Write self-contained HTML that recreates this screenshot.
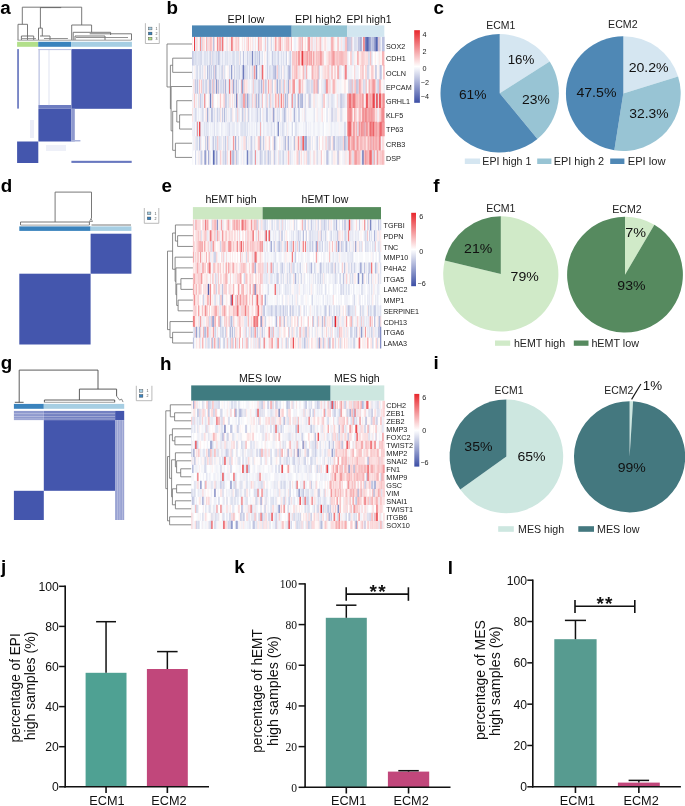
<!DOCTYPE html>
<html><head><meta charset="utf-8"><style>
html,body{margin:0;padding:0;background:#fff;}
body{width:685px;height:806px;overflow:hidden;}
svg{display:block;will-change:transform;}
</style></head><body>
<svg width="685" height="806" viewBox="0 0 685 806" shape-rendering="auto">
<rect x="0" y="0" width="685" height="806" fill="#fff"/>
<text x="0.30" y="13.50" font-size="18.8" text-anchor="start" font-weight="bold" fill="#000" font-family='"Liberation Sans", sans-serif' >a</text>
<text x="166.60" y="13.70" font-size="18.8" text-anchor="start" font-weight="bold" fill="#000" font-family='"Liberation Sans", sans-serif' >b</text>
<text x="433.60" y="13.70" font-size="18.8" text-anchor="start" font-weight="bold" fill="#000" font-family='"Liberation Sans", sans-serif' >c</text>
<text x="0.80" y="191.90" font-size="18.8" text-anchor="start" font-weight="bold" fill="#000" font-family='"Liberation Sans", sans-serif' >d</text>
<text x="161.50" y="192.00" font-size="18.8" text-anchor="start" font-weight="bold" fill="#000" font-family='"Liberation Sans", sans-serif' >e</text>
<text x="433.30" y="191.60" font-size="18.8" text-anchor="start" font-weight="bold" fill="#000" font-family='"Liberation Sans", sans-serif' >f</text>
<text x="0.80" y="368.60" font-size="18.8" text-anchor="start" font-weight="bold" fill="#000" font-family='"Liberation Sans", sans-serif' >g</text>
<text x="160.00" y="369.70" font-size="18.8" text-anchor="start" font-weight="bold" fill="#000" font-family='"Liberation Sans", sans-serif' >h</text>
<text x="433.60" y="369.40" font-size="18.8" text-anchor="start" font-weight="bold" fill="#000" font-family='"Liberation Sans", sans-serif' >i</text>
<text x="0.90" y="572.60" font-size="18.8" text-anchor="start" font-weight="bold" fill="#000" font-family='"Liberation Sans", sans-serif' >j</text>
<text x="234.20" y="572.60" font-size="18.8" text-anchor="start" font-weight="bold" fill="#000" font-family='"Liberation Sans", sans-serif' >k</text>
<text x="447.80" y="573.70" font-size="18.8" text-anchor="start" font-weight="bold" fill="#000" font-family='"Liberation Sans", sans-serif' >l</text>
<path d="M499.70,93.30 L499.70,34.10 A59.2,59.2 0 0 1 549.68,61.58 Z" stroke="none" fill="#d5e6f1" stroke-width="1" />
<path d="M499.70,93.30 L549.68,61.58 A59.2,59.2 0 0 1 537.44,138.91 Z" stroke="none" fill="#98c4d4" stroke-width="1" />
<path d="M499.70,93.30 L537.44,138.91 A59.2,59.2 0 1 1 499.70,34.10 Z" stroke="none" fill="#4f88b5" stroke-width="1" />
<path d="M623.30,93.60 L623.30,36.20 A57.4,57.4 0 0 1 678.10,76.53 Z" stroke="none" fill="#d5e6f1" stroke-width="1" />
<path d="M623.30,93.60 L678.10,76.53 A57.4,57.4 0 0 1 614.32,150.29 Z" stroke="none" fill="#98c4d4" stroke-width="1" />
<path d="M623.30,93.60 L614.32,150.29 A57.4,57.4 0 0 1 623.30,36.20 Z" stroke="none" fill="#4f88b5" stroke-width="1" />
<text x="500.70" y="28.50" font-size="10.2" text-anchor="middle" fill="#222" font-family='"Liberation Sans", sans-serif' textLength="29.0" lengthAdjust="spacingAndGlyphs">ECM1</text>
<text x="622.85" y="28.30" font-size="10.2" text-anchor="middle" fill="#222" font-family='"Liberation Sans", sans-serif' textLength="29.5" lengthAdjust="spacingAndGlyphs">ECM2</text>
<text x="521.00" y="63.60" font-size="13.2" text-anchor="middle" fill="#111" font-family='"Liberation Sans", sans-serif' textLength="26.7" lengthAdjust="spacingAndGlyphs">16%</text>
<text x="535.85" y="103.60" font-size="13.2" text-anchor="middle" fill="#111" font-family='"Liberation Sans", sans-serif' textLength="27.8" lengthAdjust="spacingAndGlyphs">23%</text>
<text x="472.75" y="98.70" font-size="13.2" text-anchor="middle" fill="#111" font-family='"Liberation Sans", sans-serif' textLength="27.6" lengthAdjust="spacingAndGlyphs">61%</text>
<text x="648.65" y="71.90" font-size="13.2" text-anchor="middle" fill="#111" font-family='"Liberation Sans", sans-serif' textLength="40.0" lengthAdjust="spacingAndGlyphs">20.2%</text>
<text x="648.95" y="117.50" font-size="13.2" text-anchor="middle" fill="#111" font-family='"Liberation Sans", sans-serif' textLength="39.4" lengthAdjust="spacingAndGlyphs">32.3%</text>
<text x="596.45" y="96.60" font-size="13.2" text-anchor="middle" fill="#111" font-family='"Liberation Sans", sans-serif' textLength="40.0" lengthAdjust="spacingAndGlyphs">47.5%</text>
<rect x="464.80" y="158.50" width="15.30" height="5.50" fill="#d5e6f1" />
<text x="482.30" y="165.10" font-size="10.2" fill="#222" font-family='"Liberation Sans", sans-serif' textLength="49.1" lengthAdjust="spacingAndGlyphs">EPI high 1</text>
<rect x="537.20" y="158.50" width="14.20" height="5.50" fill="#98c4d4" />
<text x="553.70" y="165.10" font-size="10.2" fill="#222" font-family='"Liberation Sans", sans-serif' textLength="50.4" lengthAdjust="spacingAndGlyphs">EPI high 2</text>
<rect x="610.20" y="158.50" width="14.20" height="5.50" fill="#4f88b5" />
<text x="627.70" y="165.10" font-size="10.2" fill="#222" font-family='"Liberation Sans", sans-serif' textLength="37.9" lengthAdjust="spacingAndGlyphs">EPI low</text>
<path d="M500.80,273.90 L500.80,216.30 A57.6,57.6 0 1 1 444.79,260.45 Z" stroke="none" fill="#d0eac8" stroke-width="1" />
<path d="M500.80,273.90 L444.79,260.45 A57.6,57.6 0 0 1 500.80,216.30 Z" stroke="none" fill="#568a5f" stroke-width="1" />
<path d="M625.00,274.70 L625.00,216.80 A57.9,57.9 0 0 1 654.39,224.81 Z" stroke="none" fill="#d0eac8" stroke-width="1" />
<path d="M625.00,274.70 L654.39,224.81 A57.9,57.9 0 1 1 625.00,216.80 Z" stroke="none" fill="#568a5f" stroke-width="1" />
<text x="500.85" y="211.70" font-size="10.2" text-anchor="middle" fill="#222" font-family='"Liberation Sans", sans-serif' textLength="29.3" lengthAdjust="spacingAndGlyphs">ECM1</text>
<text x="626.95" y="213.00" font-size="10.2" text-anchor="middle" fill="#222" font-family='"Liberation Sans", sans-serif' textLength="29.5" lengthAdjust="spacingAndGlyphs">ECM2</text>
<text x="478.15" y="252.90" font-size="13.2" text-anchor="middle" fill="#111" font-family='"Liberation Sans", sans-serif' textLength="28.2" lengthAdjust="spacingAndGlyphs">21%</text>
<text x="524.65" y="280.80" font-size="13.2" text-anchor="middle" fill="#111" font-family='"Liberation Sans", sans-serif' textLength="28.2" lengthAdjust="spacingAndGlyphs">79%</text>
<text x="635.55" y="236.90" font-size="13.2" text-anchor="middle" fill="#111" font-family='"Liberation Sans", sans-serif' textLength="20.8" lengthAdjust="spacingAndGlyphs">7%</text>
<text x="631.45" y="289.90" font-size="13.2" text-anchor="middle" fill="#111" font-family='"Liberation Sans", sans-serif' textLength="28.2" lengthAdjust="spacingAndGlyphs">93%</text>
<rect x="495.00" y="340.50" width="15.20" height="5.30" fill="#d0eac8" />
<text x="513.90" y="346.70" font-size="10.2" fill="#222" font-family='"Liberation Sans", sans-serif' textLength="51.3" lengthAdjust="spacingAndGlyphs">hEMT high</text>
<rect x="573.80" y="340.50" width="14.70" height="5.30" fill="#568a5f" />
<text x="591.40" y="346.70" font-size="10.2" fill="#222" font-family='"Liberation Sans", sans-serif' textLength="47.6" lengthAdjust="spacingAndGlyphs">hEMT low</text>
<path d="M506.40,456.40 L506.40,399.60 A56.8,56.8 0 1 1 460.27,489.55 Z" stroke="none" fill="#cde7e0" stroke-width="1" />
<path d="M506.40,456.40 L460.27,489.55 A56.8,56.8 0 0 1 506.40,399.60 Z" stroke="none" fill="#44787f" stroke-width="1" />
<path d="M629.60,456.80 L629.60,401.20 A55.6,55.6 0 0 1 633.09,401.31 Z" stroke="none" fill="#cde7e0" stroke-width="1" />
<path d="M629.60,456.80 L633.09,401.31 A55.6,55.6 0 1 1 629.60,401.20 Z" stroke="none" fill="#44787f" stroke-width="1" />
<text x="509.05" y="394.00" font-size="10.2" text-anchor="middle" fill="#222" font-family='"Liberation Sans", sans-serif' textLength="28.9" lengthAdjust="spacingAndGlyphs">ECM1</text>
<text x="618.75" y="394.20" font-size="10.2" text-anchor="middle" fill="#222" font-family='"Liberation Sans", sans-serif' textLength="29.1" lengthAdjust="spacingAndGlyphs">ECM2</text>
<text x="478.45" y="451.30" font-size="13.2" text-anchor="middle" fill="#111" font-family='"Liberation Sans", sans-serif' textLength="28.2" lengthAdjust="spacingAndGlyphs">35%</text>
<text x="531.55" y="461.40" font-size="13.2" text-anchor="middle" fill="#111" font-family='"Liberation Sans", sans-serif' textLength="28.2" lengthAdjust="spacingAndGlyphs">65%</text>
<text x="631.70" y="472.00" font-size="13.2" text-anchor="middle" fill="#111" font-family='"Liberation Sans", sans-serif' textLength="28.1" lengthAdjust="spacingAndGlyphs">99%</text>
<text x="652.40" y="389.50" font-size="13.2" text-anchor="middle" fill="#111" font-family='"Liberation Sans", sans-serif' textLength="19.3" lengthAdjust="spacingAndGlyphs">1%</text>
<line x1="631.60" y1="399.40" x2="640.90" y2="384.00" stroke="#111" stroke-width="1.1" />
<rect x="498.20" y="526.20" width="15.60" height="5.60" fill="#cde7e0" />
<text x="518.00" y="533.00" font-size="10.2" fill="#222" font-family='"Liberation Sans", sans-serif' textLength="46.2" lengthAdjust="spacingAndGlyphs">MES high</text>
<rect x="578.30" y="526.20" width="15.70" height="5.60" fill="#44787f" />
<text x="597.00" y="533.00" font-size="10.2" fill="#222" font-family='"Liberation Sans", sans-serif' textLength="42.4" lengthAdjust="spacingAndGlyphs">MES low</text>
<rect x="85.60" y="672.80" width="40.90" height="114.00" fill="#4fa193" />
<line x1="106.05" y1="672.80" x2="106.05" y2="621.70" stroke="#111" stroke-width="1.5" />
<line x1="96.10" y1="621.70" x2="116.00" y2="621.70" stroke="#111" stroke-width="1.5" />
<line x1="106.05" y1="786.80" x2="106.05" y2="793.00" stroke="#111" stroke-width="1.6" />
<rect x="146.90" y="669.00" width="40.90" height="117.80" fill="#c1477b" />
<line x1="167.35" y1="669.00" x2="167.35" y2="651.60" stroke="#111" stroke-width="1.5" />
<line x1="157.10" y1="651.60" x2="177.60" y2="651.60" stroke="#111" stroke-width="1.5" />
<line x1="167.35" y1="786.80" x2="167.35" y2="793.00" stroke="#111" stroke-width="1.6" />
<line x1="65.20" y1="585.55" x2="65.20" y2="787.55" stroke="#111" stroke-width="1.6" />
<line x1="64.40" y1="786.80" x2="209.00" y2="786.80" stroke="#111" stroke-width="1.6" />
<line x1="59.10" y1="786.80" x2="65.20" y2="786.80" stroke="#111" stroke-width="1.5" />
<text x="58.80" y="791.20" font-size="12.2" text-anchor="end" font-weight="normal" fill="#111" font-family='"Liberation Sans", sans-serif' >0</text>
<line x1="59.10" y1="746.70" x2="65.20" y2="746.70" stroke="#111" stroke-width="1.5" />
<text x="58.80" y="751.10" font-size="12.2" text-anchor="end" font-weight="normal" fill="#111" font-family='"Liberation Sans", sans-serif' >20</text>
<line x1="59.10" y1="706.60" x2="65.20" y2="706.60" stroke="#111" stroke-width="1.5" />
<text x="58.80" y="711.00" font-size="12.2" text-anchor="end" font-weight="normal" fill="#111" font-family='"Liberation Sans", sans-serif' >40</text>
<line x1="59.10" y1="666.50" x2="65.20" y2="666.50" stroke="#111" stroke-width="1.5" />
<text x="58.80" y="670.90" font-size="12.2" text-anchor="end" font-weight="normal" fill="#111" font-family='"Liberation Sans", sans-serif' >60</text>
<line x1="59.10" y1="626.40" x2="65.20" y2="626.40" stroke="#111" stroke-width="1.5" />
<text x="58.80" y="630.80" font-size="12.2" text-anchor="end" font-weight="normal" fill="#111" font-family='"Liberation Sans", sans-serif' >80</text>
<line x1="59.10" y1="586.30" x2="65.20" y2="586.30" stroke="#111" stroke-width="1.5" />
<text x="58.80" y="590.70" font-size="12.2" text-anchor="end" font-weight="normal" fill="#111" font-family='"Liberation Sans", sans-serif' >100</text>
<rect x="325.80" y="617.80" width="41.00" height="169.50" fill="#579b90" />
<line x1="346.30" y1="617.80" x2="346.30" y2="605.20" stroke="#111" stroke-width="1.5" />
<line x1="336.15" y1="605.20" x2="356.45" y2="605.20" stroke="#111" stroke-width="1.5" />
<line x1="346.30" y1="787.30" x2="346.30" y2="793.50" stroke="#111" stroke-width="1.6" />
<rect x="387.90" y="771.60" width="41.30" height="15.70" fill="#c1477b" />
<line x1="408.55" y1="771.60" x2="408.55" y2="770.70" stroke="#111" stroke-width="1.5" />
<line x1="398.30" y1="770.70" x2="418.80" y2="770.70" stroke="#111" stroke-width="1.5" />
<line x1="408.55" y1="787.30" x2="408.55" y2="793.50" stroke="#111" stroke-width="1.6" />
<line x1="305.10" y1="583.15" x2="305.10" y2="788.05" stroke="#111" stroke-width="1.6" />
<line x1="304.30" y1="787.30" x2="450.50" y2="787.30" stroke="#111" stroke-width="1.6" />
<line x1="298.60" y1="787.30" x2="305.10" y2="787.30" stroke="#111" stroke-width="1.5" />
<text transform="translate(297.00,791.80) scale(0.87,1)" font-size="13.3" text-anchor="end" fill="#111" font-family='"Liberation Serif", serif'>0</text>
<line x1="298.60" y1="746.62" x2="305.10" y2="746.62" stroke="#111" stroke-width="1.5" />
<text transform="translate(297.00,751.12) scale(0.87,1)" font-size="13.3" text-anchor="end" fill="#111" font-family='"Liberation Serif", serif'>20</text>
<line x1="298.60" y1="705.94" x2="305.10" y2="705.94" stroke="#111" stroke-width="1.5" />
<text transform="translate(297.00,710.44) scale(0.87,1)" font-size="13.3" text-anchor="end" fill="#111" font-family='"Liberation Serif", serif'>40</text>
<line x1="298.60" y1="665.26" x2="305.10" y2="665.26" stroke="#111" stroke-width="1.5" />
<text transform="translate(297.00,669.76) scale(0.87,1)" font-size="13.3" text-anchor="end" fill="#111" font-family='"Liberation Serif", serif'>60</text>
<line x1="298.60" y1="624.58" x2="305.10" y2="624.58" stroke="#111" stroke-width="1.5" />
<text transform="translate(297.00,629.08) scale(0.87,1)" font-size="13.3" text-anchor="end" fill="#111" font-family='"Liberation Serif", serif'>80</text>
<line x1="298.60" y1="583.90" x2="305.10" y2="583.90" stroke="#111" stroke-width="1.5" />
<text transform="translate(297.00,588.40) scale(0.87,1)" font-size="13.3" text-anchor="end" fill="#111" font-family='"Liberation Serif", serif'>100</text>
<rect x="554.30" y="639.20" width="42.30" height="147.60" fill="#579b90" />
<line x1="575.45" y1="639.20" x2="575.45" y2="620.40" stroke="#111" stroke-width="1.5" />
<line x1="564.90" y1="620.40" x2="586.00" y2="620.40" stroke="#111" stroke-width="1.5" />
<line x1="575.45" y1="786.80" x2="575.45" y2="793.00" stroke="#111" stroke-width="1.6" />
<rect x="617.90" y="782.60" width="41.90" height="4.20" fill="#c1477b" />
<line x1="638.85" y1="782.60" x2="638.85" y2="780.40" stroke="#111" stroke-width="1.5" />
<line x1="628.60" y1="780.40" x2="649.10" y2="780.40" stroke="#111" stroke-width="1.5" />
<line x1="638.85" y1="786.80" x2="638.85" y2="793.00" stroke="#111" stroke-width="1.6" />
<line x1="532.80" y1="579.45" x2="532.80" y2="787.55" stroke="#111" stroke-width="1.6" />
<line x1="532.00" y1="786.80" x2="680.90" y2="786.80" stroke="#111" stroke-width="1.6" />
<line x1="527.30" y1="786.80" x2="532.80" y2="786.80" stroke="#111" stroke-width="1.5" />
<text x="527.00" y="791.20" font-size="12.2" text-anchor="end" font-weight="normal" fill="#111" font-family='"Liberation Sans", sans-serif' >0</text>
<line x1="527.30" y1="745.48" x2="532.80" y2="745.48" stroke="#111" stroke-width="1.5" />
<text x="527.00" y="749.88" font-size="12.2" text-anchor="end" font-weight="normal" fill="#111" font-family='"Liberation Sans", sans-serif' >20</text>
<line x1="527.30" y1="704.16" x2="532.80" y2="704.16" stroke="#111" stroke-width="1.5" />
<text x="527.00" y="708.56" font-size="12.2" text-anchor="end" font-weight="normal" fill="#111" font-family='"Liberation Sans", sans-serif' >40</text>
<line x1="527.30" y1="662.84" x2="532.80" y2="662.84" stroke="#111" stroke-width="1.5" />
<text x="527.00" y="667.24" font-size="12.2" text-anchor="end" font-weight="normal" fill="#111" font-family='"Liberation Sans", sans-serif' >60</text>
<line x1="527.30" y1="621.52" x2="532.80" y2="621.52" stroke="#111" stroke-width="1.5" />
<text x="527.00" y="625.92" font-size="12.2" text-anchor="end" font-weight="normal" fill="#111" font-family='"Liberation Sans", sans-serif' >80</text>
<line x1="527.30" y1="580.20" x2="532.80" y2="580.20" stroke="#111" stroke-width="1.5" />
<text x="527.00" y="584.60" font-size="12.2" text-anchor="end" font-weight="normal" fill="#111" font-family='"Liberation Sans", sans-serif' >100</text>
<text x="106.90" y="804.80" font-size="12.6" text-anchor="middle" fill="#111" font-family='"Liberation Sans", sans-serif' textLength="35.3" lengthAdjust="spacingAndGlyphs">ECM1</text>
<text x="168.90" y="804.80" font-size="12.6" text-anchor="middle" fill="#111" font-family='"Liberation Sans", sans-serif' textLength="35.3" lengthAdjust="spacingAndGlyphs">ECM2</text>
<text x="348.60" y="804.80" font-size="12.6" text-anchor="middle" fill="#111" font-family='"Liberation Sans", sans-serif' textLength="35.3" lengthAdjust="spacingAndGlyphs">ECM1</text>
<text x="411.10" y="804.80" font-size="12.6" text-anchor="middle" fill="#111" font-family='"Liberation Sans", sans-serif' textLength="35.3" lengthAdjust="spacingAndGlyphs">ECM2</text>
<text x="577.50" y="804.80" font-size="12.6" text-anchor="middle" fill="#111" font-family='"Liberation Sans", sans-serif' textLength="35.3" lengthAdjust="spacingAndGlyphs">ECM1</text>
<text x="641.10" y="804.80" font-size="12.6" text-anchor="middle" fill="#111" font-family='"Liberation Sans", sans-serif' textLength="35.3" lengthAdjust="spacingAndGlyphs">ECM2</text>
<line x1="346.20" y1="594.10" x2="408.40" y2="594.10" stroke="#111" stroke-width="1.6" />
<line x1="346.20" y1="587.30" x2="346.20" y2="600.80" stroke="#111" stroke-width="1.6" />
<line x1="408.40" y1="587.30" x2="408.40" y2="600.80" stroke="#111" stroke-width="1.6" />
<text x="369.60" y="597.90" font-size="19" text-anchor="start" font-weight="bold" fill="#111" font-family='"Liberation Sans", sans-serif' letter-spacing="1.3">**</text>
<line x1="575.00" y1="606.20" x2="634.80" y2="606.20" stroke="#111" stroke-width="1.6" />
<line x1="575.00" y1="599.90" x2="575.00" y2="613.00" stroke="#111" stroke-width="1.6" />
<line x1="634.80" y1="599.90" x2="634.80" y2="613.00" stroke="#111" stroke-width="1.6" />
<text x="596.40" y="610.40" font-size="19" text-anchor="start" font-weight="bold" fill="#111" font-family='"Liberation Sans", sans-serif' letter-spacing="1.3">**</text>
<text transform="translate(19.80,687.90) rotate(-90)" font-size="13.8" text-anchor="middle" fill="#111" font-family='"Liberation Sans", sans-serif' textLength="109.2" lengthAdjust="spacingAndGlyphs">percentage of EPI</text>
<text transform="translate(34.80,685.90) rotate(-90)" font-size="13.8" text-anchor="middle" fill="#111" font-family='"Liberation Sans", sans-serif' textLength="108.6" lengthAdjust="spacingAndGlyphs">high samples (%)</text>
<text transform="translate(261.90,691.00) rotate(-90)" font-size="13.8" text-anchor="middle" fill="#111" font-family='"Liberation Sans", sans-serif' textLength="123.5" lengthAdjust="spacingAndGlyphs">percentage of hEMT</text>
<text transform="translate(277.80,691.00) rotate(-90)" font-size="13.8" text-anchor="middle" fill="#111" font-family='"Liberation Sans", sans-serif' textLength="110.0" lengthAdjust="spacingAndGlyphs">high samples (%)</text>
<text transform="translate(485.00,680.10) rotate(-90)" font-size="13.8" text-anchor="middle" fill="#111" font-family='"Liberation Sans", sans-serif' textLength="120.0" lengthAdjust="spacingAndGlyphs">percentage of MES</text>
<text transform="translate(500.00,681.10) rotate(-90)" font-size="13.8" text-anchor="middle" fill="#111" font-family='"Liberation Sans", sans-serif' textLength="109.8" lengthAdjust="spacingAndGlyphs">high samples (%)</text>
<defs><filter id="hblur" filterUnits="userSpaceOnUse" x="0" y="0" width="685" height="806"><feGaussianBlur stdDeviation="0.32 0.2"/></filter></defs>
<g filter="url(#hblur)">
<path stroke="#fdeded" stroke-width="14.48" d="M192.0 44.0h1.3M233.9 44.0h1.3M269.8 44.0h1.3M280.7 44.0h1.3M284.7 44.0h1.3M297.7 44.0h1.3M316.5 44.0h1.3M323.5 44.0h1.3M325.5 44.0h1.3M334.4 44.0h1.3M210.9 58.2h1.3M238.9 58.2h1.3M263.8 58.2h1.3M296.7 58.2h1.3M325.5 58.2h1.3M356.3 58.2h1.3M360.3 58.2h1.3M367.3 58.2h1.3M369.3 58.2h1.3M374.3 58.2h2.3M379.3 58.2h1.3M381.3 58.2h1.3M194.0 72.3h1.3M222.9 72.3h1.3M250.8 72.3h1.3M259.8 72.3h1.3M282.7 72.3h1.3M292.7 72.3h1.3M315.5 72.3h1.3M319.5 72.3h1.3M333.4 72.3h1.3M336.4 72.3h1.3M351.3 72.3h1.3M358.3 72.3h1.3M366.3 72.3h1.3M369.3 72.3h1.3M373.3 72.3h1.3M382.3 72.3h1.3M223.9 86.5h1.3M244.8 86.5h1.3M246.8 86.5h1.3M263.8 86.5h1.3M268.8 86.5h1.3M273.8 86.5h1.3M302.6 86.5h2.3M309.6 86.5h1.3M318.5 86.5h1.3M320.5 86.5h1.3M343.3 86.5h1.3M345.3 86.5h1.3M347.3 86.5h1.3M353.3 86.5h1.3M375.3 86.5h1.3M193.0 100.7h1.3M208.0 100.7h1.3M216.9 100.7h1.3M252.8 100.7h1.3M270.8 100.7h1.3M312.6 100.7h1.3M339.4 100.7h1.3M343.3 100.7h1.3M381.3 100.7h1.3M208.9 114.9h1.3M231.9 114.9h1.3M246.8 114.9h1.3M261.8 114.9h1.3M271.8 114.9h1.3M289.7 114.9h2.3M301.6 114.9h1.3M334.4 114.9h1.3M342.3 114.9h1.3M378.3 114.9h1.3M286.7 129.1h1.3M328.4 129.1h1.3M355.3 129.1h1.3M194.0 143.2h1.3M206.0 143.2h1.3M208.0 143.2h1.3M240.9 143.2h1.3M254.8 143.2h1.3M265.8 143.2h1.3M271.8 143.2h2.3M278.7 143.2h1.3M285.7 143.2h1.3M306.6 143.2h1.3M321.5 143.2h1.3M369.3 143.2h1.3M383.3 143.2h1.3M199.0 157.4h1.3M265.8 157.4h1.3M272.8 157.4h1.3M293.7 157.4h1.3M295.7 157.4h1.3M314.5 157.4h1.3M332.4 157.4h2.3M340.4 157.4h1.3M343.3 157.4h1.3M346.3 157.4h1.3M360.3 157.4h1.3M366.3 157.4h1.3M368.3 157.4h1.3"/>
<path stroke="#ffffff" stroke-width="14.48" d="M193.0 44.0h1.3M214.9 44.0h1.3M239.9 44.0h2.3M248.8 44.0h1.3M250.8 44.0h1.3M255.8 44.0h1.3M261.8 44.0h1.3M265.8 44.0h1.3M271.8 44.0h1.3M289.7 44.0h1.3M291.7 44.0h2.3M305.6 44.0h1.3M318.5 44.0h1.3M328.4 44.0h1.3M340.4 44.0h1.3M240.9 58.2h2.3M262.8 58.2h1.3M286.7 58.2h1.3M311.6 58.2h1.3M314.5 58.2h1.3M348.3 58.2h2.3M353.3 58.2h1.3M358.3 58.2h1.3M365.3 58.2h1.3M372.3 58.2h2.3M376.3 58.2h1.3M193.0 72.3h1.3M198.0 72.3h1.3M206.0 72.3h1.3M211.9 72.3h1.3M225.9 72.3h1.3M247.8 72.3h1.3M257.8 72.3h1.3M263.8 72.3h1.3M301.6 72.3h1.3M309.6 72.3h1.3M320.5 72.3h1.3M342.3 72.3h1.3M353.3 72.3h1.3M359.3 72.3h1.3M364.3 72.3h1.3M381.3 72.3h1.3M198.0 86.5h1.3M200.0 86.5h1.3M229.9 86.5h1.3M249.8 86.5h1.3M266.8 86.5h1.3M272.8 86.5h1.3M304.6 86.5h1.3M319.5 86.5h1.3M342.3 86.5h1.3M346.3 86.5h1.3M362.3 86.5h1.3M207.0 100.7h1.3M213.9 100.7h3.3M220.9 100.7h1.3M262.8 100.7h1.3M273.8 100.7h1.3M295.7 100.7h1.3M324.5 100.7h1.3M334.4 100.7h1.3M341.3 100.7h1.3M199.0 114.9h1.3M233.9 114.9h1.3M249.8 114.9h1.3M260.8 114.9h1.3M280.7 114.9h1.3M291.7 114.9h1.3M299.6 114.9h1.3M312.6 114.9h1.3M314.5 114.9h1.3M320.5 114.9h1.3M322.5 114.9h1.3M324.5 114.9h2.3M327.4 114.9h1.3M336.4 114.9h1.3M346.3 114.9h1.3M208.9 129.1h1.3M219.9 129.1h1.3M238.9 129.1h1.3M254.8 129.1h1.3M261.8 129.1h1.3M274.8 129.1h1.3M289.7 129.1h1.3M292.7 129.1h2.3M301.6 129.1h1.3M306.6 129.1h1.3M311.6 129.1h1.3M321.5 129.1h1.3M323.5 129.1h2.3M332.4 129.1h1.3M351.3 129.1h1.3M198.0 143.2h1.3M202.0 143.2h1.3M213.9 143.2h1.3M238.9 143.2h1.3M270.8 143.2h1.3M277.7 143.2h1.3M312.6 143.2h1.3M319.5 143.2h2.3M326.4 143.2h1.3M345.3 143.2h1.3M193.0 157.4h2.3M210.9 157.4h1.3M228.9 157.4h1.3M238.9 157.4h1.3M252.8 157.4h1.3M286.7 157.4h1.3M299.6 157.4h1.3M301.6 157.4h1.3M304.6 157.4h1.3M321.5 157.4h1.3M330.4 157.4h1.3M341.3 157.4h1.3M350.3 157.4h1.3"/>
<path stroke="#e93e45" stroke-width="14.48" d="M194.0 44.0h1.3M379.3 129.1h1.3"/>
<path stroke="#e7e9f4" stroke-width="14.48" d="M195.0 44.0h1.3M199.0 44.0h1.3M207.0 44.0h1.3M220.9 44.0h1.3M226.9 44.0h1.3M272.8 44.0h1.3M300.6 44.0h1.3M309.6 44.0h1.3M339.4 44.0h1.3M348.3 44.0h1.3M355.3 44.0h1.3M359.3 44.0h1.3M381.3 44.0h1.3M197.0 58.2h1.3M206.0 58.2h1.3M213.9 58.2h2.3M216.9 58.2h1.3M225.9 58.2h1.3M228.9 58.2h2.3M244.8 58.2h1.3M272.8 58.2h1.3M276.7 58.2h1.3M351.3 58.2h1.3M192.0 72.3h1.3M205.0 72.3h1.3M252.8 72.3h1.3M256.8 72.3h1.3M270.8 72.3h2.3M275.7 72.3h1.3M297.7 72.3h1.3M321.5 72.3h1.3M343.3 72.3h1.3M347.3 72.3h1.3M368.3 72.3h1.3M194.0 86.5h1.3M196.0 86.5h1.3M221.9 86.5h1.3M230.9 86.5h1.3M233.9 86.5h2.3M251.8 86.5h1.3M255.8 86.5h1.3M261.8 86.5h1.3M275.7 86.5h1.3M312.6 86.5h1.3M321.5 86.5h1.3M330.4 86.5h1.3M339.4 86.5h1.3M378.3 86.5h1.3M383.3 86.5h1.3M205.0 100.7h1.3M208.9 100.7h1.3M212.9 100.7h1.3M238.9 100.7h1.3M253.8 100.7h1.3M264.8 100.7h1.3M272.8 100.7h1.3M285.7 100.7h1.3M292.7 100.7h1.3M302.6 100.7h1.3M314.5 100.7h1.3M330.4 100.7h1.3M332.4 100.7h2.3M337.4 100.7h2.3M194.0 114.9h1.3M196.0 114.9h1.3M198.0 114.9h1.3M201.0 114.9h1.3M203.0 114.9h1.3M205.0 114.9h1.3M234.9 114.9h1.3M237.9 114.9h2.3M250.8 114.9h2.3M254.8 114.9h2.3M262.8 114.9h1.3M268.8 114.9h2.3M282.7 114.9h1.3M285.7 114.9h1.3M287.7 114.9h1.3M294.7 114.9h2.3M339.4 114.9h1.3M341.3 114.9h1.3M194.0 129.1h1.3M207.0 129.1h2.3M215.9 129.1h2.3M220.9 129.1h1.3M226.9 129.1h2.3M231.9 129.1h3.3M235.9 129.1h2.3M239.9 129.1h1.3M242.8 129.1h1.3M248.8 129.1h1.3M262.8 129.1h1.3M266.8 129.1h2.3M279.7 129.1h1.3M283.7 129.1h1.3M285.7 129.1h1.3M322.5 129.1h1.3M335.4 129.1h1.3M339.4 129.1h1.3M343.3 129.1h1.3M345.3 129.1h1.3M195.0 143.2h1.3M217.9 143.2h1.3M219.9 143.2h2.3M247.8 143.2h1.3M251.8 143.2h1.3M260.8 143.2h1.3M275.7 143.2h1.3M283.7 143.2h1.3M289.7 143.2h2.3M311.6 143.2h1.3M314.5 143.2h1.3M324.5 143.2h1.3M355.3 143.2h1.3M371.3 143.2h1.3M198.0 157.4h1.3M209.9 157.4h1.3M221.9 157.4h1.3M223.9 157.4h1.3M225.9 157.4h1.3M230.9 157.4h1.3M233.9 157.4h1.3M237.9 157.4h1.3M242.8 157.4h1.3M248.8 157.4h1.3M268.8 157.4h1.3M274.8 157.4h1.3M285.7 157.4h1.3M306.6 157.4h1.3M312.6 157.4h1.3M317.5 157.4h1.3M323.5 157.4h1.3M328.4 157.4h1.3M336.4 157.4h1.3M344.3 157.4h1.3"/>
<path stroke="#fbdadc" stroke-width="14.48" d="M196.0 44.0h1.3M208.0 44.0h2.3M213.9 44.0h1.3M217.9 44.0h1.3M222.9 44.0h1.3M234.9 44.0h1.3M243.8 44.0h1.3M245.8 44.0h1.3M281.7 44.0h1.3M313.5 44.0h1.3M324.5 44.0h1.3M341.3 44.0h1.3M361.3 44.0h1.3M294.7 58.2h1.3M299.6 58.2h2.3M307.6 58.2h1.3M330.4 58.2h1.3M213.9 72.3h1.3M262.8 72.3h1.3M298.6 72.3h1.3M306.6 72.3h1.3M193.0 86.5h1.3M269.8 86.5h2.3M274.8 86.5h1.3M280.7 86.5h1.3M288.7 86.5h1.3M314.5 86.5h1.3M329.4 86.5h1.3M360.3 86.5h1.3M222.9 100.7h1.3M231.9 100.7h1.3M322.5 100.7h1.3M336.4 100.7h1.3M361.3 100.7h1.3M364.3 100.7h1.3M368.3 100.7h1.3M321.5 114.9h1.3M356.3 114.9h1.3M367.3 114.9h1.3M243.8 143.2h1.3M318.5 143.2h1.3M322.5 143.2h1.3M363.3 143.2h1.3M226.9 157.4h1.3M297.7 157.4h1.3M300.6 157.4h1.3M305.6 157.4h1.3M309.6 157.4h1.3M313.5 157.4h1.3"/>
<path stroke="#fce4e4" stroke-width="14.48" d="M197.0 44.0h1.3M203.0 44.0h2.3M225.9 44.0h1.3M228.9 44.0h1.3M236.9 44.0h1.3M241.8 44.0h1.3M246.8 44.0h1.3M249.8 44.0h1.3M251.8 44.0h1.3M254.8 44.0h1.3M283.7 44.0h1.3M288.7 44.0h1.3M304.6 44.0h1.3M310.6 44.0h1.3M317.5 44.0h1.3M333.4 44.0h1.3M318.5 58.2h1.3M326.4 58.2h2.3M354.3 58.2h1.3M359.3 58.2h1.3M363.3 58.2h1.3M378.3 58.2h1.3M204.0 72.3h1.3M254.8 72.3h1.3M299.6 72.3h1.3M313.5 72.3h1.3M322.5 72.3h2.3M325.5 72.3h2.3M330.4 72.3h1.3M338.4 72.3h1.3M378.3 72.3h1.3M208.0 86.5h1.3M216.9 86.5h1.3M245.8 86.5h1.3M327.4 86.5h1.3M344.3 86.5h1.3M369.3 86.5h1.3M380.3 86.5h1.3M196.0 100.7h1.3M199.0 100.7h1.3M228.9 100.7h2.3M245.8 100.7h1.3M287.7 100.7h1.3M296.7 100.7h1.3M307.6 100.7h1.3M313.5 100.7h1.3M316.5 100.7h1.3M328.4 100.7h1.3M192.0 114.9h1.3M206.0 114.9h1.3M219.9 114.9h1.3M243.8 114.9h1.3M303.6 114.9h1.3M316.5 114.9h1.3M337.4 114.9h1.3M352.3 114.9h1.3M200.0 143.2h1.3M208.9 143.2h1.3M242.8 143.2h1.3M244.8 143.2h1.3M264.8 143.2h1.3M294.7 143.2h2.3M298.6 143.2h1.3M331.4 143.2h2.3M342.3 143.2h1.3M234.9 157.4h1.3M277.7 157.4h1.3M288.7 157.4h1.3M303.6 157.4h1.3M334.4 157.4h1.3M345.3 157.4h1.3"/>
<path stroke="#fef6f6" stroke-width="14.48" d="M198.0 44.0h1.3M211.9 44.0h1.3M215.9 44.0h1.3M224.9 44.0h1.3M227.9 44.0h1.3M232.9 44.0h1.3M273.8 44.0h1.3M276.7 44.0h1.3M296.7 44.0h1.3M302.6 44.0h2.3M322.5 44.0h1.3M326.4 44.0h1.3M338.4 44.0h1.3M344.3 44.0h1.3M357.3 44.0h1.3M264.8 58.2h1.3M287.7 58.2h1.3M323.5 58.2h1.3M380.3 58.2h1.3M203.0 72.3h1.3M226.9 72.3h2.3M232.9 72.3h1.3M281.7 72.3h1.3M300.6 72.3h1.3M332.4 72.3h1.3M341.3 72.3h1.3M361.3 72.3h1.3M370.3 72.3h1.3M374.3 72.3h1.3M376.3 72.3h2.3M204.0 86.5h1.3M207.0 86.5h1.3M218.9 86.5h1.3M225.9 86.5h1.3M236.9 86.5h1.3M284.7 86.5h1.3M294.7 86.5h1.3M334.4 86.5h1.3M338.4 86.5h1.3M341.3 86.5h1.3M381.3 86.5h2.3M206.0 100.7h1.3M218.9 100.7h1.3M221.9 100.7h1.3M232.9 100.7h1.3M234.9 100.7h1.3M256.8 100.7h1.3M259.8 100.7h1.3M276.7 100.7h1.3M279.7 100.7h1.3M281.7 100.7h1.3M283.7 100.7h1.3M288.7 100.7h1.3M298.6 100.7h1.3M303.6 100.7h1.3M305.6 100.7h1.3M319.5 100.7h1.3M204.0 114.9h1.3M214.9 114.9h1.3M220.9 114.9h1.3M222.9 114.9h1.3M226.9 114.9h1.3M232.9 114.9h1.3M240.9 114.9h1.3M274.8 114.9h1.3M279.7 114.9h1.3M286.7 114.9h1.3M288.7 114.9h1.3M315.5 114.9h1.3M328.4 114.9h1.3M330.4 114.9h1.3M332.4 114.9h1.3M338.4 114.9h1.3M344.3 114.9h1.3M353.3 114.9h1.3M357.3 114.9h1.3M361.3 114.9h1.3M375.3 114.9h1.3M338.4 129.1h1.3M374.3 129.1h1.3M203.0 143.2h1.3M221.9 143.2h1.3M233.9 143.2h1.3M235.9 143.2h2.3M248.8 143.2h1.3M256.8 143.2h1.3M261.8 143.2h1.3M266.8 143.2h2.3M279.7 143.2h1.3M281.7 143.2h1.3M292.7 143.2h1.3M310.6 143.2h1.3M313.5 143.2h1.3M330.4 143.2h1.3M347.3 143.2h1.3M358.3 143.2h1.3M366.3 143.2h1.3M381.3 143.2h1.3M197.0 157.4h1.3M203.0 157.4h1.3M206.0 157.4h1.3M208.9 157.4h1.3M220.9 157.4h1.3M241.8 157.4h1.3M257.8 157.4h1.3M270.8 157.4h1.3M315.5 157.4h1.3M318.5 157.4h1.3M322.5 157.4h1.3M324.5 157.4h1.3M335.4 157.4h1.3M378.3 157.4h1.3"/>
<path stroke="#f29194" stroke-width="14.48" d="M200.0 44.0h1.3M216.9 44.0h1.3M257.8 44.0h1.3M308.6 44.0h1.3M342.3 58.2h1.3M317.5 72.3h1.3M337.4 72.3h1.3M316.5 86.5h1.3M368.3 86.5h1.3M348.3 114.9h2.3M354.3 114.9h1.3M364.3 114.9h1.3M370.3 114.9h1.3M378.3 129.1h1.3M352.3 143.2h1.3"/>
<path stroke="#d6daec" stroke-width="14.48" d="M201.0 44.0h1.3M270.8 44.0h1.3M343.3 44.0h1.3M356.3 44.0h1.3M364.3 44.0h1.3M193.0 58.2h1.3M195.0 58.2h1.3M200.0 58.2h2.3M208.9 58.2h1.3M211.9 58.2h1.3M215.9 58.2h1.3M221.9 58.2h1.3M232.9 58.2h1.3M239.9 58.2h1.3M280.7 58.2h1.3M282.7 58.2h1.3M197.0 72.3h1.3M200.0 72.3h1.3M215.9 72.3h1.3M220.9 72.3h1.3M228.9 72.3h1.3M243.8 72.3h2.3M248.8 72.3h1.3M251.8 72.3h1.3M268.8 72.3h1.3M277.7 72.3h1.3M280.7 72.3h1.3M318.5 72.3h1.3M339.4 72.3h1.3M379.3 72.3h1.3M205.0 86.5h1.3M219.9 86.5h2.3M237.9 86.5h1.3M242.8 86.5h1.3M265.8 86.5h1.3M285.7 86.5h1.3M307.6 86.5h2.3M310.6 86.5h2.3M352.3 86.5h1.3M198.0 100.7h1.3M241.8 100.7h1.3M248.8 100.7h1.3M258.8 100.7h1.3M265.8 100.7h1.3M278.7 100.7h1.3M290.7 100.7h1.3M293.7 100.7h1.3M304.6 100.7h1.3M321.5 100.7h1.3M327.4 100.7h1.3M331.4 100.7h1.3M344.3 100.7h1.3M377.3 100.7h1.3M195.0 114.9h1.3M202.0 114.9h1.3M218.9 114.9h1.3M225.9 114.9h1.3M230.9 114.9h1.3M244.8 114.9h1.3M273.8 114.9h1.3M276.7 114.9h1.3M297.7 114.9h1.3M335.4 114.9h1.3M340.4 114.9h1.3M200.0 129.1h1.3M213.9 129.1h1.3M228.9 129.1h1.3M244.8 129.1h1.3M281.7 129.1h1.3M291.7 129.1h1.3M330.4 129.1h1.3M197.0 143.2h1.3M274.8 143.2h1.3M308.6 143.2h1.3M335.4 143.2h1.3M195.0 157.4h1.3M216.9 157.4h1.3M222.9 157.4h1.3M249.8 157.4h1.3M260.8 157.4h1.3M263.8 157.4h2.3M269.8 157.4h1.3M316.5 157.4h1.3"/>
<path stroke="#fad1d3" stroke-width="14.48" d="M202.0 44.0h1.3M235.9 44.0h1.3M258.8 44.0h3.3M275.7 44.0h1.3M277.7 44.0h1.3M286.7 44.0h1.3M320.5 44.0h1.3M316.5 58.2h1.3M335.4 58.2h1.3M337.4 58.2h1.3M364.3 58.2h1.3M366.3 58.2h1.3M383.3 58.2h1.3M276.7 72.3h1.3M291.7 72.3h1.3M296.7 72.3h1.3M303.6 72.3h1.3M324.5 72.3h1.3M372.3 72.3h1.3M213.9 86.5h1.3M231.9 86.5h1.3M243.8 86.5h1.3M289.7 86.5h1.3M291.7 86.5h1.3M328.4 86.5h1.3M335.4 86.5h1.3M361.3 86.5h1.3M223.9 100.7h1.3M251.8 100.7h1.3M254.8 100.7h1.3M266.8 100.7h1.3M269.8 100.7h1.3M275.7 100.7h1.3M351.3 100.7h1.3M355.3 100.7h1.3M365.3 100.7h1.3M378.3 100.7h1.3M236.9 114.9h1.3M355.3 114.9h1.3M358.3 114.9h1.3M360.3 114.9h1.3M374.3 114.9h1.3M368.3 129.1h1.3M226.9 143.2h1.3M299.6 143.2h1.3M325.5 143.2h1.3M365.3 143.2h1.3M374.3 143.2h1.3M382.3 143.2h1.3M296.7 157.4h1.3M338.4 157.4h1.3M348.3 157.4h1.3M383.3 157.4h1.3"/>
<path stroke="#f7f8fb" stroke-width="14.48" d="M205.0 44.0h1.3M223.9 44.0h1.3M229.9 44.0h1.3M238.9 44.0h1.3M242.8 44.0h1.3M244.8 44.0h1.3M253.8 44.0h1.3M262.8 44.0h1.3M268.8 44.0h1.3M282.7 44.0h1.3M295.7 44.0h1.3M306.6 44.0h1.3M335.4 44.0h2.3M353.3 44.0h1.3M380.3 44.0h1.3M208.0 58.2h1.3M234.9 58.2h1.3M243.8 58.2h1.3M245.8 58.2h1.3M259.8 58.2h1.3M265.8 58.2h1.3M269.8 58.2h2.3M284.7 58.2h1.3M324.5 58.2h1.3M355.3 58.2h1.3M377.3 58.2h1.3M208.0 72.3h1.3M224.9 72.3h1.3M229.9 72.3h1.3M234.9 72.3h1.3M239.9 72.3h1.3M285.7 72.3h1.3M307.6 72.3h2.3M310.6 72.3h1.3M335.4 72.3h1.3M349.3 72.3h1.3M352.3 72.3h1.3M363.3 72.3h1.3M192.0 86.5h1.3M238.9 86.5h1.3M277.7 86.5h1.3M286.7 86.5h1.3M297.7 86.5h1.3M300.6 86.5h1.3M331.4 86.5h1.3M336.4 86.5h1.3M340.4 86.5h1.3M366.3 86.5h2.3M197.0 100.7h1.3M203.0 100.7h1.3M210.9 100.7h1.3M217.9 100.7h1.3M226.9 100.7h1.3M230.9 100.7h1.3M263.8 100.7h1.3M267.8 100.7h1.3M289.7 100.7h1.3M306.6 100.7h1.3M311.6 100.7h1.3M317.5 100.7h2.3M325.5 100.7h1.3M335.4 100.7h1.3M363.3 100.7h1.3M197.0 114.9h1.3M209.9 114.9h1.3M212.9 114.9h1.3M224.9 114.9h1.3M228.9 114.9h1.3M239.9 114.9h1.3M245.8 114.9h1.3M267.8 114.9h1.3M296.7 114.9h1.3M300.6 114.9h1.3M302.6 114.9h1.3M306.6 114.9h6.3M318.5 114.9h1.3M323.5 114.9h1.3M343.3 114.9h1.3M345.3 114.9h1.3M195.0 129.1h1.3M210.9 129.1h1.3M214.9 129.1h1.3M218.9 129.1h1.3M222.9 129.1h2.3M234.9 129.1h1.3M247.8 129.1h1.3M249.8 129.1h1.3M252.8 129.1h1.3M257.8 129.1h1.3M264.8 129.1h1.3M272.8 129.1h1.3M275.7 129.1h1.3M278.7 129.1h1.3M284.7 129.1h1.3M288.7 129.1h1.3M298.6 129.1h3.3M303.6 129.1h1.3M308.6 129.1h1.3M310.6 129.1h1.3M314.5 129.1h3.3M319.5 129.1h2.3M325.5 129.1h3.3M329.4 129.1h1.3M336.4 129.1h1.3M340.4 129.1h1.3M342.3 129.1h1.3M346.3 129.1h1.3M192.0 143.2h1.3M204.0 143.2h1.3M209.9 143.2h2.3M225.9 143.2h1.3M230.9 143.2h2.3M239.9 143.2h1.3M246.8 143.2h1.3M252.8 143.2h1.3M255.8 143.2h1.3M276.7 143.2h1.3M291.7 143.2h1.3M296.7 143.2h1.3M315.5 143.2h1.3M317.5 143.2h1.3M323.5 143.2h1.3M338.4 143.2h1.3M340.4 143.2h1.3M192.0 157.4h1.3M196.0 157.4h1.3M202.0 157.4h1.3M207.0 157.4h1.3M211.9 157.4h1.3M214.9 157.4h1.3M217.9 157.4h1.3M227.9 157.4h1.3M239.9 157.4h1.3M244.8 157.4h1.3M262.8 157.4h1.3M271.8 157.4h1.3M276.7 157.4h1.3M280.7 157.4h1.3M292.7 157.4h1.3M294.7 157.4h1.3M310.6 157.4h2.3M325.5 157.4h1.3M329.4 157.4h1.3M339.4 157.4h1.3"/>
<path stroke="#f7b6b8" stroke-width="14.48" d="M206.0 44.0h1.3M319.5 44.0h1.3M337.4 44.0h1.3M295.7 58.2h1.3M304.6 58.2h1.3M315.5 58.2h1.3M317.5 58.2h1.3M336.4 58.2h1.3M295.7 72.3h1.3M302.6 72.3h1.3M328.4 72.3h1.3M331.4 72.3h1.3M362.3 72.3h1.3M383.3 72.3h1.3M262.8 86.5h1.3M355.3 86.5h1.3M358.3 86.5h1.3M371.3 86.5h1.3M274.8 100.7h1.3M282.7 100.7h1.3M374.3 100.7h1.3M351.3 114.9h1.3M359.3 129.1h2.3M362.3 129.1h1.3M367.3 129.1h1.3M377.3 129.1h1.3M301.6 143.2h1.3M361.3 143.2h1.3M367.3 143.2h1.3M353.3 157.4h1.3M371.3 157.4h1.3M377.3 157.4h1.3"/>
<path stroke="#f8bfc1" stroke-width="14.48" d="M209.9 44.0h1.3M247.8 44.0h1.3M287.7 44.0h1.3M290.7 44.0h1.3M299.6 44.0h1.3M330.4 44.0h1.3M332.4 44.0h1.3M303.6 58.2h1.3M305.6 58.2h1.3M309.6 58.2h1.3M313.5 58.2h1.3M321.5 58.2h1.3M338.4 58.2h2.3M341.3 58.2h1.3M344.3 58.2h1.3M346.3 58.2h1.3M350.3 58.2h1.3M362.3 58.2h1.3M344.3 72.3h1.3M371.3 72.3h1.3M211.9 86.5h1.3M315.5 86.5h1.3M332.4 86.5h1.3M349.3 86.5h1.3M354.3 86.5h1.3M261.8 100.7h1.3M323.5 100.7h1.3M358.3 100.7h1.3M371.3 100.7h1.3M352.3 129.1h1.3M354.3 129.1h1.3M371.3 129.1h1.3M382.3 129.1h1.3M258.8 143.2h1.3M328.4 143.2h1.3M350.3 143.2h1.3M354.3 143.2h1.3M359.3 143.2h1.3M362.3 143.2h1.3M287.7 157.4h1.3M320.5 157.4h1.3M351.3 157.4h1.3M363.3 157.4h2.3M374.3 157.4h1.3M380.3 157.4h1.3"/>
<path stroke="#f9c8ca" stroke-width="14.48" d="M210.9 44.0h1.3M237.9 44.0h1.3M264.8 44.0h1.3M278.7 44.0h1.3M285.7 44.0h1.3M298.6 44.0h1.3M311.6 44.0h1.3M315.5 44.0h1.3M346.3 44.0h1.3M291.7 58.2h3.3M322.5 58.2h1.3M328.4 58.2h2.3M334.4 58.2h1.3M343.3 58.2h1.3M345.3 58.2h1.3M361.3 58.2h1.3M293.7 72.3h2.3M312.6 72.3h1.3M314.5 72.3h1.3M316.5 72.3h1.3M327.4 72.3h1.3M334.4 72.3h1.3M354.3 72.3h1.3M360.3 72.3h1.3M365.3 72.3h1.3M199.0 86.5h1.3M201.0 86.5h1.3M252.8 86.5h1.3M283.7 86.5h1.3M301.6 86.5h1.3M370.3 86.5h1.3M194.0 100.7h1.3M211.9 100.7h1.3M219.9 100.7h1.3M236.9 100.7h1.3M357.3 100.7h1.3M376.3 114.9h1.3M379.3 114.9h2.3M216.9 143.2h1.3M257.8 143.2h1.3M268.8 143.2h1.3M343.3 143.2h1.3M349.3 143.2h1.3M377.3 143.2h1.3M219.9 157.4h1.3M357.3 157.4h1.3M359.3 157.4h1.3M379.3 157.4h1.3M381.3 157.4h1.3"/>
<path stroke="#bec4e1" stroke-width="14.48" d="M212.9 44.0h1.3M217.9 58.2h1.3M242.8 58.2h1.3M289.7 58.2h1.3M208.9 72.3h1.3M266.8 72.3h1.3M197.0 86.5h1.3M208.9 86.5h1.3M217.9 86.5h1.3M258.8 86.5h1.3M317.5 86.5h1.3M244.8 100.7h1.3M286.7 100.7h1.3M300.6 100.7h1.3M210.9 114.9h1.3M241.8 114.9h1.3M265.8 114.9h1.3M331.4 114.9h1.3M364.3 129.1h1.3M212.9 143.2h1.3M293.7 143.2h1.3M337.4 143.2h1.3M346.3 143.2h1.3M201.0 157.4h1.3M231.9 157.4h1.3M235.9 157.4h1.3M267.8 157.4h1.3M337.4 157.4h1.3"/>
<path stroke="#f6acaf" stroke-width="14.48" d="M218.9 44.0h1.3M274.8 44.0h1.3M301.6 44.0h1.3M345.3 44.0h1.3M351.3 44.0h1.3M378.3 44.0h1.3M340.4 58.2h1.3M370.3 58.2h1.3M305.6 72.3h1.3M311.6 72.3h1.3M267.8 86.5h1.3M299.6 86.5h1.3M313.5 86.5h1.3M325.5 86.5h1.3M351.3 86.5h1.3M365.3 86.5h1.3M374.3 86.5h1.3M277.7 100.7h1.3M356.3 100.7h1.3M359.3 100.7h1.3M359.3 114.9h1.3M372.3 114.9h1.3M360.3 143.2h1.3M364.3 143.2h1.3M376.3 143.2h1.3M378.3 143.2h1.3M356.3 157.4h1.3M358.3 157.4h1.3M382.3 157.4h1.3"/>
<path stroke="#f5a3a6" stroke-width="14.48" d="M219.9 44.0h1.3M279.7 44.0h1.3M331.4 44.0h1.3M302.6 58.2h1.3M308.6 58.2h1.3M312.6 58.2h1.3M331.4 58.2h1.3M240.9 86.5h1.3M333.4 86.5h1.3M242.8 100.7h2.3M348.3 100.7h1.3M360.3 100.7h1.3M367.3 100.7h1.3M370.3 100.7h1.3M363.3 114.9h1.3M365.3 129.1h1.3M376.3 129.1h1.3M351.3 143.2h1.3M356.3 143.2h1.3M368.3 143.2h1.3M372.3 143.2h2.3M354.3 157.4h1.3"/>
<path stroke="#ef767a" stroke-width="14.48" d="M221.9 44.0h1.3M350.3 114.9h1.3M362.3 114.9h1.3M365.3 114.9h1.3M197.0 129.1h1.3M350.3 129.1h1.3M358.3 129.1h1.3M361.3 129.1h1.3M369.3 129.1h1.3M381.3 129.1h1.3M229.9 157.4h1.3M254.8 157.4h1.3"/>
<path stroke="#f07f83" stroke-width="14.48" d="M230.9 44.0h1.3M326.4 86.5h1.3M350.3 100.7h1.3M352.3 100.7h1.3M354.3 100.7h1.3M362.3 100.7h1.3M347.3 129.1h1.3M366.3 129.1h1.3M383.3 129.1h1.3M349.3 157.4h1.3M365.3 157.4h1.3M376.3 157.4h1.3"/>
<path stroke="#f49a9d" stroke-width="14.48" d="M231.9 44.0h1.3M307.6 44.0h1.3M297.7 58.2h2.3M306.6 58.2h1.3M310.6 58.2h1.3M319.5 58.2h2.3M332.4 58.2h2.3M357.3 58.2h1.3M382.3 58.2h1.3M253.8 72.3h1.3M292.7 86.5h2.3M298.6 86.5h1.3M359.3 86.5h1.3M372.3 86.5h1.3M379.3 86.5h1.3M204.0 100.7h1.3M291.7 100.7h1.3M369.3 100.7h1.3M380.3 100.7h1.3M369.3 114.9h1.3M373.3 114.9h1.3M383.3 114.9h1.3M259.8 129.1h1.3M356.3 129.1h1.3M232.9 143.2h1.3M297.7 143.2h1.3M375.3 143.2h1.3M367.3 157.4h1.3M373.3 157.4h1.3"/>
<path stroke="#eff0f8" stroke-width="14.48" d="M252.8 44.0h1.3M256.8 44.0h1.3M263.8 44.0h1.3M267.8 44.0h1.3M293.7 44.0h2.3M312.6 44.0h1.3M314.5 44.0h1.3M321.5 44.0h1.3M327.4 44.0h1.3M329.4 44.0h1.3M342.3 44.0h1.3M352.3 44.0h1.3M362.3 44.0h1.3M202.0 58.2h2.3M219.9 58.2h2.3M222.9 58.2h2.3M227.9 58.2h1.3M230.9 58.2h1.3M247.8 58.2h1.3M250.8 58.2h1.3M252.8 58.2h1.3M257.8 58.2h1.3M260.8 58.2h1.3M267.8 58.2h2.3M275.7 58.2h1.3M278.7 58.2h2.3M281.7 58.2h1.3M283.7 58.2h1.3M290.7 58.2h1.3M347.3 58.2h1.3M195.0 72.3h1.3M201.0 72.3h1.3M216.9 72.3h2.3M219.9 72.3h1.3M231.9 72.3h1.3M240.9 72.3h1.3M249.8 72.3h1.3M264.8 72.3h2.3M267.8 72.3h1.3M279.7 72.3h1.3M284.7 72.3h1.3M290.7 72.3h1.3M329.4 72.3h1.3M340.4 72.3h1.3M346.3 72.3h1.3M348.3 72.3h1.3M350.3 72.3h1.3M355.3 72.3h3.3M214.9 86.5h1.3M226.9 86.5h1.3M239.9 86.5h1.3M247.8 86.5h2.3M250.8 86.5h1.3M256.8 86.5h1.3M259.8 86.5h1.3M281.7 86.5h1.3M290.7 86.5h1.3M295.7 86.5h2.3M322.5 86.5h1.3M337.4 86.5h1.3M192.0 100.7h1.3M195.0 100.7h1.3M201.0 100.7h1.3M237.9 100.7h1.3M249.8 100.7h1.3M310.6 100.7h1.3M315.5 100.7h1.3M320.5 100.7h1.3M326.4 100.7h1.3M329.4 100.7h1.3M345.3 100.7h2.3M193.0 114.9h1.3M200.0 114.9h1.3M215.9 114.9h1.3M217.9 114.9h1.3M227.9 114.9h1.3M248.8 114.9h1.3M252.8 114.9h2.3M257.8 114.9h2.3M263.8 114.9h2.3M270.8 114.9h1.3M275.7 114.9h1.3M277.7 114.9h1.3M305.6 114.9h1.3M317.5 114.9h1.3M319.5 114.9h1.3M329.4 114.9h1.3M377.3 114.9h1.3M192.0 129.1h2.3M198.0 129.1h1.3M201.0 129.1h3.3M205.0 129.1h1.3M209.9 129.1h1.3M211.9 129.1h2.3M217.9 129.1h1.3M221.9 129.1h1.3M224.9 129.1h2.3M229.9 129.1h2.3M237.9 129.1h1.3M245.8 129.1h1.3M250.8 129.1h2.3M253.8 129.1h1.3M256.8 129.1h1.3M258.8 129.1h1.3M260.8 129.1h1.3M263.8 129.1h1.3M265.8 129.1h1.3M268.8 129.1h2.3M271.8 129.1h1.3M280.7 129.1h1.3M287.7 129.1h1.3M290.7 129.1h1.3M296.7 129.1h2.3M302.6 129.1h1.3M304.6 129.1h1.3M307.6 129.1h1.3M309.6 129.1h1.3M312.6 129.1h2.3M317.5 129.1h2.3M331.4 129.1h1.3M333.4 129.1h2.3M337.4 129.1h1.3M341.3 129.1h1.3M193.0 143.2h1.3M201.0 143.2h1.3M223.9 143.2h1.3M228.9 143.2h2.3M241.8 143.2h1.3M263.8 143.2h1.3M269.8 143.2h1.3M280.7 143.2h1.3M286.7 143.2h1.3M288.7 143.2h1.3M334.4 143.2h1.3M380.3 143.2h1.3M218.9 157.4h1.3M240.9 157.4h1.3M243.8 157.4h1.3M245.8 157.4h1.3M255.8 157.4h2.3M258.8 157.4h1.3M275.7 157.4h1.3M283.7 157.4h2.3M290.7 157.4h1.3M291.7 157.4h1.3M302.6 157.4h1.3M319.5 157.4h1.3M342.3 157.4h1.3M347.3 157.4h1.3M375.3 157.4h1.3"/>
<path stroke="#ced3e8" stroke-width="14.48" d="M266.8 44.0h1.3M354.3 44.0h1.3M209.9 58.2h1.3M218.9 58.2h1.3M246.8 58.2h1.3M256.8 58.2h1.3M266.8 58.2h1.3M277.7 58.2h1.3M285.7 58.2h1.3M368.3 58.2h1.3M221.9 72.3h1.3M233.9 72.3h1.3M238.9 72.3h1.3M241.8 72.3h1.3M203.0 86.5h1.3M206.0 86.5h1.3M257.8 86.5h1.3M271.8 86.5h1.3M279.7 86.5h1.3M282.7 86.5h1.3M306.6 86.5h1.3M348.3 86.5h1.3M357.3 86.5h1.3M225.9 100.7h1.3M240.9 100.7h1.3M247.8 100.7h1.3M268.8 100.7h1.3M294.7 100.7h1.3M309.6 100.7h1.3M216.9 114.9h1.3M247.8 114.9h1.3M256.8 114.9h1.3M259.8 114.9h1.3M284.7 114.9h1.3M298.6 114.9h1.3M344.3 129.1h1.3M205.0 143.2h1.3M214.9 143.2h1.3M237.9 143.2h1.3M245.8 143.2h1.3M303.6 143.2h1.3M327.4 143.2h1.3M341.3 143.2h1.3M282.7 157.4h1.3M298.6 157.4h1.3M327.4 157.4h1.3M372.3 157.4h1.3"/>
<path stroke="#a6aed6" stroke-width="14.48" d="M347.3 44.0h1.3M358.3 44.0h1.3M368.3 44.0h1.3M382.3 44.0h1.3M276.7 86.5h1.3M287.7 86.5h1.3M297.7 100.7h1.3M301.6 100.7h1.3M207.0 114.9h1.3M234.9 143.2h1.3M273.8 143.2h1.3M333.4 143.2h1.3M208.0 157.4h1.3M213.9 157.4h1.3"/>
<path stroke="#b6bddd" stroke-width="14.48" d="M349.3 44.0h1.3M371.3 44.0h1.3M373.3 44.0h1.3M383.3 44.0h1.3M258.8 58.2h1.3M207.0 72.3h1.3M214.9 72.3h1.3M375.3 72.3h1.3M209.9 86.5h1.3M235.9 86.5h1.3M356.3 86.5h1.3M377.3 86.5h1.3M255.8 100.7h1.3M299.6 100.7h1.3M223.9 114.9h1.3M283.7 114.9h1.3M199.0 143.2h1.3M259.8 143.2h1.3M284.7 143.2h1.3M204.0 157.4h1.3M232.9 157.4h1.3"/>
<path stroke="#c6cbe5" stroke-width="14.48" d="M350.3 44.0h1.3M370.3 44.0h1.3M377.3 44.0h1.3M379.3 44.0h1.3M192.0 58.2h1.3M254.8 58.2h1.3M271.8 58.2h1.3M210.9 72.3h1.3M212.9 72.3h1.3M272.8 72.3h2.3M287.7 72.3h1.3M289.7 72.3h1.3M367.3 72.3h1.3M195.0 86.5h1.3M212.9 86.5h1.3M222.9 86.5h1.3M264.8 86.5h1.3M278.7 86.5h1.3M324.5 86.5h1.3M350.3 86.5h1.3M363.3 86.5h1.3M200.0 100.7h1.3M224.9 100.7h1.3M308.6 100.7h1.3M342.3 100.7h1.3M211.9 114.9h1.3M221.9 114.9h1.3M266.8 114.9h1.3M224.9 143.2h1.3M250.8 143.2h1.3M262.8 143.2h1.3M300.6 143.2h1.3M316.5 143.2h1.3M329.4 143.2h1.3M339.4 143.2h1.3M224.9 157.4h1.3M250.8 157.4h1.3M259.8 157.4h1.3M273.8 157.4h1.3M307.6 157.4h1.3"/>
<path stroke="#8d98ca" stroke-width="14.48" d="M360.3 44.0h1.3M215.9 86.5h1.3"/>
<path stroke="#ed6368" stroke-width="14.48" d="M363.3 44.0h1.3M345.3 72.3h1.3M228.9 86.5h1.3M353.3 100.7h1.3M372.3 100.7h1.3M372.3 129.1h2.3M348.3 143.2h1.3"/>
<path stroke="#5464b0" stroke-width="14.48" d="M365.3 44.0h1.3M375.3 44.0h1.3"/>
<path stroke="#4c5dac" stroke-width="14.48" d="M366.3 44.0h1.3"/>
<path stroke="#3c4ea5" stroke-width="14.48" d="M367.3 44.0h1.3M376.3 44.0h1.3"/>
<path stroke="#7d89c3" stroke-width="14.48" d="M369.3 44.0h1.3M374.3 44.0h1.3M251.8 58.2h1.3M235.9 100.7h1.3"/>
<path stroke="#aeb5da" stroke-width="14.48" d="M372.3 44.0h1.3M274.8 72.3h1.3M288.7 72.3h1.3M380.3 72.3h1.3M224.9 86.5h1.3M260.8 86.5h1.3M257.8 100.7h1.3M284.7 100.7h1.3M340.4 100.7h1.3M293.7 114.9h1.3M207.0 143.2h1.3M287.7 143.2h1.3M215.9 157.4h1.3M326.4 157.4h1.3"/>
<path stroke="#dee2f0" stroke-width="14.48" d="M194.0 58.2h1.3M196.0 58.2h1.3M198.0 58.2h2.3M204.0 58.2h2.3M207.0 58.2h1.3M212.9 58.2h1.3M224.9 58.2h1.3M226.9 58.2h1.3M231.9 58.2h1.3M233.9 58.2h1.3M235.9 58.2h3.3M248.8 58.2h2.3M253.8 58.2h1.3M255.8 58.2h1.3M261.8 58.2h1.3M273.8 58.2h2.3M288.7 58.2h1.3M352.3 58.2h1.3M371.3 58.2h1.3M196.0 72.3h1.3M199.0 72.3h1.3M202.0 72.3h1.3M209.9 72.3h1.3M218.9 72.3h1.3M223.9 72.3h1.3M235.9 72.3h3.3M245.8 72.3h2.3M258.8 72.3h1.3M260.8 72.3h1.3M269.8 72.3h1.3M278.7 72.3h1.3M283.7 72.3h1.3M286.7 72.3h1.3M304.6 72.3h1.3M202.0 86.5h1.3M210.9 86.5h1.3M227.9 86.5h1.3M253.8 86.5h2.3M305.6 86.5h1.3M323.5 86.5h1.3M364.3 86.5h1.3M376.3 86.5h1.3M202.0 100.7h1.3M227.9 100.7h1.3M233.9 100.7h1.3M239.9 100.7h1.3M250.8 100.7h1.3M260.8 100.7h1.3M271.8 100.7h1.3M375.3 100.7h1.3M208.0 114.9h1.3M213.9 114.9h1.3M229.9 114.9h1.3M235.9 114.9h1.3M242.8 114.9h1.3M278.7 114.9h1.3M281.7 114.9h1.3M292.7 114.9h1.3M304.6 114.9h1.3M313.5 114.9h1.3M326.4 114.9h1.3M333.4 114.9h1.3M196.0 129.1h1.3M204.0 129.1h1.3M206.0 129.1h1.3M240.9 129.1h2.3M243.8 129.1h1.3M246.8 129.1h1.3M255.8 129.1h1.3M270.8 129.1h1.3M273.8 129.1h1.3M276.7 129.1h1.3M282.7 129.1h1.3M294.7 129.1h2.3M305.6 129.1h1.3M357.3 129.1h1.3M196.0 143.2h1.3M211.9 143.2h1.3M215.9 143.2h1.3M218.9 143.2h1.3M222.9 143.2h1.3M227.9 143.2h1.3M249.8 143.2h1.3M253.8 143.2h1.3M282.7 143.2h1.3M307.6 143.2h1.3M309.6 143.2h1.3M336.4 143.2h1.3M200.0 157.4h1.3M236.9 157.4h1.3M247.8 157.4h1.3M251.8 157.4h1.3M253.8 157.4h1.3M261.8 157.4h1.3M266.8 157.4h1.3M278.7 157.4h2.3M281.7 157.4h1.3M289.7 157.4h1.3M308.6 157.4h1.3M331.4 157.4h1.3M352.3 157.4h1.3M361.3 157.4h1.3"/>
<path stroke="#e72c33" stroke-width="14.48" d="M301.6 58.2h1.3"/>
<path stroke="#959fce" stroke-width="14.48" d="M230.9 72.3h1.3M241.8 86.5h1.3M304.6 143.2h1.3M344.3 143.2h1.3M205.0 157.4h1.3"/>
<path stroke="#6d7abc" stroke-width="14.48" d="M242.8 72.3h1.3"/>
<path stroke="#8590c7" stroke-width="14.48" d="M255.8 72.3h1.3M277.7 129.1h1.3"/>
<path stroke="#ee6c71" stroke-width="14.48" d="M261.8 72.3h1.3M383.3 100.7h1.3M382.3 114.9h1.3M379.3 143.2h1.3"/>
<path stroke="#9ea6d2" stroke-width="14.48" d="M232.9 86.5h1.3M246.8 100.7h1.3M272.8 114.9h1.3M305.6 143.2h1.3"/>
<path stroke="#f1888c" stroke-width="14.48" d="M373.3 86.5h1.3M280.7 100.7h1.3M347.3 100.7h1.3M382.3 100.7h1.3M347.3 114.9h1.3M366.3 114.9h1.3M368.3 114.9h1.3M371.3 114.9h1.3M381.3 114.9h1.3M353.3 129.1h1.3M363.3 129.1h1.3M375.3 129.1h1.3M353.3 143.2h1.3M357.3 143.2h1.3M370.3 143.2h1.3M355.3 157.4h1.3"/>
<path stroke="#7582bf" stroke-width="14.48" d="M209.9 100.7h1.3M246.8 157.4h1.3"/>
<path stroke="#eb5156" stroke-width="14.48" d="M349.3 100.7h1.3M370.3 129.1h1.3M302.6 143.2h1.3M370.3 157.4h1.3"/>
<path stroke="#e6232a" stroke-width="14.48" d="M366.3 100.7h1.3M373.3 100.7h1.3M376.3 100.7h1.3M379.3 100.7h1.3"/>
<path stroke="#ea484e" stroke-width="14.48" d="M199.0 129.1h1.3M349.3 129.1h1.3"/>
<path stroke="#ec5a5f" stroke-width="14.48" d="M348.3 129.1h1.3M380.3 129.1h1.3M369.3 157.4h1.3"/>
<path stroke="#5c6cb4" stroke-width="14.48" d="M212.9 157.4h1.3M362.3 157.4h1.3"/>
</g>
<rect x="192.00" y="25.40" width="99.70" height="11.50" fill="#4b86b4" />
<rect x="291.70" y="25.40" width="55.60" height="11.50" fill="#93c4d4" />
<rect x="347.30" y="25.40" width="37.00" height="11.50" fill="#d2e6f0" />
<text x="245.90" y="22.60" font-size="10.4" text-anchor="middle" fill="#111" font-family='"Liberation Sans", sans-serif' textLength="36.6" lengthAdjust="spacingAndGlyphs">EPI low</text>
<text x="318.30" y="22.60" font-size="10.4" text-anchor="middle" fill="#111" font-family='"Liberation Sans", sans-serif' textLength="46.6" lengthAdjust="spacingAndGlyphs">EPI high2</text>
<text x="369.00" y="22.60" font-size="10.4" text-anchor="middle" fill="#111" font-family='"Liberation Sans", sans-serif' textLength="44.8" lengthAdjust="spacingAndGlyphs">EPI high1</text>
<text transform="translate(386.00,48.76) scale(0.94,1)" font-size="7.7" fill="#222" font-family='"Liberation Sans", sans-serif'>SOX2</text>
<text transform="translate(386.00,61.44) scale(0.94,1)" font-size="7.7" fill="#222" font-family='"Liberation Sans", sans-serif'>CDH1</text>
<text transform="translate(386.00,75.62) scale(0.94,1)" font-size="7.7" fill="#222" font-family='"Liberation Sans", sans-serif'>OCLN</text>
<text transform="translate(386.00,89.79) scale(0.94,1)" font-size="7.7" fill="#222" font-family='"Liberation Sans", sans-serif'>EPCAM</text>
<text transform="translate(386.00,103.97) scale(0.94,1)" font-size="7.7" fill="#222" font-family='"Liberation Sans", sans-serif'>GRHL1</text>
<text transform="translate(386.00,118.15) scale(0.94,1)" font-size="7.7" fill="#222" font-family='"Liberation Sans", sans-serif'>KLF5</text>
<text transform="translate(386.00,132.33) scale(0.94,1)" font-size="7.7" fill="#222" font-family='"Liberation Sans", sans-serif'>TP63</text>
<text transform="translate(386.00,146.51) scale(0.94,1)" font-size="7.7" fill="#222" font-family='"Liberation Sans", sans-serif'>CRB3</text>
<text transform="translate(386.00,160.68) scale(0.94,1)" font-size="7.7" fill="#222" font-family='"Liberation Sans", sans-serif'>DSP</text>
<defs><linearGradient id="ck30" x1="0" y1="0" x2="0" y2="1"><stop offset="0" stop-color="#e8262c"/><stop offset="0.5" stop-color="#ffffff"/><stop offset="1" stop-color="#3c4ea5"/></linearGradient></defs>
<rect x="414.20" y="30.20" width="5.70" height="72.60" fill="url(#ck30)" />
<text x="422.50" y="37.10" font-size="7.2" text-anchor="start" font-weight="normal" fill="#222" font-family='"Liberation Sans", sans-serif' >4</text>
<text x="422.50" y="53.90" font-size="7.2" text-anchor="start" font-weight="normal" fill="#222" font-family='"Liberation Sans", sans-serif' >2</text>
<text x="422.50" y="71.00" font-size="7.2" text-anchor="start" font-weight="normal" fill="#222" font-family='"Liberation Sans", sans-serif' >0</text>
<text x="420.80" y="85.00" font-size="7.2" text-anchor="start" font-weight="normal" fill="#222" font-family='"Liberation Sans", sans-serif' >−2</text>
<text x="420.80" y="99.30" font-size="7.2" text-anchor="start" font-weight="normal" fill="#222" font-family='"Liberation Sans", sans-serif' >−4</text>
<path d="M192.00,58.17H172.70V72.34H192.00M192.00,114.88H179.60V129.06H192.00M192.00,100.70H176.80V121.97H179.60M192.00,143.23H175.40V157.41H192.00M176.80,111.33H172.70V150.32H175.40M192.00,86.52H171.10V130.83H172.70M172.70,65.26H170.40V108.67H171.10M192.00,43.99H167.00V86.97H170.40" stroke="#6e6e6e" fill="none" stroke-width="0.8" fill="none"/>
<g filter="url(#hblur)">
<path stroke="#f9c8ca" stroke-width="11.03" d="M192.9 225.0h1.3M211.8 225.0h1.3M232.7 225.0h1.3M245.7 225.0h1.3M254.6 225.0h1.3M192.9 235.7h1.3M213.8 235.7h1.3M228.7 235.7h1.3M238.7 235.7h1.3M192.9 246.4h1.3M207.8 246.4h1.3M238.7 246.4h2.3M247.7 246.4h1.3M252.6 246.4h2.3M328.8 246.4h1.3M375.0 246.4h1.3M194.9 257.2h1.3M196.9 257.2h2.3M247.7 257.2h1.3M206.8 267.9h2.3M212.8 267.9h1.3M222.8 267.9h1.3M240.7 267.9h1.3M248.7 267.9h1.3M197.9 278.6h1.3M211.8 278.6h1.3M251.6 278.6h1.3M260.6 278.6h1.3M217.8 289.4h1.3M238.7 289.4h1.3M240.7 289.4h1.3M255.6 289.4h2.3M219.8 300.1h1.3M229.7 300.1h1.3M240.7 300.1h1.3M243.7 300.1h1.3M248.7 300.1h1.3M194.9 310.8h1.3M205.8 310.8h2.3M213.8 310.8h1.3M224.8 310.8h1.3M228.7 310.8h1.3M233.7 310.8h2.3M255.6 310.8h1.3M258.6 310.8h1.3M210.8 321.6h1.3M223.8 321.6h1.3M252.6 321.6h1.3M257.6 321.6h1.3M259.6 321.6h1.3M278.7 321.6h1.3M296.7 321.6h1.3M300.7 321.6h1.3M349.9 321.6h1.3M360.9 321.6h1.3M372.0 321.6h1.3M194.9 332.3h1.3M225.8 332.3h1.3M287.7 332.3h1.3M325.8 332.3h1.3M218.8 343.0h1.3M245.7 343.0h1.3M259.6 343.0h1.3M270.6 343.0h1.3M327.8 343.0h1.3M331.8 343.0h1.3M343.9 343.0h1.3M376.0 343.0h1.3"/>
<path stroke="#eff0f8" stroke-width="11.03" d="M193.9 225.0h1.3M265.6 225.0h1.3M268.6 225.0h1.3M270.6 225.0h1.3M275.6 225.0h1.3M286.7 225.0h1.3M288.7 225.0h1.3M296.7 225.0h1.3M311.8 225.0h1.3M316.8 225.0h1.3M329.8 225.0h1.3M352.9 225.0h1.3M371.0 225.0h4.3M207.8 235.7h1.3M219.8 235.7h1.3M245.7 235.7h1.3M258.6 235.7h1.3M267.6 235.7h1.3M275.6 235.7h1.3M288.7 235.7h1.3M296.7 235.7h1.3M310.8 235.7h1.3M315.8 235.7h1.3M318.8 235.7h1.3M325.8 235.7h1.3M333.8 235.7h1.3M335.8 235.7h1.3M350.9 235.7h1.3M352.9 235.7h1.3M355.9 235.7h2.3M373.0 235.7h1.3M208.8 246.4h1.3M245.7 246.4h1.3M262.6 246.4h1.3M268.6 246.4h2.3M299.7 246.4h2.3M305.7 246.4h1.3M307.8 246.4h1.3M317.8 246.4h1.3M323.8 246.4h1.3M325.8 246.4h1.3M329.8 246.4h1.3M333.8 246.4h1.3M346.9 246.4h1.3M350.9 246.4h2.3M355.9 246.4h1.3M359.9 246.4h1.3M373.0 246.4h1.3M377.0 246.4h1.3M209.8 257.2h2.3M221.8 257.2h1.3M223.8 257.2h1.3M240.7 257.2h1.3M266.6 257.2h2.3M270.6 257.2h1.3M272.6 257.2h2.3M275.6 257.2h1.3M278.7 257.2h3.3M283.7 257.2h1.3M285.7 257.2h1.3M292.7 257.2h1.3M297.7 257.2h1.3M300.7 257.2h2.3M304.7 257.2h1.3M306.7 257.2h3.3M312.8 257.2h1.3M320.8 257.2h1.3M322.8 257.2h2.3M329.8 257.2h1.3M331.8 257.2h1.3M334.8 257.2h2.3M340.9 257.2h5.3M348.9 257.2h1.3M372.0 257.2h2.3M376.0 257.2h1.3M200.9 267.9h1.3M211.8 267.9h1.3M238.7 267.9h1.3M267.6 267.9h1.3M274.6 267.9h2.3M282.7 267.9h1.3M289.7 267.9h1.3M297.7 267.9h2.3M301.7 267.9h1.3M307.8 267.9h1.3M318.8 267.9h1.3M323.8 267.9h1.3M326.8 267.9h1.3M332.8 267.9h1.3M336.9 267.9h1.3M340.9 267.9h1.3M351.9 267.9h2.3M354.9 267.9h2.3M357.9 267.9h1.3M374.0 267.9h1.3M235.7 278.6h1.3M262.6 278.6h1.3M264.6 278.6h1.3M267.6 278.6h1.3M279.7 278.6h1.3M284.7 278.6h1.3M290.7 278.6h1.3M306.7 278.6h1.3M310.8 278.6h1.3M325.8 278.6h1.3M328.8 278.6h2.3M331.8 278.6h3.3M336.9 278.6h1.3M344.9 278.6h1.3M346.9 278.6h1.3M352.9 278.6h1.3M373.0 278.6h1.3M377.0 278.6h1.3M219.8 289.4h1.3M227.8 289.4h1.3M245.7 289.4h1.3M262.6 289.4h1.3M272.6 289.4h1.3M279.7 289.4h2.3M282.7 289.4h1.3M293.7 289.4h3.3M297.7 289.4h1.3M303.7 289.4h2.3M306.7 289.4h1.3M311.8 289.4h2.3M321.8 289.4h1.3M325.8 289.4h1.3M327.8 289.4h1.3M334.8 289.4h1.3M337.9 289.4h1.3M341.9 289.4h1.3M344.9 289.4h1.3M350.9 289.4h1.3M358.9 289.4h1.3M363.9 289.4h1.3M367.0 289.4h2.3M374.0 289.4h1.3M208.8 300.1h1.3M216.8 300.1h1.3M252.6 300.1h1.3M254.6 300.1h1.3M265.6 300.1h1.3M278.7 300.1h1.3M284.7 300.1h3.3M288.7 300.1h2.3M293.7 300.1h2.3M300.7 300.1h3.3M310.8 300.1h1.3M315.8 300.1h1.3M317.8 300.1h1.3M324.8 300.1h1.3M328.8 300.1h2.3M331.8 300.1h1.3M337.9 300.1h1.3M340.9 300.1h1.3M343.9 300.1h4.3M351.9 300.1h2.3M359.9 300.1h1.3M361.9 300.1h1.3M363.9 300.1h2.3M368.0 300.1h1.3M218.8 310.8h1.3M239.7 310.8h1.3M265.6 310.8h1.3M269.6 310.8h1.3M281.7 310.8h1.3M283.7 310.8h1.3M288.7 310.8h1.3M293.7 310.8h2.3M302.7 310.8h1.3M308.8 310.8h1.3M311.8 310.8h1.3M317.8 310.8h1.3M320.8 310.8h1.3M329.8 310.8h1.3M337.9 310.8h1.3M341.9 310.8h1.3M379.0 310.8h1.3M200.9 321.6h1.3M202.9 321.6h2.3M221.8 321.6h1.3M248.7 321.6h1.3M265.6 321.6h1.3M271.6 321.6h1.3M273.6 321.6h1.3M302.7 321.6h1.3M306.7 321.6h1.3M318.8 321.6h1.3M325.8 321.6h1.3M338.9 321.6h1.3M340.9 321.6h1.3M354.9 321.6h2.3M358.9 321.6h1.3M367.0 321.6h1.3M197.9 332.3h1.3M205.8 332.3h1.3M228.7 332.3h1.3M242.7 332.3h2.3M251.6 332.3h1.3M273.6 332.3h3.3M280.7 332.3h1.3M301.7 332.3h1.3M333.8 332.3h1.3M335.8 332.3h1.3M347.9 332.3h1.3M359.9 332.3h1.3M362.9 332.3h1.3M368.0 332.3h1.3M374.0 332.3h1.3M376.0 332.3h2.3M215.8 343.0h1.3M225.8 343.0h1.3M242.7 343.0h2.3M249.7 343.0h1.3M260.6 343.0h1.3M265.6 343.0h1.3M278.7 343.0h1.3M284.7 343.0h1.3M308.8 343.0h1.3M315.8 343.0h1.3M321.8 343.0h1.3M338.9 343.0h1.3M363.9 343.0h1.3M373.0 343.0h1.3"/>
<path stroke="#f8bfc1" stroke-width="11.03" d="M194.9 225.0h2.3M213.8 225.0h1.3M251.6 225.0h1.3M257.6 225.0h1.3M197.9 235.7h1.3M204.8 235.7h1.3M225.8 235.7h1.3M251.6 235.7h1.3M367.0 235.7h1.3M197.9 246.4h1.3M221.8 246.4h2.3M230.7 246.4h1.3M232.7 246.4h1.3M246.7 246.4h1.3M249.7 246.4h1.3M251.6 246.4h1.3M256.6 246.4h1.3M260.6 246.4h1.3M296.7 246.4h1.3M208.8 257.2h1.3M239.7 257.2h1.3M259.6 257.2h1.3M328.8 257.2h1.3M213.8 267.9h1.3M217.8 267.9h1.3M219.8 267.9h1.3M242.7 267.9h2.3M251.6 267.9h1.3M259.6 267.9h1.3M266.6 267.9h1.3M192.9 278.6h1.3M217.8 278.6h1.3M224.8 278.6h1.3M229.7 278.6h1.3M240.7 278.6h1.3M245.7 278.6h1.3M259.6 278.6h1.3M198.9 289.4h1.3M213.8 289.4h1.3M241.7 289.4h1.3M207.8 300.1h1.3M234.7 300.1h1.3M257.6 300.1h1.3M260.6 300.1h1.3M208.8 310.8h1.3M221.8 310.8h1.3M232.7 310.8h1.3M245.7 310.8h1.3M217.8 321.6h1.3M225.8 321.6h1.3M228.7 321.6h1.3M238.7 321.6h1.3M247.7 321.6h1.3M250.7 321.6h1.3M261.6 321.6h1.3M307.8 321.6h1.3M311.8 321.6h1.3M207.8 332.3h1.3M210.8 343.0h1.3M226.8 343.0h1.3M231.7 343.0h1.3M241.7 343.0h1.3M332.8 343.0h1.3M357.9 343.0h1.3"/>
<path stroke="#fbdadc" stroke-width="11.03" d="M196.9 225.0h3.3M201.9 225.0h1.3M215.8 225.0h1.3M228.7 225.0h1.3M234.7 225.0h1.3M247.7 225.0h1.3M368.0 225.0h1.3M195.9 235.7h2.3M217.8 235.7h2.3M233.7 235.7h2.3M244.7 235.7h1.3M249.7 235.7h2.3M259.6 235.7h1.3M263.6 235.7h1.3M341.9 235.7h1.3M193.9 246.4h1.3M195.9 246.4h1.3M204.8 246.4h1.3M220.8 246.4h1.3M254.6 246.4h2.3M258.6 246.4h1.3M207.8 257.2h1.3M220.8 257.2h1.3M241.7 257.2h1.3M246.7 257.2h1.3M252.6 257.2h1.3M194.9 267.9h2.3M197.9 267.9h2.3M214.8 267.9h1.3M233.7 267.9h1.3M235.7 267.9h1.3M239.7 267.9h1.3M245.7 267.9h1.3M253.6 267.9h1.3M255.6 267.9h1.3M271.6 267.9h1.3M290.7 267.9h1.3M305.7 267.9h1.3M195.9 278.6h2.3M205.8 278.6h1.3M215.8 278.6h1.3M220.8 278.6h1.3M222.8 278.6h2.3M238.7 278.6h1.3M292.7 278.6h1.3M194.9 289.4h1.3M202.9 289.4h1.3M204.8 289.4h1.3M212.8 289.4h1.3M214.8 289.4h1.3M228.7 289.4h2.3M248.7 289.4h1.3M192.9 300.1h1.3M196.9 300.1h1.3M232.7 300.1h1.3M238.7 300.1h1.3M241.7 300.1h1.3M244.7 300.1h1.3M255.6 300.1h1.3M259.6 300.1h1.3M332.8 300.1h1.3M192.9 310.8h1.3M195.9 310.8h1.3M212.8 310.8h1.3M217.8 310.8h1.3M225.8 310.8h1.3M235.7 310.8h1.3M251.6 310.8h1.3M254.6 310.8h1.3M354.9 310.8h1.3M197.9 321.6h1.3M205.8 321.6h1.3M224.8 321.6h1.3M227.8 321.6h1.3M237.7 321.6h1.3M262.6 321.6h1.3M276.6 321.6h1.3M335.8 321.6h2.3M362.9 321.6h1.3M380.0 321.6h1.3M216.8 332.3h1.3M235.7 332.3h1.3M238.7 332.3h1.3M244.7 332.3h1.3M248.7 332.3h1.3M253.6 332.3h1.3M278.7 332.3h1.3M283.7 332.3h1.3M298.7 332.3h1.3M302.7 332.3h1.3M307.8 332.3h1.3M329.8 332.3h1.3M331.8 332.3h1.3M214.8 343.0h1.3M254.6 343.0h1.3M257.6 343.0h1.3M269.6 343.0h1.3M281.7 343.0h1.3M286.7 343.0h1.3M294.7 343.0h1.3M299.7 343.0h1.3M310.8 343.0h1.3M319.8 343.0h1.3M323.8 343.0h1.3"/>
<path stroke="#fce4e4" stroke-width="11.03" d="M199.9 225.0h1.3M218.8 225.0h1.3M222.8 225.0h1.3M225.8 225.0h1.3M229.7 225.0h1.3M248.7 225.0h1.3M260.6 225.0h2.3M278.7 225.0h1.3M194.9 235.7h1.3M198.9 235.7h1.3M202.9 235.7h1.3M211.8 235.7h2.3M227.8 235.7h1.3M229.7 235.7h2.3M241.7 235.7h1.3M248.7 235.7h1.3M317.8 235.7h1.3M319.8 235.7h1.3M337.9 235.7h2.3M206.8 246.4h1.3M213.8 246.4h2.3M225.8 246.4h1.3M231.7 246.4h1.3M233.7 246.4h2.3M248.7 246.4h1.3M265.6 246.4h1.3M361.9 246.4h1.3M380.0 246.4h1.3M195.9 257.2h1.3M201.9 257.2h1.3M229.7 257.2h1.3M231.7 257.2h1.3M236.7 257.2h1.3M256.6 257.2h1.3M261.6 257.2h1.3M192.9 267.9h1.3M199.9 267.9h1.3M203.9 267.9h1.3M218.8 267.9h1.3M224.8 267.9h1.3M236.7 267.9h1.3M250.7 267.9h1.3M260.6 267.9h1.3M333.8 267.9h1.3M194.9 278.6h1.3M201.9 278.6h1.3M206.8 278.6h1.3M232.7 278.6h1.3M234.7 278.6h1.3M248.7 278.6h1.3M250.7 278.6h1.3M254.6 278.6h1.3M348.9 278.6h1.3M375.0 278.6h1.3M193.9 289.4h1.3M200.9 289.4h1.3M203.9 289.4h1.3M205.8 289.4h2.3M208.8 289.4h1.3M222.8 289.4h1.3M195.9 300.1h1.3M201.9 300.1h1.3M225.8 300.1h1.3M258.6 300.1h1.3M198.9 310.8h1.3M203.9 310.8h1.3M210.8 310.8h2.3M216.8 310.8h1.3M229.7 310.8h3.3M238.7 310.8h1.3M243.7 310.8h1.3M246.7 310.8h1.3M252.6 310.8h1.3M261.6 310.8h1.3M299.7 310.8h1.3M342.9 310.8h1.3M344.9 310.8h1.3M367.0 310.8h1.3M206.8 321.6h1.3M233.7 321.6h1.3M236.7 321.6h1.3M241.7 321.6h1.3M246.7 321.6h1.3M268.6 321.6h1.3M282.7 321.6h1.3M290.7 321.6h1.3M293.7 321.6h2.3M326.8 321.6h1.3M328.8 321.6h1.3M348.9 321.6h1.3M234.7 332.3h1.3M267.6 332.3h1.3M290.7 332.3h1.3M292.7 332.3h2.3M303.7 332.3h1.3M306.7 332.3h1.3M339.9 332.3h1.3M346.9 332.3h1.3M373.0 332.3h1.3M195.9 343.0h1.3M202.9 343.0h1.3M205.8 343.0h1.3M235.7 343.0h1.3M244.7 343.0h1.3M252.6 343.0h1.3M256.6 343.0h1.3M289.7 343.0h1.3M298.7 343.0h1.3M305.7 343.0h1.3M307.8 343.0h1.3M311.8 343.0h1.3M320.8 343.0h1.3M324.8 343.0h1.3M340.9 343.0h1.3M345.9 343.0h1.3M368.0 343.0h1.3M370.0 343.0h2.3"/>
<path stroke="#ffffff" stroke-width="11.03" d="M200.9 225.0h1.3M209.8 225.0h1.3M239.7 225.0h1.3M249.7 225.0h1.3M258.6 225.0h1.3M267.6 225.0h1.3M272.6 225.0h1.3M285.7 225.0h1.3M291.7 225.0h1.3M294.7 225.0h1.3M297.7 225.0h2.3M300.7 225.0h1.3M305.7 225.0h1.3M318.8 225.0h1.3M326.8 225.0h1.3M331.8 225.0h1.3M339.9 225.0h2.3M357.9 225.0h1.3M359.9 225.0h1.3M362.9 225.0h1.3M365.9 225.0h1.3M220.8 235.7h1.3M240.7 235.7h1.3M243.7 235.7h1.3M253.6 235.7h1.3M271.6 235.7h1.3M282.7 235.7h1.3M287.7 235.7h1.3M289.7 235.7h1.3M301.7 235.7h1.3M303.7 235.7h1.3M306.7 235.7h1.3M327.8 235.7h1.3M331.8 235.7h1.3M358.9 235.7h1.3M361.9 235.7h1.3M370.0 235.7h1.3M372.0 235.7h1.3M375.0 235.7h1.3M215.8 246.4h1.3M267.6 246.4h1.3M322.8 246.4h1.3M343.9 246.4h1.3M362.9 246.4h2.3M371.0 246.4h1.3M204.8 257.2h1.3M206.8 257.2h1.3M219.8 257.2h1.3M230.7 257.2h1.3M232.7 257.2h1.3M235.7 257.2h1.3M237.7 257.2h2.3M262.6 257.2h1.3M276.6 257.2h1.3M281.7 257.2h1.3M290.7 257.2h1.3M296.7 257.2h1.3M303.7 257.2h1.3M309.8 257.2h3.3M313.8 257.2h2.3M318.8 257.2h2.3M321.8 257.2h1.3M325.8 257.2h1.3M353.9 257.2h1.3M357.9 257.2h1.3M362.9 257.2h2.3M369.0 257.2h1.3M374.0 257.2h1.3M377.0 257.2h1.3M205.8 267.9h1.3M210.8 267.9h1.3M256.6 267.9h1.3M278.7 267.9h1.3M287.7 267.9h1.3M304.7 267.9h1.3M312.8 267.9h1.3M339.9 267.9h1.3M342.9 267.9h1.3M372.0 267.9h1.3M208.8 278.6h1.3M230.7 278.6h1.3M241.7 278.6h2.3M253.6 278.6h1.3M272.6 278.6h1.3M305.7 278.6h1.3M307.8 278.6h1.3M313.8 278.6h1.3M315.8 278.6h1.3M326.8 278.6h1.3M337.9 278.6h1.3M340.9 278.6h1.3M355.9 278.6h1.3M364.9 278.6h1.3M369.0 278.6h1.3M201.9 289.4h1.3M210.8 289.4h2.3M226.8 289.4h1.3M234.7 289.4h2.3M257.6 289.4h1.3M260.6 289.4h1.3M263.6 289.4h1.3M273.6 289.4h1.3M281.7 289.4h1.3M301.7 289.4h1.3M307.8 289.4h1.3M313.8 289.4h1.3M322.8 289.4h2.3M326.8 289.4h1.3M329.8 289.4h3.3M336.9 289.4h1.3M338.9 289.4h1.3M346.9 289.4h1.3M349.9 289.4h1.3M351.9 289.4h1.3M354.9 289.4h1.3M359.9 289.4h1.3M365.9 289.4h1.3M370.0 289.4h1.3M380.0 289.4h1.3M198.9 300.1h1.3M200.9 300.1h1.3M210.8 300.1h1.3M217.8 300.1h1.3M227.8 300.1h1.3M262.6 300.1h2.3M272.6 300.1h1.3M279.7 300.1h2.3M283.7 300.1h1.3M290.7 300.1h1.3M298.7 300.1h1.3M303.7 300.1h1.3M308.8 300.1h2.3M312.8 300.1h1.3M320.8 300.1h1.3M323.8 300.1h1.3M333.8 300.1h2.3M336.9 300.1h1.3M341.9 300.1h2.3M349.9 300.1h2.3M354.9 300.1h1.3M356.9 300.1h1.3M360.9 300.1h1.3M362.9 300.1h1.3M365.9 300.1h1.3M370.0 300.1h1.3M374.0 300.1h1.3M379.0 300.1h1.3M196.9 310.8h1.3M209.8 310.8h1.3M226.8 310.8h1.3M253.6 310.8h1.3M259.6 310.8h1.3M287.7 310.8h1.3M296.7 310.8h1.3M301.7 310.8h1.3M304.7 310.8h1.3M306.7 310.8h1.3M314.8 310.8h1.3M326.8 310.8h1.3M331.8 310.8h1.3M334.8 310.8h1.3M343.9 310.8h1.3M356.9 310.8h2.3M376.0 310.8h1.3M194.9 321.6h1.3M215.8 321.6h1.3M258.6 321.6h1.3M266.6 321.6h1.3M269.6 321.6h1.3M272.6 321.6h1.3M274.6 321.6h1.3M292.7 321.6h1.3M298.7 321.6h1.3M304.7 321.6h2.3M308.8 321.6h1.3M310.8 321.6h1.3M332.8 321.6h1.3M346.9 321.6h2.3M373.0 321.6h1.3M218.8 332.3h1.3M223.8 332.3h1.3M227.8 332.3h1.3M232.7 332.3h1.3M240.7 332.3h1.3M246.7 332.3h1.3M281.7 332.3h1.3M285.7 332.3h2.3M294.7 332.3h1.3M309.8 332.3h1.3M312.8 332.3h1.3M332.8 332.3h1.3M348.9 332.3h1.3M352.9 332.3h1.3M193.9 343.0h1.3M200.9 343.0h1.3M203.9 343.0h1.3M220.8 343.0h2.3M228.7 343.0h1.3M240.7 343.0h1.3M248.7 343.0h1.3M261.6 343.0h1.3M267.6 343.0h1.3M279.7 343.0h1.3M288.7 343.0h1.3M309.8 343.0h1.3M330.8 343.0h1.3M342.9 343.0h1.3M360.9 343.0h1.3M369.0 343.0h1.3M374.0 343.0h1.3"/>
<path stroke="#fad1d3" stroke-width="11.03" d="M202.9 225.0h1.3M205.8 225.0h1.3M207.8 225.0h1.3M212.8 225.0h1.3M226.8 225.0h1.3M231.7 225.0h1.3M237.7 225.0h1.3M240.7 225.0h1.3M243.7 225.0h1.3M246.7 225.0h1.3M281.7 225.0h1.3M355.9 225.0h1.3M199.9 235.7h1.3M203.9 235.7h1.3M205.8 235.7h1.3M214.8 235.7h1.3M222.8 235.7h1.3M224.8 235.7h1.3M231.7 235.7h1.3M236.7 235.7h1.3M246.7 235.7h2.3M196.9 246.4h1.3M209.8 246.4h1.3M211.8 246.4h1.3M224.8 246.4h1.3M244.7 246.4h1.3M250.7 246.4h1.3M257.6 246.4h1.3M215.8 257.2h1.3M222.8 257.2h1.3M225.8 257.2h1.3M251.6 257.2h1.3M204.8 267.9h1.3M216.8 267.9h1.3M228.7 267.9h2.3M231.7 267.9h1.3M241.7 267.9h1.3M244.7 267.9h1.3M257.6 267.9h2.3M261.6 267.9h1.3M262.6 267.9h1.3M341.9 267.9h1.3M198.9 278.6h2.3M209.8 278.6h1.3M212.8 278.6h1.3M219.8 278.6h1.3M226.8 278.6h1.3M236.7 278.6h2.3M244.7 278.6h1.3M246.7 278.6h1.3M249.7 278.6h1.3M255.6 278.6h1.3M257.6 278.6h1.3M261.6 278.6h1.3M345.9 278.6h1.3M197.9 289.4h1.3M199.9 289.4h1.3M218.8 289.4h1.3M223.8 289.4h3.3M246.7 289.4h1.3M258.6 289.4h2.3M197.9 300.1h1.3M220.8 300.1h1.3M237.7 300.1h1.3M246.7 300.1h1.3M193.9 310.8h1.3M222.8 310.8h1.3M240.7 310.8h3.3M256.6 310.8h1.3M260.6 310.8h1.3M207.8 321.6h1.3M213.8 321.6h1.3M232.7 321.6h1.3M239.7 321.6h1.3M317.8 321.6h1.3M356.9 321.6h1.3M369.0 321.6h1.3M199.9 332.3h1.3M259.6 332.3h1.3M270.6 332.3h1.3M340.9 332.3h1.3M358.9 332.3h1.3M198.9 343.0h1.3M230.7 343.0h1.3M268.6 343.0h1.3M290.7 343.0h1.3M317.8 343.0h1.3M337.9 343.0h1.3"/>
<path stroke="#f7f8fb" stroke-width="11.03" d="M203.9 225.0h1.3M219.8 225.0h1.3M223.8 225.0h1.3M230.7 225.0h1.3M252.6 225.0h1.3M279.7 225.0h1.3M283.7 225.0h1.3M287.7 225.0h1.3M290.7 225.0h1.3M309.8 225.0h1.3M313.8 225.0h1.3M334.8 225.0h1.3M336.9 225.0h1.3M353.9 225.0h1.3M356.9 225.0h1.3M360.9 225.0h1.3M376.0 225.0h2.3M379.0 225.0h1.3M237.7 235.7h1.3M239.7 235.7h1.3M266.6 235.7h1.3M270.6 235.7h1.3M276.6 235.7h2.3M286.7 235.7h1.3M291.7 235.7h1.3M293.7 235.7h2.3M300.7 235.7h1.3M321.8 235.7h1.3M323.8 235.7h1.3M328.8 235.7h1.3M340.9 235.7h1.3M342.9 235.7h1.3M346.9 235.7h1.3M348.9 235.7h1.3M353.9 235.7h1.3M362.9 235.7h1.3M226.8 246.4h1.3M264.6 246.4h1.3M271.6 246.4h2.3M275.6 246.4h1.3M282.7 246.4h1.3M287.7 246.4h1.3M291.7 246.4h1.3M297.7 246.4h1.3M310.8 246.4h1.3M313.8 246.4h1.3M320.8 246.4h1.3M347.9 246.4h1.3M369.0 246.4h1.3M376.0 246.4h1.3M193.9 257.2h1.3M200.9 257.2h1.3M217.8 257.2h2.3M224.8 257.2h1.3M226.8 257.2h2.3M242.7 257.2h2.3M248.7 257.2h2.3M263.6 257.2h1.3M265.6 257.2h1.3M268.6 257.2h2.3M271.6 257.2h1.3M277.7 257.2h1.3M282.7 257.2h1.3M288.7 257.2h2.3M293.7 257.2h1.3M295.7 257.2h1.3M298.7 257.2h2.3M302.7 257.2h1.3M305.7 257.2h1.3M316.8 257.2h2.3M324.8 257.2h1.3M326.8 257.2h2.3M330.8 257.2h1.3M333.8 257.2h1.3M337.9 257.2h1.3M339.9 257.2h1.3M345.9 257.2h1.3M352.9 257.2h1.3M354.9 257.2h3.3M358.9 257.2h4.3M364.9 257.2h4.3M370.0 257.2h1.3M375.0 257.2h1.3M378.0 257.2h1.3M380.0 257.2h1.3M223.8 267.9h1.3M246.7 267.9h1.3M273.6 267.9h1.3M285.7 267.9h1.3M294.7 267.9h2.3M300.7 267.9h1.3M302.7 267.9h1.3M311.8 267.9h1.3M315.8 267.9h1.3M317.8 267.9h1.3M321.8 267.9h1.3M324.8 267.9h1.3M328.8 267.9h1.3M335.8 267.9h1.3M338.9 267.9h1.3M344.9 267.9h1.3M356.9 267.9h1.3M361.9 267.9h2.3M367.0 267.9h1.3M373.0 267.9h1.3M379.0 267.9h1.3M207.8 278.6h1.3M210.8 278.6h1.3M227.8 278.6h2.3M231.7 278.6h1.3M274.6 278.6h1.3M283.7 278.6h1.3M291.7 278.6h1.3M296.7 278.6h1.3M299.7 278.6h1.3M301.7 278.6h1.3M304.7 278.6h1.3M309.8 278.6h1.3M318.8 278.6h1.3M320.8 278.6h1.3M324.8 278.6h1.3M327.8 278.6h1.3M330.8 278.6h1.3M341.9 278.6h1.3M347.9 278.6h1.3M350.9 278.6h1.3M358.9 278.6h3.3M367.0 278.6h1.3M370.0 278.6h1.3M374.0 278.6h1.3M239.7 289.4h1.3M250.7 289.4h2.3M264.6 289.4h3.3M268.6 289.4h4.3M283.7 289.4h1.3M288.7 289.4h1.3M290.7 289.4h1.3M299.7 289.4h2.3M305.7 289.4h1.3M309.8 289.4h1.3M314.8 289.4h2.3M317.8 289.4h1.3M319.8 289.4h1.3M328.8 289.4h1.3M333.8 289.4h1.3M335.8 289.4h1.3M343.9 289.4h1.3M353.9 289.4h1.3M355.9 289.4h3.3M362.9 289.4h1.3M364.9 289.4h1.3M372.0 289.4h1.3M375.0 289.4h2.3M379.0 289.4h1.3M199.9 300.1h1.3M203.9 300.1h1.3M223.8 300.1h1.3M267.6 300.1h5.3M273.6 300.1h2.3M277.7 300.1h1.3M292.7 300.1h1.3M297.7 300.1h1.3M299.7 300.1h1.3M304.7 300.1h1.3M306.7 300.1h2.3M313.8 300.1h2.3M316.8 300.1h1.3M318.8 300.1h2.3M321.8 300.1h1.3M325.8 300.1h1.3M327.8 300.1h1.3M330.8 300.1h1.3M335.8 300.1h1.3M338.9 300.1h2.3M347.9 300.1h2.3M355.9 300.1h1.3M373.0 300.1h1.3M376.0 300.1h1.3M378.0 300.1h1.3M380.0 300.1h1.3M249.7 310.8h1.3M264.6 310.8h1.3M273.6 310.8h1.3M300.7 310.8h1.3M307.8 310.8h1.3M310.8 310.8h1.3M312.8 310.8h1.3M318.8 310.8h1.3M321.8 310.8h2.3M355.9 310.8h1.3M358.9 310.8h1.3M363.9 310.8h3.3M369.0 310.8h1.3M372.0 310.8h1.3M222.8 321.6h1.3M235.7 321.6h1.3M277.7 321.6h1.3M288.7 321.6h1.3M313.8 321.6h1.3M315.8 321.6h1.3M322.8 321.6h1.3M344.9 321.6h1.3M364.9 321.6h1.3M371.0 321.6h1.3M375.0 321.6h1.3M196.9 332.3h1.3M201.9 332.3h1.3M215.8 332.3h1.3M217.8 332.3h1.3M265.6 332.3h1.3M297.7 332.3h1.3M313.8 332.3h1.3M318.8 332.3h1.3M320.8 332.3h1.3M322.8 332.3h1.3M324.8 332.3h1.3M194.9 343.0h1.3M209.8 343.0h1.3M212.8 343.0h1.3M239.7 343.0h1.3M251.6 343.0h1.3M266.6 343.0h1.3M272.6 343.0h1.3M274.6 343.0h1.3M282.7 343.0h1.3M302.7 343.0h1.3M325.8 343.0h1.3M336.9 343.0h1.3M348.9 343.0h1.3M354.9 343.0h2.3M359.9 343.0h1.3M379.0 343.0h1.3"/>
<path stroke="#f07f83" stroke-width="11.03" d="M204.8 225.0h1.3M304.7 246.4h1.3M291.7 257.2h1.3M244.7 310.8h1.3M192.9 321.6h1.3M364.9 332.3h1.3"/>
<path stroke="#f6acaf" stroke-width="11.03" d="M206.8 225.0h1.3M227.8 225.0h1.3M233.7 225.0h1.3M235.7 225.0h2.3M257.6 235.7h1.3M199.9 246.4h1.3M227.8 246.4h1.3M316.8 246.4h1.3M331.8 246.4h1.3M335.8 246.4h1.3M192.9 257.2h1.3M196.9 267.9h1.3M209.8 267.9h1.3M232.7 267.9h1.3M252.6 267.9h1.3M193.9 278.6h1.3M239.7 278.6h1.3M192.9 289.4h1.3M245.7 300.1h1.3M214.8 310.8h2.3M237.7 310.8h1.3M247.7 310.8h1.3M279.7 321.6h1.3M370.0 321.6h1.3M299.7 332.3h1.3M213.8 343.0h1.3M234.7 343.0h1.3M238.7 343.0h1.3M276.6 343.0h1.3"/>
<path stroke="#fef6f6" stroke-width="11.03" d="M208.8 225.0h1.3M217.8 225.0h1.3M224.8 225.0h1.3M269.6 225.0h1.3M274.6 225.0h1.3M289.7 225.0h1.3M299.7 225.0h1.3M308.8 225.0h1.3M337.9 225.0h1.3M342.9 225.0h1.3M354.9 225.0h1.3M193.9 235.7h1.3M232.7 235.7h1.3M235.7 235.7h1.3M260.6 235.7h1.3M262.6 235.7h1.3M273.6 235.7h1.3M284.7 235.7h1.3M304.7 235.7h1.3M307.8 235.7h1.3M326.8 235.7h1.3M359.9 235.7h2.3M368.0 235.7h1.3M216.8 246.4h2.3M241.7 246.4h1.3M243.7 246.4h1.3M285.7 246.4h1.3M327.8 246.4h1.3M330.8 246.4h1.3M332.8 246.4h1.3M349.9 246.4h1.3M198.9 257.2h1.3M202.9 257.2h1.3M228.7 257.2h1.3M233.7 257.2h2.3M257.6 257.2h1.3M286.7 257.2h2.3M371.0 257.2h1.3M220.8 267.9h1.3M237.7 267.9h1.3M247.7 267.9h1.3M249.7 267.9h1.3M268.6 267.9h1.3M277.7 267.9h1.3M284.7 267.9h1.3M303.7 267.9h1.3M316.8 267.9h1.3M346.9 267.9h1.3M349.9 267.9h1.3M364.9 267.9h1.3M202.9 278.6h1.3M213.8 278.6h1.3M218.8 278.6h1.3M221.8 278.6h1.3M247.7 278.6h1.3M256.6 278.6h1.3M278.7 278.6h1.3M281.7 278.6h1.3M285.7 278.6h1.3M287.7 278.6h1.3M293.7 278.6h1.3M298.7 278.6h1.3M302.7 278.6h1.3M311.8 278.6h1.3M343.9 278.6h1.3M376.0 278.6h1.3M379.0 278.6h1.3M216.8 289.4h1.3M220.8 289.4h1.3M243.7 289.4h1.3M247.7 289.4h1.3M277.7 289.4h1.3M291.7 289.4h2.3M205.8 300.1h1.3M212.8 300.1h1.3M222.8 300.1h1.3M224.8 300.1h1.3M226.8 300.1h1.3M228.7 300.1h1.3M233.7 300.1h1.3M247.7 300.1h1.3M253.6 300.1h1.3M275.6 300.1h1.3M282.7 300.1h1.3M287.7 300.1h1.3M305.7 300.1h1.3M357.9 300.1h1.3M199.9 310.8h1.3M202.9 310.8h1.3M207.8 310.8h1.3M290.7 310.8h1.3M327.8 310.8h1.3M339.9 310.8h2.3M360.9 310.8h1.3M196.9 321.6h1.3M204.8 321.6h1.3M216.8 321.6h1.3M234.7 321.6h1.3M263.6 321.6h1.3M267.6 321.6h1.3M270.6 321.6h1.3M284.7 321.6h1.3M295.7 321.6h1.3M299.7 321.6h1.3M301.7 321.6h1.3M303.7 321.6h1.3M309.8 321.6h1.3M314.8 321.6h1.3M320.8 321.6h1.3M330.8 321.6h1.3M352.9 321.6h2.3M376.0 321.6h1.3M211.8 332.3h1.3M230.7 332.3h1.3M237.7 332.3h1.3M241.7 332.3h1.3M255.6 332.3h1.3M257.6 332.3h1.3M260.6 332.3h1.3M262.6 332.3h1.3M264.6 332.3h1.3M266.6 332.3h1.3M289.7 332.3h1.3M310.8 332.3h1.3M317.8 332.3h1.3M319.8 332.3h1.3M326.8 332.3h1.3M328.8 332.3h1.3M357.9 332.3h1.3M365.9 332.3h1.3M370.0 332.3h1.3M196.9 343.0h2.3M224.8 343.0h1.3M233.7 343.0h1.3M283.7 343.0h1.3M291.7 343.0h1.3M295.7 343.0h1.3M300.7 343.0h1.3M312.8 343.0h2.3M333.8 343.0h1.3M335.8 343.0h1.3M344.9 343.0h1.3M351.9 343.0h1.3M356.9 343.0h1.3M365.9 343.0h1.3"/>
<path stroke="#e7e9f4" stroke-width="11.03" d="M210.8 225.0h1.3M221.8 225.0h1.3M259.6 225.0h1.3M262.6 225.0h1.3M273.6 225.0h1.3M282.7 225.0h1.3M302.7 225.0h1.3M312.8 225.0h1.3M322.8 225.0h1.3M338.9 225.0h1.3M346.9 225.0h1.3M351.9 225.0h1.3M364.9 225.0h1.3M369.0 225.0h1.3M375.0 225.0h1.3M206.8 235.7h1.3M272.6 235.7h1.3M274.6 235.7h1.3M283.7 235.7h1.3M290.7 235.7h1.3M295.7 235.7h1.3M298.7 235.7h1.3M312.8 235.7h3.3M322.8 235.7h1.3M329.8 235.7h1.3M332.8 235.7h1.3M334.8 235.7h1.3M345.9 235.7h1.3M349.9 235.7h1.3M351.9 235.7h1.3M354.9 235.7h1.3M357.9 235.7h1.3M363.9 235.7h1.3M365.9 235.7h1.3M376.0 235.7h1.3M379.0 235.7h1.3M263.6 246.4h1.3M266.6 246.4h1.3M288.7 246.4h1.3M295.7 246.4h1.3M312.8 246.4h1.3M314.8 246.4h1.3M334.8 246.4h1.3M336.9 246.4h1.3M365.9 246.4h1.3M368.0 246.4h1.3M370.0 246.4h1.3M379.0 246.4h1.3M253.6 257.2h1.3M264.6 257.2h1.3M332.8 257.2h1.3M336.9 257.2h1.3M346.9 257.2h2.3M349.9 257.2h2.3M263.6 267.9h1.3M265.6 267.9h1.3M269.6 267.9h1.3M283.7 267.9h1.3M286.7 267.9h1.3M306.7 267.9h1.3M309.8 267.9h1.3M314.8 267.9h1.3M329.8 267.9h1.3M348.9 267.9h1.3M358.9 267.9h1.3M365.9 267.9h1.3M370.0 267.9h1.3M376.0 267.9h2.3M216.8 278.6h1.3M263.6 278.6h1.3M266.6 278.6h1.3M269.6 278.6h1.3M271.6 278.6h1.3M273.6 278.6h1.3M275.6 278.6h1.3M295.7 278.6h1.3M303.7 278.6h1.3M308.8 278.6h1.3M312.8 278.6h1.3M316.8 278.6h1.3M323.8 278.6h1.3M335.8 278.6h1.3M338.9 278.6h1.3M365.9 278.6h1.3M380.0 278.6h1.3M275.6 289.4h2.3M285.7 289.4h3.3M289.7 289.4h1.3M296.7 289.4h1.3M302.7 289.4h1.3M308.8 289.4h1.3M316.8 289.4h1.3M318.8 289.4h1.3M320.8 289.4h1.3M332.8 289.4h1.3M348.9 289.4h1.3M352.9 289.4h1.3M369.0 289.4h1.3M377.0 289.4h2.3M213.8 300.1h1.3M235.7 300.1h1.3M266.6 300.1h1.3M276.6 300.1h1.3M281.7 300.1h1.3M296.7 300.1h1.3M322.8 300.1h1.3M326.8 300.1h1.3M358.9 300.1h1.3M367.0 300.1h1.3M369.0 300.1h1.3M371.0 300.1h1.3M375.0 300.1h1.3M377.0 300.1h1.3M266.6 310.8h1.3M272.6 310.8h1.3M276.6 310.8h2.3M280.7 310.8h1.3M285.7 310.8h1.3M295.7 310.8h1.3M305.7 310.8h1.3M313.8 310.8h1.3M315.8 310.8h1.3M319.8 310.8h1.3M330.8 310.8h1.3M332.8 310.8h1.3M336.9 310.8h1.3M345.9 310.8h1.3M350.9 310.8h1.3M352.9 310.8h2.3M377.0 310.8h2.3M198.9 321.6h1.3M220.8 321.6h1.3M243.7 321.6h2.3M287.7 321.6h1.3M341.9 321.6h2.3M361.9 321.6h1.3M363.9 321.6h1.3M365.9 321.6h1.3M368.0 321.6h1.3M192.9 332.3h1.3M208.8 332.3h2.3M213.8 332.3h1.3M220.8 332.3h1.3M247.7 332.3h1.3M258.6 332.3h1.3M276.6 332.3h1.3M300.7 332.3h1.3M308.8 332.3h1.3M311.8 332.3h1.3M314.8 332.3h1.3M316.8 332.3h1.3M327.8 332.3h1.3M330.8 332.3h1.3M334.8 332.3h1.3M342.9 332.3h2.3M345.9 332.3h1.3M351.9 332.3h1.3M354.9 332.3h1.3M367.0 332.3h1.3M372.0 332.3h1.3M375.0 332.3h1.3M199.9 343.0h1.3M206.8 343.0h1.3M227.8 343.0h1.3M253.6 343.0h1.3M255.6 343.0h1.3M262.6 343.0h1.3M280.7 343.0h1.3M326.8 343.0h1.3M347.9 343.0h1.3M349.9 343.0h2.3"/>
<path stroke="#f7b6b8" stroke-width="11.03" d="M214.8 225.0h1.3M238.7 225.0h1.3M253.6 225.0h1.3M255.6 225.0h1.3M301.7 225.0h1.3M210.8 235.7h1.3M198.9 246.4h1.3M200.9 246.4h1.3M223.8 246.4h1.3M205.8 257.2h1.3M201.9 267.9h2.3M225.8 278.6h1.3M195.9 289.4h1.3M242.7 289.4h1.3M249.7 289.4h1.3M252.6 289.4h1.3M206.8 300.1h1.3M242.7 300.1h1.3M201.9 310.8h1.3M214.8 321.6h1.3M218.8 321.6h1.3M323.8 321.6h1.3M350.9 321.6h1.3M202.9 332.3h1.3M239.7 332.3h1.3M272.6 332.3h1.3M338.9 332.3h1.3M201.9 343.0h1.3M246.7 343.0h1.3M367.0 343.0h1.3"/>
<path stroke="#8d98ca" stroke-width="11.03" d="M216.8 225.0h1.3M354.9 246.4h1.3M230.7 300.1h1.3M260.6 321.6h1.3M360.9 332.3h1.3"/>
<path stroke="#f5a3a6" stroke-width="11.03" d="M220.8 225.0h1.3M216.8 235.7h1.3M201.9 246.4h1.3M242.7 246.4h1.3M315.8 257.2h1.3M225.8 267.9h1.3M227.8 267.9h1.3M232.7 289.4h1.3M237.7 289.4h1.3M253.6 289.4h1.3M251.6 300.1h1.3M261.6 300.1h1.3M197.9 310.8h1.3M223.8 310.8h1.3M199.9 321.6h1.3M345.9 321.6h1.3M206.8 332.3h1.3M212.8 332.3h1.3"/>
<path stroke="#ed6368" stroke-width="11.03" d="M241.7 225.0h1.3M240.7 246.4h1.3M274.6 289.4h1.3"/>
<path stroke="#f49a9d" stroke-width="11.03" d="M242.7 225.0h1.3M244.7 225.0h1.3M250.7 225.0h1.3M363.9 225.0h1.3M221.8 235.7h1.3M203.9 246.4h1.3M212.8 246.4h1.3M228.7 246.4h2.3M259.6 246.4h1.3M199.9 257.2h1.3M270.6 267.9h1.3M200.9 278.6h1.3M236.7 300.1h1.3M239.7 300.1h1.3M255.6 321.6h1.3M254.6 332.3h1.3M271.6 343.0h1.3M277.7 343.0h1.3"/>
<path stroke="#ced3e8" stroke-width="11.03" d="M256.6 225.0h1.3M264.6 225.0h1.3M327.8 225.0h1.3M347.9 225.0h1.3M367.0 225.0h1.3M255.6 235.7h1.3M278.7 235.7h1.3M280.7 235.7h2.3M297.7 235.7h1.3M305.7 235.7h1.3M324.8 235.7h1.3M344.9 235.7h1.3M369.0 235.7h1.3M219.8 246.4h1.3M284.7 246.4h1.3M290.7 246.4h1.3M309.8 246.4h1.3M321.8 246.4h1.3M213.8 257.2h2.3M288.7 267.9h1.3M292.7 267.9h1.3M299.7 267.9h1.3M331.8 267.9h1.3M350.9 267.9h1.3M353.9 267.9h1.3M319.8 278.6h1.3M215.8 289.4h1.3M202.9 300.1h1.3M262.6 310.8h1.3M274.6 310.8h1.3M279.7 310.8h1.3M291.7 310.8h1.3M348.9 310.8h1.3M359.9 310.8h1.3M368.0 310.8h1.3M375.0 310.8h1.3M264.6 321.6h1.3M316.8 321.6h1.3M378.0 321.6h1.3M214.8 332.3h1.3M221.8 332.3h1.3M224.8 332.3h1.3M233.7 332.3h1.3M252.6 332.3h1.3M271.6 332.3h1.3M304.7 332.3h1.3M349.9 332.3h2.3M371.0 332.3h1.3M223.8 343.0h1.3M229.7 343.0h1.3M285.7 343.0h1.3M353.9 343.0h1.3"/>
<path stroke="#d6daec" stroke-width="11.03" d="M263.6 225.0h1.3M271.6 225.0h1.3M276.6 225.0h1.3M293.7 225.0h1.3M317.8 225.0h1.3M320.8 225.0h1.3M333.8 225.0h1.3M341.9 225.0h1.3M350.9 225.0h1.3M380.0 225.0h1.3M264.6 235.7h1.3M309.8 235.7h1.3M330.8 235.7h1.3M364.9 235.7h1.3M210.8 246.4h1.3M277.7 246.4h1.3M280.7 246.4h1.3M294.7 246.4h1.3M308.8 246.4h1.3M318.8 246.4h1.3M344.9 246.4h1.3M358.9 246.4h1.3M364.9 246.4h1.3M245.7 257.2h1.3M313.8 267.9h1.3M320.8 267.9h1.3M327.8 267.9h1.3M330.8 267.9h1.3M368.0 267.9h1.3M214.8 278.6h1.3M243.7 278.6h1.3M277.7 278.6h1.3M286.7 278.6h1.3M300.7 278.6h1.3M334.8 278.6h1.3M339.9 278.6h1.3M351.9 278.6h1.3M371.0 278.6h1.3M378.0 278.6h1.3M267.6 289.4h1.3M340.9 289.4h1.3M342.9 289.4h1.3M214.8 300.1h1.3M311.8 300.1h1.3M353.9 300.1h1.3M271.6 310.8h1.3M284.7 310.8h1.3M286.7 310.8h1.3M292.7 310.8h1.3M298.7 310.8h1.3M338.9 310.8h1.3M370.0 310.8h1.3M208.8 321.6h1.3M324.8 321.6h1.3M337.9 321.6h1.3M351.9 321.6h1.3M193.9 332.3h1.3M219.8 332.3h1.3M222.8 332.3h1.3M245.7 332.3h1.3M288.7 332.3h1.3M321.8 332.3h1.3M336.9 332.3h1.3M353.9 332.3h1.3M361.9 332.3h1.3M207.8 343.0h1.3M222.8 343.0h1.3M232.7 343.0h1.3M236.7 343.0h1.3M304.7 343.0h1.3M329.8 343.0h1.3M334.8 343.0h1.3M339.9 343.0h1.3M352.9 343.0h1.3M372.0 343.0h1.3M377.0 343.0h1.3"/>
<path stroke="#dee2f0" stroke-width="11.03" d="M266.6 225.0h1.3M277.7 225.0h1.3M280.7 225.0h1.3M284.7 225.0h1.3M295.7 225.0h1.3M303.7 225.0h1.3M307.8 225.0h1.3M314.8 225.0h1.3M321.8 225.0h1.3M324.8 225.0h2.3M332.8 225.0h1.3M200.9 235.7h1.3M215.8 235.7h1.3M269.6 235.7h1.3M292.7 235.7h1.3M299.7 235.7h1.3M308.8 235.7h1.3M311.8 235.7h1.3M316.8 235.7h1.3M343.9 235.7h1.3M371.0 235.7h1.3M276.6 246.4h1.3M279.7 246.4h1.3M283.7 246.4h1.3M289.7 246.4h1.3M306.7 246.4h1.3M319.8 246.4h1.3M324.8 246.4h1.3M326.8 246.4h1.3M338.9 246.4h1.3M341.9 246.4h2.3M348.9 246.4h1.3M352.9 246.4h1.3M360.9 246.4h1.3M367.0 246.4h1.3M372.0 246.4h1.3M374.0 246.4h1.3M378.0 246.4h1.3M212.8 257.2h1.3M274.6 257.2h1.3M351.9 257.2h1.3M379.0 257.2h1.3M264.6 267.9h1.3M276.6 267.9h1.3M279.7 267.9h2.3M291.7 267.9h1.3M293.7 267.9h1.3M296.7 267.9h1.3M308.8 267.9h1.3M322.8 267.9h1.3M325.8 267.9h1.3M337.9 267.9h1.3M347.9 267.9h1.3M380.0 267.9h1.3M265.6 278.6h1.3M270.6 278.6h1.3M280.7 278.6h1.3M282.7 278.6h1.3M288.7 278.6h2.3M297.7 278.6h1.3M314.8 278.6h1.3M317.8 278.6h1.3M321.8 278.6h1.3M349.9 278.6h1.3M356.9 278.6h1.3M362.9 278.6h1.3M278.7 289.4h1.3M284.7 289.4h1.3M324.8 289.4h1.3M339.9 289.4h1.3M345.9 289.4h1.3M347.9 289.4h1.3M360.9 289.4h2.3M371.0 289.4h1.3M218.8 300.1h1.3M291.7 300.1h1.3M219.8 310.8h1.3M267.6 310.8h2.3M278.7 310.8h1.3M297.7 310.8h1.3M303.7 310.8h1.3M316.8 310.8h1.3M323.8 310.8h1.3M325.8 310.8h1.3M333.8 310.8h1.3M335.8 310.8h1.3M346.9 310.8h1.3M349.9 310.8h1.3M351.9 310.8h1.3M361.9 310.8h2.3M371.0 310.8h1.3M373.0 310.8h1.3M380.0 310.8h1.3M209.8 321.6h1.3M229.7 321.6h1.3M231.7 321.6h1.3M245.7 321.6h1.3M280.7 321.6h1.3M286.7 321.6h1.3M289.7 321.6h1.3M297.7 321.6h1.3M359.9 321.6h1.3M263.6 332.3h1.3M269.6 332.3h1.3M277.7 332.3h1.3M291.7 332.3h1.3M295.7 332.3h2.3M337.9 332.3h1.3M369.0 332.3h1.3M204.8 343.0h1.3M208.8 343.0h1.3M216.8 343.0h1.3M219.8 343.0h1.3M247.7 343.0h1.3M275.6 343.0h1.3M287.7 343.0h1.3M297.7 343.0h1.3M301.7 343.0h1.3M306.7 343.0h1.3M316.8 343.0h1.3"/>
<path stroke="#fdeded" stroke-width="11.03" d="M292.7 225.0h1.3M306.7 225.0h1.3M315.8 225.0h1.3M319.8 225.0h1.3M328.8 225.0h1.3M330.8 225.0h1.3M345.9 225.0h1.3M349.9 225.0h1.3M361.9 225.0h1.3M201.9 235.7h1.3M208.8 235.7h1.3M223.8 235.7h1.3M226.8 235.7h1.3M242.7 235.7h1.3M254.6 235.7h1.3M256.6 235.7h1.3M261.6 235.7h1.3M279.7 235.7h1.3M285.7 235.7h1.3M339.9 235.7h1.3M377.0 235.7h2.3M380.0 235.7h1.3M194.9 246.4h1.3M202.9 246.4h1.3M205.8 246.4h1.3M218.8 246.4h1.3M235.7 246.4h1.3M237.7 246.4h1.3M274.6 246.4h1.3M281.7 246.4h1.3M293.7 246.4h1.3M301.7 246.4h1.3M303.7 246.4h1.3M339.9 246.4h1.3M353.9 246.4h1.3M356.9 246.4h2.3M203.9 257.2h1.3M211.8 257.2h1.3M216.8 257.2h1.3M244.7 257.2h1.3M250.7 257.2h1.3M258.6 257.2h1.3M260.6 257.2h1.3M284.7 257.2h1.3M338.9 257.2h1.3M193.9 267.9h1.3M215.8 267.9h1.3M221.8 267.9h1.3M226.8 267.9h1.3M230.7 267.9h1.3M234.7 267.9h1.3M345.9 267.9h1.3M378.0 267.9h1.3M203.9 278.6h2.3M233.7 278.6h1.3M252.6 278.6h1.3M258.6 278.6h1.3M268.6 278.6h1.3M322.8 278.6h1.3M353.9 278.6h2.3M363.9 278.6h1.3M372.0 278.6h1.3M196.9 289.4h1.3M230.7 289.4h2.3M233.7 289.4h1.3M236.7 289.4h1.3M244.7 289.4h1.3M261.6 289.4h1.3M298.7 289.4h1.3M310.8 289.4h1.3M373.0 289.4h1.3M194.9 300.1h1.3M204.8 300.1h1.3M211.8 300.1h1.3M215.8 300.1h1.3M249.7 300.1h2.3M295.7 300.1h1.3M372.0 300.1h1.3M200.9 310.8h1.3M220.8 310.8h1.3M227.8 310.8h1.3M248.7 310.8h1.3M250.7 310.8h1.3M309.8 310.8h1.3M195.9 321.6h1.3M201.9 321.6h1.3M226.8 321.6h1.3M240.7 321.6h1.3M242.7 321.6h1.3M249.7 321.6h1.3M251.6 321.6h1.3M281.7 321.6h1.3M285.7 321.6h1.3M291.7 321.6h1.3M319.8 321.6h1.3M327.8 321.6h1.3M329.8 321.6h1.3M339.9 321.6h1.3M343.9 321.6h1.3M357.9 321.6h1.3M377.0 321.6h1.3M200.9 332.3h1.3M210.8 332.3h1.3M226.8 332.3h1.3M236.7 332.3h1.3M249.7 332.3h1.3M279.7 332.3h1.3M282.7 332.3h1.3M284.7 332.3h1.3M315.8 332.3h1.3M323.8 332.3h1.3M341.9 332.3h1.3M344.9 332.3h1.3M356.9 332.3h1.3M363.9 332.3h1.3M237.7 343.0h1.3M250.7 343.0h1.3M264.6 343.0h1.3M273.6 343.0h1.3M293.7 343.0h1.3M296.7 343.0h1.3M314.8 343.0h1.3M341.9 343.0h1.3M346.9 343.0h1.3M361.9 343.0h2.3M364.9 343.0h1.3M375.0 343.0h1.3M378.0 343.0h1.3"/>
<path stroke="#c6cbe5" stroke-width="11.03" d="M304.7 225.0h1.3M310.8 225.0h1.3M323.8 225.0h1.3M343.9 225.0h2.3M358.9 225.0h1.3M320.8 235.7h1.3M336.9 235.7h1.3M273.6 246.4h1.3M311.8 246.4h1.3M340.9 246.4h1.3M294.7 257.2h1.3M272.6 267.9h1.3M281.7 267.9h1.3M334.8 267.9h1.3M360.9 267.9h1.3M369.0 267.9h1.3M276.6 278.6h1.3M270.6 310.8h1.3M275.6 310.8h1.3M282.7 310.8h1.3M289.7 310.8h1.3M324.8 310.8h1.3M328.8 310.8h1.3M374.0 310.8h1.3M312.8 321.6h1.3M331.8 321.6h1.3M203.9 332.3h1.3M250.7 332.3h1.3M305.7 332.3h1.3M379.0 332.3h1.3M258.6 343.0h1.3M322.8 343.0h1.3"/>
<path stroke="#aeb5da" stroke-width="11.03" d="M335.8 225.0h1.3M374.0 235.7h1.3M310.8 267.9h1.3M294.7 278.6h1.3M221.8 300.1h1.3M211.8 321.6h1.3"/>
<path stroke="#ea484e" stroke-width="11.03" d="M348.9 225.0h1.3M265.6 235.7h1.3M254.6 257.2h1.3"/>
<path stroke="#7d89c3" stroke-width="11.03" d="M370.0 225.0h1.3M357.9 278.6h1.3"/>
<path stroke="#bec4e1" stroke-width="11.03" d="M378.0 225.0h1.3M278.7 246.4h1.3M298.7 246.4h1.3M319.8 267.9h1.3M343.9 267.9h1.3M363.9 267.9h1.3M342.9 278.6h1.3M368.0 278.6h1.3M221.8 289.4h1.3M263.6 310.8h1.3M347.9 310.8h1.3M219.8 321.6h1.3M283.7 321.6h1.3M333.8 321.6h1.3M374.0 321.6h1.3M256.6 332.3h1.3M261.6 332.3h1.3M355.9 332.3h1.3M378.0 332.3h1.3M192.9 343.0h1.3M211.8 343.0h1.3M217.8 343.0h1.3M303.7 343.0h1.3M328.8 343.0h1.3"/>
<path stroke="#ef767a" stroke-width="11.03" d="M209.8 235.7h1.3M252.6 235.7h1.3M208.8 267.9h1.3M371.0 267.9h1.3M236.7 310.8h1.3M268.6 332.3h1.3"/>
<path stroke="#eb5156" stroke-width="11.03" d="M268.6 235.7h1.3M292.7 343.0h1.3"/>
<path stroke="#b6bddd" stroke-width="11.03" d="M302.7 235.7h1.3M345.9 246.4h1.3M375.0 267.9h1.3M230.7 321.6h1.3M321.8 321.6h1.3M379.0 321.6h1.3M198.9 332.3h1.3M204.8 332.3h1.3M229.7 332.3h1.3M231.7 332.3h1.3"/>
<path stroke="#f1888c" stroke-width="11.03" d="M347.9 235.7h1.3M292.7 246.4h1.3M302.7 246.4h1.3M263.6 343.0h1.3"/>
<path stroke="#f29194" stroke-width="11.03" d="M236.7 246.4h1.3M261.6 246.4h1.3M286.7 246.4h1.3M255.6 257.2h1.3M209.8 289.4h1.3M193.9 300.1h1.3M209.8 300.1h1.3M204.8 310.8h1.3M193.9 321.6h1.3M254.6 321.6h1.3"/>
<path stroke="#9ea6d2" stroke-width="11.03" d="M270.6 246.4h1.3M315.8 246.4h1.3M212.8 321.6h1.3M318.8 343.0h1.3"/>
<path stroke="#959fce" stroke-width="11.03" d="M337.9 246.4h1.3M361.9 278.6h1.3M195.9 332.3h1.3"/>
<path stroke="#a6aed6" stroke-width="11.03" d="M254.6 267.9h1.3M359.9 267.9h1.3M264.6 300.1h1.3M275.6 321.6h1.3"/>
<path stroke="#5464b0" stroke-width="11.03" d="M207.8 289.4h1.3"/>
<path stroke="#8590c7" stroke-width="11.03" d="M254.6 289.4h1.3M380.0 332.3h1.3M380.0 343.0h1.3"/>
<path stroke="#e93e45" stroke-width="11.03" d="M231.7 300.1h1.3"/>
<path stroke="#ec5a5f" stroke-width="11.03" d="M256.6 300.1h1.3M257.6 310.8h1.3"/>
<path stroke="#ee6c71" stroke-width="11.03" d="M253.6 321.6h1.3M256.6 321.6h1.3M358.9 343.0h1.3"/>
<path stroke="#e6232a" stroke-width="11.03" d="M334.8 321.6h1.3"/>
</g>
<rect x="192.90" y="207.10" width="69.70" height="12.20" fill="#cde8c3" />
<rect x="262.60" y="207.10" width="118.40" height="12.20" fill="#558b5b" />
<text x="231.00" y="203.10" font-size="10.4" text-anchor="middle" fill="#111" font-family='"Liberation Sans", sans-serif' textLength="51.2" lengthAdjust="spacingAndGlyphs">hEMT high</text>
<text x="324.90" y="203.00" font-size="10.4" text-anchor="middle" fill="#111" font-family='"Liberation Sans", sans-serif' textLength="46.8" lengthAdjust="spacingAndGlyphs">hEMT low</text>
<text x="383.50" y="228.06" font-size="7.2" text-anchor="start" font-weight="normal" fill="#222" font-family='"Liberation Sans", sans-serif' >TGFBI</text>
<text x="383.50" y="238.79" font-size="7.2" text-anchor="start" font-weight="normal" fill="#222" font-family='"Liberation Sans", sans-serif' >PDPN</text>
<text x="383.50" y="249.53" font-size="7.2" text-anchor="start" font-weight="normal" fill="#222" font-family='"Liberation Sans", sans-serif' >TNC</text>
<text x="383.50" y="260.26" font-size="7.2" text-anchor="start" font-weight="normal" fill="#222" font-family='"Liberation Sans", sans-serif' >MMP10</text>
<text x="383.50" y="270.99" font-size="7.2" text-anchor="start" font-weight="normal" fill="#222" font-family='"Liberation Sans", sans-serif' >P4HA2</text>
<text x="383.50" y="281.73" font-size="7.2" text-anchor="start" font-weight="normal" fill="#222" font-family='"Liberation Sans", sans-serif' >ITGA5</text>
<text x="383.50" y="292.46" font-size="7.2" text-anchor="start" font-weight="normal" fill="#222" font-family='"Liberation Sans", sans-serif' >LAMC2</text>
<text x="383.50" y="303.19" font-size="7.2" text-anchor="start" font-weight="normal" fill="#222" font-family='"Liberation Sans", sans-serif' >MMP1</text>
<text x="383.50" y="313.93" font-size="7.2" text-anchor="start" font-weight="normal" fill="#222" font-family='"Liberation Sans", sans-serif' >SERPINE1</text>
<text x="383.50" y="324.66" font-size="7.2" text-anchor="start" font-weight="normal" fill="#222" font-family='"Liberation Sans", sans-serif' >CDH13</text>
<text x="383.50" y="335.39" font-size="7.2" text-anchor="start" font-weight="normal" fill="#222" font-family='"Liberation Sans", sans-serif' >ITGA6</text>
<text x="383.50" y="346.13" font-size="7.2" text-anchor="start" font-weight="normal" fill="#222" font-family='"Liberation Sans", sans-serif' >LAMA3</text>
<defs><linearGradient id="ck212" x1="0" y1="0" x2="0" y2="1"><stop offset="0" stop-color="#e8262c"/><stop offset="0.5" stop-color="#ffffff"/><stop offset="1" stop-color="#3c4ea5"/></linearGradient></defs>
<rect x="411.20" y="212.80" width="4.80" height="73.40" fill="url(#ck212)" />
<text x="419.20" y="218.80" font-size="7.2" text-anchor="start" font-weight="normal" fill="#222" font-family='"Liberation Sans", sans-serif' >6</text>
<text x="419.20" y="254.10" font-size="7.2" text-anchor="start" font-weight="normal" fill="#222" font-family='"Liberation Sans", sans-serif' >0</text>
<text x="417.60" y="286.20" font-size="7.2" text-anchor="start" font-weight="normal" fill="#222" font-family='"Liberation Sans", sans-serif' >−6</text>
<path d="M192.90,235.70H177.60V246.43H192.90M192.90,224.97H175.40V241.07H177.60M192.90,278.63H180.90V289.37H192.90M192.90,300.10H178.10V310.83H192.90M180.90,284.00H176.70V305.47H178.10M192.90,267.90H175.90V294.73H176.70M192.90,257.17H175.10V281.32H175.90M175.40,233.02H172.60V269.24H175.10M192.90,332.30H172.60V343.03H192.90M192.90,321.57H170.00V337.67H172.60M172.60,251.13H167.50V329.62H170.00" stroke="#6e6e6e" fill="none" stroke-width="0.8" fill="none"/>
<g filter="url(#hblur)">
<path stroke="#fdeded" stroke-width="8.30" d="M191.2 404.8h1.3M195.2 404.8h1.3M203.2 404.8h1.3M227.3 404.8h1.3M262.4 404.8h1.3M299.5 404.8h1.3M311.5 404.8h1.3M321.6 404.8h1.3M351.5 404.8h1.3M359.4 404.8h1.3M378.3 404.8h1.3M201.2 412.8h1.3M209.3 412.8h1.3M216.3 412.8h1.3M219.3 412.8h1.3M227.3 412.8h1.3M262.4 412.8h1.3M273.4 412.8h1.3M276.4 412.8h1.3M279.5 412.8h2.3M305.5 412.8h1.3M326.6 412.8h1.3M342.5 412.8h1.3M345.5 412.8h1.3M350.5 412.8h1.3M375.4 412.8h1.3M380.3 412.8h1.3M201.2 420.8h1.3M246.4 420.8h1.3M249.4 420.8h1.3M280.5 420.8h1.3M295.5 420.8h1.3M312.5 420.8h1.3M314.6 420.8h1.3M316.6 420.8h1.3M318.6 420.8h1.3M323.6 420.8h1.3M348.5 420.8h1.3M362.4 420.8h1.3M364.4 420.8h1.3M366.4 420.8h1.3M369.4 420.8h1.3M375.4 420.8h1.3M378.3 420.8h1.3M383.3 420.8h1.3M196.2 428.8h1.3M209.3 428.8h1.3M212.3 428.8h1.3M218.3 428.8h2.3M225.3 428.8h1.3M235.3 428.8h1.3M240.3 428.8h1.3M242.3 428.8h1.3M252.4 428.8h1.3M255.4 428.8h1.3M266.4 428.8h1.3M287.5 428.8h1.3M289.5 428.8h1.3M294.5 428.8h1.3M314.6 428.8h1.3M334.6 428.8h1.3M337.6 428.8h1.3M363.4 428.8h1.3M370.4 428.8h1.3M372.4 428.8h2.3M378.3 428.8h1.3M203.2 436.8h1.3M211.3 436.8h1.3M236.3 436.8h1.3M241.3 436.8h1.3M248.4 436.8h1.3M272.4 436.8h1.3M274.4 436.8h1.3M294.5 436.8h1.3M299.5 436.8h1.3M307.5 436.8h1.3M310.5 436.8h1.3M315.6 436.8h1.3M321.6 436.8h1.3M343.5 436.8h1.3M358.4 436.8h1.3M367.4 436.8h1.3M199.2 444.8h2.3M238.3 444.8h1.3M255.4 444.8h1.3M275.4 444.8h1.3M285.5 444.8h1.3M288.5 444.8h1.3M301.5 444.8h1.3M322.6 444.8h1.3M372.4 444.8h1.3M375.4 444.8h1.3M194.2 452.8h1.3M228.3 452.8h1.3M255.4 452.8h1.3M283.5 452.8h1.3M298.5 452.8h1.3M321.6 452.8h1.3M329.6 452.8h1.3M341.5 452.8h1.3M343.5 452.8h1.3M353.5 452.8h1.3M355.5 452.8h1.3M365.4 452.8h1.3M369.4 452.8h1.3M378.3 452.8h1.3M380.3 452.8h1.3M191.2 460.8h1.3M193.2 460.8h1.3M196.2 460.8h1.3M203.2 460.8h1.3M216.3 460.8h1.3M223.3 460.8h1.3M247.4 460.8h1.3M250.4 460.8h1.3M253.4 460.8h2.3M256.4 460.8h1.3M258.4 460.8h1.3M281.5 460.8h1.3M297.5 460.8h1.3M306.5 460.8h1.3M316.6 460.8h1.3M325.6 460.8h1.3M338.6 460.8h1.3M340.5 460.8h1.3M352.5 460.8h1.3M364.4 460.8h1.3M366.4 460.8h1.3M370.4 460.8h1.3M212.3 468.8h1.3M221.3 468.8h1.3M229.3 468.8h1.3M240.3 468.8h1.3M270.4 468.8h1.3M285.5 468.8h1.3M314.6 468.8h1.3M343.5 468.8h1.3M362.4 468.8h1.3M244.4 476.8h1.3M261.4 476.8h1.3M332.6 476.8h1.3M196.2 484.8h1.3M209.3 484.8h1.3M239.3 484.8h1.3M259.4 484.8h1.3M267.4 484.8h1.3M278.5 484.8h1.3M288.5 484.8h1.3M316.6 484.8h1.3M328.6 484.8h1.3M333.6 484.8h1.3M343.5 484.8h1.3M345.5 484.8h1.3M363.4 484.8h1.3M205.2 492.8h1.3M207.2 492.8h1.3M215.3 492.8h1.3M239.3 492.8h1.3M274.4 492.8h1.3M313.6 492.8h2.3M316.6 492.8h1.3M319.6 492.8h1.3M326.6 492.8h1.3M333.6 492.8h1.3M343.5 492.8h1.3M351.5 492.8h1.3M354.5 492.8h1.3M359.4 492.8h1.3M368.4 492.8h1.3M198.2 500.8h1.3M224.3 500.8h1.3M227.3 500.8h1.3M252.4 500.8h1.3M258.4 500.8h2.3M264.4 500.8h1.3M266.4 500.8h1.3M281.5 500.8h1.3M301.5 500.8h1.3M309.5 500.8h1.3M335.6 500.8h1.3M338.6 500.8h1.3M340.5 500.8h1.3M353.5 500.8h1.3M362.4 500.8h1.3M373.4 500.8h1.3M191.2 508.8h1.3M230.3 508.8h1.3M243.3 508.8h1.3M246.4 508.8h1.3M265.4 508.8h1.3M300.5 508.8h1.3M318.6 508.8h1.3M325.6 508.8h1.3M330.6 508.8h1.3M335.6 508.8h2.3M371.4 508.8h1.3M198.2 516.8h1.3M204.2 516.8h1.3M212.3 516.8h1.3M214.3 516.8h1.3M221.3 516.8h1.3M247.4 516.8h1.3M256.4 516.8h1.3M264.4 516.8h1.3M270.4 516.8h1.3M294.5 516.8h1.3M302.5 516.8h1.3M309.5 516.8h1.3M321.6 516.8h1.3M340.5 516.8h2.3M351.5 516.8h1.3M370.4 516.8h1.3M202.2 524.8h1.3M207.2 524.8h1.3M213.3 524.8h1.3M218.3 524.8h1.3M220.3 524.8h1.3M226.3 524.8h1.3M240.3 524.8h1.3M242.3 524.8h1.3M267.4 524.8h2.3M284.5 524.8h1.3M286.5 524.8h1.3M299.5 524.8h1.3M317.6 524.8h2.3M322.6 524.8h1.3M333.6 524.8h1.3M343.5 524.8h1.3M354.5 524.8h1.3M383.3 524.8h1.3"/>
<path stroke="#fef6f6" stroke-width="8.30" d="M192.2 404.8h1.3M221.3 404.8h2.3M228.3 404.8h1.3M248.4 404.8h1.3M253.4 404.8h1.3M265.4 404.8h1.3M268.4 404.8h1.3M289.5 404.8h1.3M319.6 404.8h1.3M326.6 404.8h1.3M346.5 404.8h1.3M368.4 404.8h2.3M372.4 404.8h1.3M376.3 404.8h1.3M192.2 412.8h1.3M204.2 412.8h1.3M210.3 412.8h1.3M223.3 412.8h1.3M243.3 412.8h1.3M246.4 412.8h1.3M249.4 412.8h1.3M252.4 412.8h1.3M258.4 412.8h1.3M260.4 412.8h1.3M264.4 412.8h1.3M266.4 412.8h1.3M296.5 412.8h1.3M300.5 412.8h1.3M306.5 412.8h1.3M321.6 412.8h1.3M341.5 412.8h1.3M344.5 412.8h1.3M348.5 412.8h1.3M367.4 412.8h1.3M370.4 412.8h1.3M372.4 412.8h1.3M382.3 412.8h1.3M217.3 420.8h1.3M220.3 420.8h1.3M226.3 420.8h2.3M233.3 420.8h1.3M242.3 420.8h1.3M250.4 420.8h1.3M256.4 420.8h2.3M267.4 420.8h1.3M269.4 420.8h1.3M299.5 420.8h1.3M301.5 420.8h2.3M304.5 420.8h1.3M309.5 420.8h1.3M311.5 420.8h1.3M319.6 420.8h1.3M328.6 420.8h2.3M344.5 420.8h1.3M351.5 420.8h1.3M354.5 420.8h1.3M367.4 420.8h2.3M208.2 428.8h1.3M234.3 428.8h1.3M239.3 428.8h1.3M246.4 428.8h1.3M250.4 428.8h2.3M253.4 428.8h1.3M261.4 428.8h1.3M263.4 428.8h1.3M265.4 428.8h1.3M279.5 428.8h1.3M284.5 428.8h1.3M301.5 428.8h1.3M303.5 428.8h1.3M325.6 428.8h1.3M332.6 428.8h1.3M335.6 428.8h1.3M339.6 428.8h1.3M369.4 428.8h1.3M383.3 428.8h1.3M196.2 436.8h1.3M200.2 436.8h1.3M207.2 436.8h1.3M209.3 436.8h1.3M214.3 436.8h1.3M217.3 436.8h2.3M228.3 436.8h4.3M237.3 436.8h1.3M239.3 436.8h1.3M243.3 436.8h1.3M245.4 436.8h2.3M250.4 436.8h2.3M253.4 436.8h1.3M261.4 436.8h1.3M267.4 436.8h1.3M269.4 436.8h1.3M271.4 436.8h1.3M281.5 436.8h1.3M285.5 436.8h1.3M296.5 436.8h1.3M319.6 436.8h1.3M324.6 436.8h2.3M340.5 436.8h1.3M346.5 436.8h1.3M351.5 436.8h1.3M363.4 436.8h1.3M380.3 436.8h1.3M192.2 444.8h2.3M204.2 444.8h1.3M213.3 444.8h1.3M219.3 444.8h1.3M227.3 444.8h1.3M237.3 444.8h1.3M247.4 444.8h1.3M254.4 444.8h1.3M257.4 444.8h1.3M270.4 444.8h1.3M276.4 444.8h1.3M281.5 444.8h1.3M287.5 444.8h1.3M291.5 444.8h1.3M294.5 444.8h1.3M313.6 444.8h1.3M317.6 444.8h1.3M320.6 444.8h1.3M325.6 444.8h1.3M331.6 444.8h1.3M345.5 444.8h1.3M349.5 444.8h1.3M354.5 444.8h1.3M359.4 444.8h1.3M377.3 444.8h1.3M380.3 444.8h1.3M195.2 452.8h1.3M199.2 452.8h1.3M220.3 452.8h1.3M222.3 452.8h1.3M239.3 452.8h1.3M274.4 452.8h1.3M300.5 452.8h1.3M305.5 452.8h1.3M310.5 452.8h1.3M330.6 452.8h1.3M346.5 452.8h1.3M349.5 452.8h1.3M357.5 452.8h1.3M361.4 452.8h1.3M368.4 452.8h1.3M379.3 452.8h1.3M195.2 460.8h1.3M197.2 460.8h1.3M201.2 460.8h2.3M208.2 460.8h1.3M212.3 460.8h2.3M215.3 460.8h1.3M218.3 460.8h1.3M221.3 460.8h1.3M228.3 460.8h1.3M235.3 460.8h2.3M273.4 460.8h1.3M276.4 460.8h2.3M284.5 460.8h1.3M299.5 460.8h1.3M301.5 460.8h1.3M315.6 460.8h1.3M322.6 460.8h1.3M324.6 460.8h1.3M330.6 460.8h1.3M365.4 460.8h1.3M211.3 468.8h1.3M226.3 468.8h1.3M228.3 468.8h1.3M236.3 468.8h1.3M251.4 468.8h1.3M256.4 468.8h1.3M258.4 468.8h1.3M262.4 468.8h1.3M279.5 468.8h1.3M289.5 468.8h1.3M293.5 468.8h1.3M307.5 468.8h1.3M328.6 468.8h1.3M331.6 468.8h1.3M333.6 468.8h1.3M215.3 476.8h1.3M241.3 476.8h1.3M260.4 476.8h1.3M273.4 476.8h1.3M298.5 476.8h1.3M304.5 476.8h1.3M307.5 476.8h1.3M316.6 476.8h1.3M344.5 476.8h1.3M364.4 476.8h1.3M213.3 484.8h1.3M221.3 484.8h1.3M224.3 484.8h1.3M229.3 484.8h1.3M243.3 484.8h2.3M251.4 484.8h1.3M255.4 484.8h1.3M272.4 484.8h1.3M277.4 484.8h1.3M292.5 484.8h1.3M297.5 484.8h1.3M300.5 484.8h1.3M331.6 484.8h1.3M350.5 484.8h1.3M355.5 484.8h1.3M370.4 484.8h1.3M375.4 484.8h1.3M208.2 492.8h1.3M221.3 492.8h1.3M225.3 492.8h1.3M230.3 492.8h1.3M233.3 492.8h1.3M243.3 492.8h1.3M262.4 492.8h1.3M282.5 492.8h1.3M285.5 492.8h1.3M303.5 492.8h1.3M315.6 492.8h1.3M327.6 492.8h1.3M338.6 492.8h1.3M346.5 492.8h1.3M204.2 500.8h1.3M211.3 500.8h1.3M233.3 500.8h1.3M247.4 500.8h1.3M253.4 500.8h2.3M276.4 500.8h2.3M298.5 500.8h1.3M300.5 500.8h1.3M310.5 500.8h1.3M334.6 500.8h1.3M351.5 500.8h1.3M356.5 500.8h1.3M361.4 500.8h1.3M366.4 500.8h1.3M382.3 500.8h1.3M198.2 508.8h1.3M210.3 508.8h1.3M212.3 508.8h1.3M236.3 508.8h1.3M240.3 508.8h1.3M244.4 508.8h1.3M259.4 508.8h1.3M262.4 508.8h2.3M266.4 508.8h1.3M273.4 508.8h1.3M275.4 508.8h1.3M281.5 508.8h2.3M286.5 508.8h1.3M288.5 508.8h2.3M294.5 508.8h1.3M302.5 508.8h1.3M314.6 508.8h2.3M348.5 508.8h1.3M351.5 508.8h1.3M359.4 508.8h1.3M365.4 508.8h1.3M373.4 508.8h1.3M375.4 508.8h1.3M193.2 516.8h1.3M207.2 516.8h1.3M235.3 516.8h1.3M239.3 516.8h1.3M245.4 516.8h1.3M262.4 516.8h1.3M276.4 516.8h1.3M279.5 516.8h1.3M306.5 516.8h1.3M311.5 516.8h1.3M314.6 516.8h1.3M344.5 516.8h1.3M347.5 516.8h1.3M356.5 516.8h1.3M359.4 516.8h1.3M362.4 516.8h1.3M368.4 516.8h1.3M372.4 516.8h1.3M219.3 524.8h1.3M224.3 524.8h1.3M239.3 524.8h1.3M258.4 524.8h1.3M283.5 524.8h1.3M303.5 524.8h1.3M314.6 524.8h3.3M346.5 524.8h1.3"/>
<path stroke="#959fce" stroke-width="8.30" d="M193.2 404.8h1.3M349.5 412.8h1.3M375.4 436.8h1.3M293.5 452.8h1.3M380.3 476.8h1.3M290.5 524.8h1.3M320.6 524.8h1.3"/>
<path stroke="#f9c8ca" stroke-width="8.30" d="M194.2 404.8h1.3M207.2 404.8h1.3M274.4 404.8h1.3M295.5 404.8h1.3M323.6 404.8h1.3M338.6 404.8h1.3M348.5 404.8h1.3M199.2 412.8h1.3M203.2 412.8h1.3M383.3 412.8h1.3M191.2 420.8h1.3M194.2 420.8h1.3M202.2 420.8h1.3M268.4 420.8h1.3M276.4 420.8h1.3M279.5 420.8h1.3M292.5 420.8h1.3M322.6 420.8h1.3M332.6 420.8h1.3M341.5 420.8h1.3M206.2 428.8h1.3M350.5 428.8h1.3M357.5 428.8h1.3M252.4 436.8h1.3M308.5 436.8h1.3M336.6 436.8h1.3M341.5 436.8h1.3M359.4 436.8h1.3M372.4 436.8h1.3M264.4 444.8h1.3M279.5 444.8h1.3M342.5 444.8h1.3M352.5 444.8h1.3M360.4 444.8h1.3M382.3 444.8h1.3M372.4 452.8h1.3M248.4 460.8h1.3M351.5 460.8h1.3M358.4 460.8h1.3M371.4 460.8h1.3M382.3 460.8h1.3M340.5 468.8h1.3M354.5 468.8h1.3M360.4 468.8h1.3M368.4 468.8h1.3M380.3 468.8h2.3M331.6 476.8h1.3M333.6 476.8h1.3M341.5 476.8h2.3M354.5 476.8h1.3M357.5 476.8h2.3M368.4 476.8h1.3M373.4 476.8h1.3M378.3 476.8h1.3M235.3 484.8h1.3M250.4 484.8h1.3M332.6 484.8h1.3M354.5 484.8h1.3M362.4 484.8h1.3M368.4 484.8h2.3M378.3 484.8h1.3M335.6 492.8h1.3M347.5 492.8h1.3M353.5 492.8h1.3M355.5 492.8h1.3M371.4 492.8h1.3M374.4 492.8h1.3M377.3 492.8h1.3M290.5 500.8h1.3M346.5 500.8h1.3M363.4 500.8h1.3M379.3 500.8h1.3M254.4 508.8h1.3M298.5 508.8h1.3M332.6 508.8h1.3M334.6 508.8h1.3M278.5 516.8h1.3M291.5 516.8h1.3M334.6 516.8h1.3M377.3 516.8h1.3M276.4 524.8h1.3M281.5 524.8h2.3M294.5 524.8h1.3M336.6 524.8h2.3M363.4 524.8h1.3M369.4 524.8h1.3M372.4 524.8h1.3"/>
<path stroke="#e7e9f4" stroke-width="8.30" d="M196.2 404.8h1.3M232.3 404.8h1.3M235.3 404.8h2.3M240.3 404.8h1.3M245.4 404.8h1.3M285.5 404.8h1.3M293.5 404.8h1.3M303.5 404.8h1.3M324.6 404.8h1.3M354.5 404.8h1.3M363.4 404.8h2.3M205.2 412.8h1.3M229.3 412.8h1.3M268.4 412.8h1.3M271.4 412.8h2.3M302.5 412.8h1.3M317.6 412.8h1.3M331.6 412.8h2.3M336.6 412.8h1.3M360.4 412.8h1.3M200.2 420.8h1.3M213.3 420.8h1.3M215.3 420.8h1.3M235.3 420.8h1.3M255.4 420.8h1.3M262.4 420.8h1.3M285.5 420.8h1.3M347.5 420.8h1.3M361.4 420.8h1.3M370.4 420.8h1.3M382.3 420.8h1.3M227.3 428.8h1.3M236.3 428.8h1.3M249.4 428.8h1.3M256.4 428.8h1.3M259.4 428.8h1.3M269.4 428.8h1.3M290.5 428.8h1.3M292.5 428.8h1.3M300.5 428.8h1.3M306.5 428.8h1.3M316.6 428.8h1.3M346.5 428.8h1.3M381.3 428.8h1.3M191.2 436.8h1.3M193.2 436.8h1.3M201.2 436.8h2.3M224.3 436.8h1.3M234.3 436.8h1.3M240.3 436.8h1.3M258.4 436.8h1.3M286.5 436.8h1.3M302.5 436.8h1.3M327.6 436.8h2.3M335.6 436.8h1.3M337.6 436.8h1.3M191.2 444.8h1.3M261.4 444.8h1.3M293.5 444.8h1.3M295.5 444.8h1.3M309.5 444.8h1.3M324.6 444.8h1.3M330.6 444.8h1.3M200.2 452.8h1.3M204.2 452.8h1.3M253.4 452.8h1.3M262.4 452.8h2.3M273.4 452.8h1.3M284.5 452.8h1.3M292.5 452.8h1.3M308.5 452.8h1.3M311.5 452.8h1.3M323.6 452.8h1.3M326.6 452.8h1.3M192.2 460.8h1.3M200.2 460.8h1.3M214.3 460.8h1.3M225.3 460.8h1.3M230.3 460.8h1.3M237.3 460.8h1.3M243.3 460.8h1.3M246.4 460.8h1.3M271.4 460.8h1.3M291.5 460.8h1.3M296.5 460.8h1.3M302.5 460.8h1.3M307.5 460.8h1.3M312.5 460.8h1.3M319.6 460.8h1.3M331.6 460.8h1.3M348.5 460.8h1.3M194.2 468.8h1.3M201.2 468.8h1.3M214.3 468.8h1.3M259.4 468.8h1.3M272.4 468.8h1.3M277.4 468.8h1.3M282.5 468.8h1.3M295.5 468.8h1.3M300.5 468.8h1.3M303.5 468.8h1.3M319.6 468.8h1.3M322.6 468.8h1.3M196.2 476.8h1.3M213.3 476.8h1.3M226.3 476.8h1.3M239.3 476.8h1.3M243.3 476.8h1.3M258.4 476.8h1.3M264.4 476.8h1.3M275.4 476.8h1.3M283.5 476.8h1.3M287.5 476.8h1.3M290.5 476.8h1.3M295.5 476.8h1.3M306.5 476.8h1.3M308.5 476.8h1.3M319.6 476.8h1.3M321.6 476.8h1.3M324.6 476.8h1.3M327.6 476.8h1.3M329.6 476.8h1.3M195.2 484.8h1.3M198.2 484.8h1.3M201.2 484.8h1.3M219.3 484.8h1.3M231.3 484.8h1.3M236.3 484.8h1.3M238.3 484.8h1.3M248.4 484.8h1.3M253.4 484.8h2.3M262.4 484.8h1.3M273.4 484.8h1.3M286.5 484.8h1.3M299.5 484.8h1.3M301.5 484.8h1.3M305.5 484.8h1.3M308.5 484.8h1.3M314.6 484.8h1.3M366.4 484.8h1.3M197.2 492.8h2.3M200.2 492.8h1.3M211.3 492.8h1.3M217.3 492.8h1.3M226.3 492.8h1.3M236.3 492.8h1.3M248.4 492.8h2.3M258.4 492.8h1.3M267.4 492.8h1.3M269.4 492.8h1.3M272.4 492.8h1.3M288.5 492.8h1.3M292.5 492.8h1.3M295.5 492.8h1.3M297.5 492.8h1.3M306.5 492.8h1.3M309.5 492.8h1.3M312.5 492.8h1.3M200.2 500.8h1.3M203.2 500.8h1.3M214.3 500.8h1.3M222.3 500.8h2.3M229.3 500.8h2.3M232.3 500.8h1.3M243.3 500.8h1.3M282.5 500.8h1.3M285.5 500.8h1.3M303.5 500.8h1.3M325.6 500.8h1.3M342.5 500.8h1.3M194.2 508.8h1.3M197.2 508.8h1.3M208.2 508.8h1.3M217.3 508.8h1.3M222.3 508.8h1.3M247.4 508.8h1.3M252.4 508.8h1.3M256.4 508.8h1.3M276.4 508.8h2.3M284.5 508.8h1.3M295.5 508.8h1.3M305.5 508.8h1.3M311.5 508.8h1.3M345.5 508.8h1.3M213.3 516.8h1.3M228.3 516.8h1.3M232.3 516.8h1.3M252.4 516.8h1.3M267.4 516.8h1.3M277.4 516.8h1.3M280.5 516.8h1.3M292.5 516.8h1.3M318.6 516.8h1.3M364.4 516.8h1.3M366.4 516.8h1.3M380.3 516.8h1.3M201.2 524.8h1.3M208.2 524.8h1.3M216.3 524.8h1.3M222.3 524.8h1.3M229.3 524.8h1.3M246.4 524.8h1.3M248.4 524.8h1.3M256.4 524.8h1.3M259.4 524.8h1.3M261.4 524.8h1.3M266.4 524.8h1.3M272.4 524.8h1.3M274.4 524.8h1.3M285.5 524.8h1.3M302.5 524.8h1.3"/>
<path stroke="#fce4e4" stroke-width="8.30" d="M197.2 404.8h1.3M251.4 404.8h1.3M271.4 404.8h1.3M282.5 404.8h1.3M349.5 404.8h1.3M365.4 404.8h1.3M370.4 404.8h1.3M379.3 404.8h1.3M193.2 412.8h2.3M212.3 412.8h1.3M226.3 412.8h1.3M245.4 412.8h1.3M250.4 412.8h1.3M277.4 412.8h1.3M287.5 412.8h1.3M308.5 412.8h1.3M355.5 412.8h1.3M362.4 412.8h1.3M207.2 420.8h1.3M222.3 420.8h1.3M251.4 420.8h1.3M266.4 420.8h1.3M284.5 420.8h1.3M288.5 420.8h1.3M199.2 428.8h1.3M320.6 428.8h1.3M322.6 428.8h2.3M330.6 428.8h1.3M345.5 428.8h1.3M348.5 428.8h1.3M354.5 428.8h1.3M362.4 428.8h1.3M380.3 428.8h1.3M212.3 436.8h1.3M249.4 436.8h1.3M268.4 436.8h1.3M279.5 436.8h1.3M291.5 436.8h1.3M312.5 436.8h1.3M323.6 436.8h1.3M333.6 436.8h1.3M339.6 436.8h1.3M345.5 436.8h1.3M348.5 436.8h1.3M350.5 436.8h1.3M357.5 436.8h1.3M360.4 436.8h1.3M369.4 436.8h1.3M376.3 436.8h1.3M221.3 444.8h1.3M225.3 444.8h1.3M308.5 444.8h1.3M334.6 444.8h2.3M362.4 444.8h2.3M368.4 444.8h1.3M218.3 452.8h1.3M235.3 452.8h1.3M244.4 452.8h1.3M250.4 452.8h1.3M288.5 452.8h1.3M294.5 452.8h1.3M327.6 452.8h2.3M334.6 452.8h1.3M337.6 452.8h1.3M347.5 452.8h1.3M367.4 452.8h1.3M375.4 452.8h1.3M382.3 452.8h1.3M227.3 460.8h1.3M275.4 460.8h1.3M334.6 460.8h1.3M350.5 460.8h1.3M355.5 460.8h1.3M372.4 460.8h1.3M374.4 460.8h1.3M383.3 460.8h1.3M199.2 468.8h1.3M288.5 468.8h1.3M309.5 468.8h1.3M317.6 468.8h1.3M330.6 468.8h1.3M349.5 468.8h1.3M369.4 468.8h1.3M374.4 468.8h1.3M228.3 476.8h1.3M256.4 476.8h1.3M336.6 476.8h3.3M372.4 476.8h1.3M375.4 476.8h1.3M252.4 484.8h1.3M291.5 484.8h1.3M324.6 484.8h1.3M326.6 484.8h1.3M367.4 484.8h1.3M377.3 484.8h1.3M232.3 492.8h1.3M278.5 492.8h2.3M287.5 492.8h1.3M336.6 492.8h1.3M340.5 492.8h1.3M365.4 492.8h2.3M375.4 492.8h1.3M380.3 492.8h1.3M199.2 500.8h1.3M280.5 500.8h1.3M313.6 500.8h2.3M332.6 500.8h1.3M343.5 500.8h2.3M347.5 500.8h1.3M372.4 500.8h1.3M203.2 508.8h1.3M229.3 508.8h1.3M292.5 508.8h1.3M296.5 508.8h1.3M319.6 508.8h1.3M323.6 508.8h1.3M331.6 508.8h1.3M338.6 508.8h1.3M342.5 508.8h2.3M366.4 508.8h1.3M378.3 508.8h2.3M381.3 508.8h2.3M210.3 516.8h1.3M218.3 516.8h1.3M238.3 516.8h1.3M250.4 516.8h1.3M259.4 516.8h1.3M287.5 516.8h1.3M300.5 516.8h1.3M303.5 516.8h1.3M315.6 516.8h1.3M326.6 516.8h1.3M350.5 516.8h1.3M365.4 516.8h1.3M194.2 524.8h1.3M243.3 524.8h1.3M257.4 524.8h1.3M260.4 524.8h1.3M280.5 524.8h1.3M326.6 524.8h1.3M339.6 524.8h2.3M353.5 524.8h1.3M358.4 524.8h1.3M365.4 524.8h1.3M373.4 524.8h1.3M379.3 524.8h1.3M382.3 524.8h1.3"/>
<path stroke="#f7f8fb" stroke-width="8.30" d="M198.2 404.8h1.3M201.2 404.8h1.3M211.3 404.8h1.3M220.3 404.8h1.3M223.3 404.8h1.3M230.3 404.8h1.3M242.3 404.8h2.3M246.4 404.8h1.3M249.4 404.8h1.3M254.4 404.8h3.3M258.4 404.8h1.3M260.4 404.8h1.3M264.4 404.8h1.3M280.5 404.8h1.3M290.5 404.8h1.3M296.5 404.8h1.3M300.5 404.8h1.3M306.5 404.8h1.3M325.6 404.8h1.3M339.6 404.8h1.3M341.5 404.8h1.3M374.4 404.8h1.3M191.2 412.8h1.3M217.3 412.8h1.3M224.3 412.8h2.3M228.3 412.8h1.3M233.3 412.8h1.3M236.3 412.8h1.3M247.4 412.8h2.3M251.4 412.8h1.3M253.4 412.8h2.3M269.4 412.8h1.3M292.5 412.8h1.3M294.5 412.8h1.3M298.5 412.8h2.3M310.5 412.8h1.3M315.6 412.8h1.3M318.6 412.8h2.3M335.6 412.8h1.3M337.6 412.8h1.3M366.4 412.8h1.3M203.2 420.8h1.3M206.2 420.8h1.3M212.3 420.8h1.3M214.3 420.8h1.3M224.3 420.8h1.3M229.3 420.8h1.3M231.3 420.8h2.3M234.3 420.8h1.3M241.3 420.8h1.3M243.3 420.8h1.3M247.4 420.8h2.3M252.4 420.8h1.3M260.4 420.8h1.3M263.4 420.8h2.3M275.4 420.8h1.3M282.5 420.8h1.3M298.5 420.8h1.3M320.6 420.8h1.3M324.6 420.8h1.3M330.6 420.8h1.3M334.6 420.8h2.3M357.5 420.8h2.3M363.4 420.8h1.3M192.2 428.8h1.3M198.2 428.8h1.3M202.2 428.8h3.3M223.3 428.8h1.3M233.3 428.8h1.3M247.4 428.8h1.3M254.4 428.8h1.3M257.4 428.8h1.3M281.5 428.8h1.3M285.5 428.8h2.3M291.5 428.8h1.3M293.5 428.8h1.3M307.5 428.8h1.3M311.5 428.8h1.3M315.6 428.8h1.3M317.6 428.8h1.3M324.6 428.8h1.3M336.6 428.8h1.3M343.5 428.8h1.3M352.5 428.8h1.3M358.4 428.8h1.3M365.4 428.8h2.3M377.3 428.8h1.3M379.3 428.8h1.3M199.2 436.8h1.3M205.2 436.8h2.3M216.3 436.8h1.3M219.3 436.8h1.3M235.3 436.8h1.3M260.4 436.8h1.3M277.4 436.8h1.3M283.5 436.8h1.3M293.5 436.8h1.3M300.5 436.8h1.3M313.6 436.8h1.3M329.6 436.8h1.3M330.6 436.8h1.3M353.5 436.8h1.3M365.4 436.8h1.3M370.4 436.8h1.3M379.3 436.8h1.3M381.3 436.8h1.3M383.3 436.8h1.3M203.2 444.8h1.3M206.2 444.8h1.3M209.3 444.8h1.3M214.3 444.8h1.3M217.3 444.8h1.3M230.3 444.8h1.3M240.3 444.8h1.3M258.4 444.8h1.3M260.4 444.8h1.3M265.4 444.8h3.3M269.4 444.8h1.3M271.4 444.8h1.3M274.4 444.8h1.3M280.5 444.8h1.3M283.5 444.8h1.3M298.5 444.8h1.3M306.5 444.8h1.3M318.6 444.8h1.3M321.6 444.8h1.3M323.6 444.8h1.3M333.6 444.8h1.3M343.5 444.8h2.3M376.3 444.8h1.3M197.2 452.8h1.3M201.2 452.8h1.3M205.2 452.8h1.3M207.2 452.8h1.3M219.3 452.8h1.3M232.3 452.8h2.3M237.3 452.8h1.3M241.3 452.8h1.3M243.3 452.8h1.3M254.4 452.8h1.3M258.4 452.8h1.3M289.5 452.8h1.3M302.5 452.8h2.3M313.6 452.8h1.3M317.6 452.8h2.3M322.6 452.8h1.3M348.5 452.8h1.3M362.4 452.8h1.3M217.3 460.8h1.3M220.3 460.8h1.3M249.4 460.8h1.3M261.4 460.8h1.3M266.4 460.8h1.3M272.4 460.8h1.3M274.4 460.8h1.3M282.5 460.8h1.3M289.5 460.8h2.3M309.5 460.8h1.3M317.6 460.8h2.3M197.2 468.8h2.3M202.2 468.8h2.3M207.2 468.8h1.3M209.3 468.8h2.3M215.3 468.8h1.3M217.3 468.8h3.3M222.3 468.8h2.3M235.3 468.8h1.3M237.3 468.8h2.3M244.4 468.8h1.3M252.4 468.8h1.3M260.4 468.8h2.3M265.4 468.8h1.3M268.4 468.8h2.3M280.5 468.8h1.3M283.5 468.8h1.3M290.5 468.8h1.3M301.5 468.8h2.3M311.5 468.8h1.3M313.6 468.8h1.3M321.6 468.8h1.3M337.6 468.8h1.3M191.2 476.8h3.3M202.2 476.8h1.3M205.2 476.8h1.3M210.3 476.8h1.3M212.3 476.8h1.3M216.3 476.8h1.3M218.3 476.8h2.3M221.3 476.8h1.3M224.3 476.8h2.3M249.4 476.8h3.3M253.4 476.8h2.3M263.4 476.8h1.3M267.4 476.8h2.3M271.4 476.8h1.3M278.5 476.8h2.3M285.5 476.8h2.3M291.5 476.8h2.3M297.5 476.8h1.3M299.5 476.8h2.3M302.5 476.8h2.3M305.5 476.8h1.3M310.5 476.8h1.3M314.6 476.8h1.3M317.6 476.8h1.3M322.6 476.8h1.3M326.6 476.8h1.3M365.4 476.8h1.3M191.2 484.8h1.3M199.2 484.8h1.3M207.2 484.8h1.3M216.3 484.8h1.3M225.3 484.8h2.3M228.3 484.8h1.3M232.3 484.8h1.3M242.3 484.8h1.3M247.4 484.8h1.3M265.4 484.8h1.3M269.4 484.8h2.3M279.5 484.8h1.3M281.5 484.8h1.3M285.5 484.8h1.3M287.5 484.8h1.3M293.5 484.8h2.3M306.5 484.8h1.3M311.5 484.8h1.3M313.6 484.8h1.3M319.6 484.8h2.3M323.6 484.8h1.3M327.6 484.8h1.3M340.5 484.8h1.3M346.5 484.8h1.3M352.5 484.8h1.3M356.5 484.8h1.3M195.2 492.8h1.3M204.2 492.8h1.3M218.3 492.8h1.3M227.3 492.8h1.3M234.3 492.8h1.3M241.3 492.8h2.3M245.4 492.8h1.3M252.4 492.8h1.3M276.4 492.8h1.3M281.5 492.8h1.3M286.5 492.8h1.3M293.5 492.8h1.3M299.5 492.8h1.3M308.5 492.8h1.3M320.6 492.8h3.3M325.6 492.8h1.3M328.6 492.8h1.3M201.2 500.8h1.3M205.2 500.8h1.3M216.3 500.8h1.3M221.3 500.8h1.3M236.3 500.8h1.3M239.3 500.8h1.3M242.3 500.8h1.3M250.4 500.8h2.3M268.4 500.8h1.3M271.4 500.8h1.3M273.4 500.8h1.3M286.5 500.8h2.3M292.5 500.8h1.3M316.6 500.8h1.3M320.6 500.8h1.3M326.6 500.8h2.3M337.6 500.8h1.3M350.5 500.8h1.3M192.2 508.8h2.3M211.3 508.8h1.3M214.3 508.8h1.3M223.3 508.8h3.3M228.3 508.8h1.3M234.3 508.8h1.3M237.3 508.8h1.3M257.4 508.8h1.3M301.5 508.8h1.3M309.5 508.8h1.3M312.5 508.8h1.3M321.6 508.8h1.3M328.6 508.8h1.3M340.5 508.8h1.3M357.5 508.8h1.3M370.4 508.8h1.3M196.2 516.8h2.3M199.2 516.8h1.3M203.2 516.8h1.3M209.3 516.8h1.3M219.3 516.8h1.3M224.3 516.8h1.3M234.3 516.8h1.3M249.4 516.8h1.3M266.4 516.8h1.3M273.4 516.8h1.3M323.6 516.8h1.3M331.6 516.8h2.3M337.6 516.8h1.3M342.5 516.8h1.3M354.5 516.8h1.3M361.4 516.8h1.3M381.3 516.8h1.3M193.2 524.8h1.3M197.2 524.8h1.3M199.2 524.8h1.3M203.2 524.8h2.3M206.2 524.8h1.3M212.3 524.8h1.3M217.3 524.8h1.3M221.3 524.8h1.3M245.4 524.8h1.3M250.4 524.8h1.3M264.4 524.8h1.3M271.4 524.8h1.3M278.5 524.8h1.3M295.5 524.8h1.3M327.6 524.8h3.3M347.5 524.8h1.3M357.5 524.8h1.3M368.4 524.8h1.3"/>
<path stroke="#eff0f8" stroke-width="8.30" d="M199.2 404.8h1.3M204.2 404.8h1.3M215.3 404.8h1.3M224.3 404.8h1.3M226.3 404.8h1.3M229.3 404.8h1.3M233.3 404.8h1.3M247.4 404.8h1.3M269.4 404.8h1.3M277.4 404.8h2.3M298.5 404.8h1.3M302.5 404.8h1.3M322.6 404.8h1.3M347.5 404.8h1.3M373.4 404.8h1.3M380.3 404.8h1.3M195.2 412.8h1.3M214.3 412.8h1.3M231.3 412.8h1.3M237.3 412.8h1.3M267.4 412.8h1.3M274.4 412.8h1.3M293.5 412.8h1.3M295.5 412.8h1.3M301.5 412.8h1.3M307.5 412.8h1.3M314.6 412.8h1.3M316.6 412.8h1.3M320.6 412.8h1.3M325.6 412.8h1.3M365.4 412.8h1.3M376.3 412.8h1.3M379.3 412.8h1.3M195.2 420.8h2.3M204.2 420.8h1.3M236.3 420.8h1.3M240.3 420.8h1.3M281.5 420.8h1.3M286.5 420.8h1.3M291.5 420.8h1.3M293.5 420.8h1.3M300.5 420.8h1.3M303.5 420.8h1.3M306.5 420.8h2.3M310.5 420.8h1.3M333.6 420.8h1.3M336.6 420.8h1.3M356.5 420.8h1.3M381.3 420.8h1.3M193.2 428.8h1.3M201.2 428.8h1.3M214.3 428.8h1.3M217.3 428.8h1.3M220.3 428.8h1.3M222.3 428.8h1.3M238.3 428.8h1.3M244.4 428.8h1.3M264.4 428.8h1.3M267.4 428.8h1.3M272.4 428.8h1.3M276.4 428.8h1.3M278.5 428.8h1.3M288.5 428.8h1.3M298.5 428.8h2.3M302.5 428.8h1.3M304.5 428.8h2.3M308.5 428.8h2.3M319.6 428.8h1.3M329.6 428.8h1.3M331.6 428.8h1.3M376.3 428.8h1.3M197.2 436.8h2.3M210.3 436.8h1.3M233.3 436.8h1.3M238.3 436.8h1.3M255.4 436.8h1.3M263.4 436.8h2.3M266.4 436.8h1.3M282.5 436.8h1.3M284.5 436.8h1.3M287.5 436.8h1.3M290.5 436.8h1.3M292.5 436.8h1.3M297.5 436.8h2.3M303.5 436.8h1.3M318.6 436.8h1.3M320.6 436.8h1.3M322.6 436.8h1.3M342.5 436.8h1.3M371.4 436.8h1.3M374.4 436.8h1.3M378.3 436.8h1.3M207.2 444.8h1.3M215.3 444.8h1.3M218.3 444.8h1.3M222.3 444.8h2.3M228.3 444.8h2.3M234.3 444.8h1.3M244.4 444.8h1.3M249.4 444.8h1.3M251.4 444.8h2.3M256.4 444.8h1.3M272.4 444.8h2.3M278.5 444.8h1.3M290.5 444.8h1.3M292.5 444.8h1.3M299.5 444.8h1.3M310.5 444.8h1.3M326.6 444.8h1.3M329.6 444.8h1.3M351.5 444.8h1.3M353.5 444.8h1.3M364.4 444.8h1.3M378.3 444.8h1.3M202.2 452.8h1.3M223.3 452.8h2.3M229.3 452.8h1.3M240.3 452.8h1.3M245.4 452.8h1.3M252.4 452.8h1.3M257.4 452.8h1.3M266.4 452.8h2.3M276.4 452.8h1.3M291.5 452.8h1.3M301.5 452.8h1.3M316.6 452.8h1.3M320.6 452.8h1.3M325.6 452.8h1.3M332.6 452.8h1.3M198.2 460.8h1.3M226.3 460.8h1.3M234.3 460.8h1.3M263.4 460.8h2.3M267.4 460.8h1.3M280.5 460.8h1.3M294.5 460.8h2.3M300.5 460.8h1.3M313.6 460.8h1.3M321.6 460.8h1.3M332.6 460.8h1.3M336.6 460.8h1.3M346.5 460.8h1.3M195.2 468.8h2.3M216.3 468.8h1.3M224.3 468.8h1.3M227.3 468.8h1.3M231.3 468.8h1.3M239.3 468.8h1.3M249.4 468.8h1.3M253.4 468.8h2.3M257.4 468.8h1.3M263.4 468.8h1.3M267.4 468.8h1.3M271.4 468.8h1.3M274.4 468.8h1.3M292.5 468.8h1.3M298.5 468.8h2.3M304.5 468.8h1.3M306.5 468.8h1.3M315.6 468.8h1.3M324.6 468.8h1.3M342.5 468.8h1.3M200.2 476.8h1.3M203.2 476.8h1.3M208.2 476.8h2.3M214.3 476.8h1.3M217.3 476.8h1.3M227.3 476.8h1.3M229.3 476.8h1.3M231.3 476.8h1.3M234.3 476.8h1.3M237.3 476.8h1.3M240.3 476.8h1.3M242.3 476.8h1.3M245.4 476.8h1.3M248.4 476.8h1.3M252.4 476.8h1.3M255.4 476.8h1.3M262.4 476.8h1.3M265.4 476.8h2.3M269.4 476.8h1.3M274.4 476.8h1.3M276.4 476.8h2.3M280.5 476.8h3.3M284.5 476.8h1.3M288.5 476.8h2.3M296.5 476.8h1.3M301.5 476.8h1.3M309.5 476.8h1.3M311.5 476.8h1.3M315.6 476.8h1.3M320.6 476.8h1.3M323.6 476.8h1.3M325.6 476.8h1.3M193.2 484.8h1.3M206.2 484.8h1.3M208.2 484.8h1.3M210.3 484.8h1.3M212.3 484.8h1.3M217.3 484.8h2.3M245.4 484.8h1.3M249.4 484.8h1.3M256.4 484.8h2.3M266.4 484.8h1.3M271.4 484.8h1.3M302.5 484.8h1.3M304.5 484.8h1.3M312.5 484.8h1.3M318.6 484.8h1.3M321.6 484.8h1.3M358.4 484.8h1.3M193.2 492.8h1.3M199.2 492.8h1.3M201.2 492.8h1.3M203.2 492.8h1.3M210.3 492.8h1.3M213.3 492.8h1.3M223.3 492.8h1.3M228.3 492.8h2.3M238.3 492.8h1.3M253.4 492.8h1.3M259.4 492.8h1.3M270.4 492.8h1.3M273.4 492.8h1.3M275.4 492.8h1.3M280.5 492.8h1.3M283.5 492.8h1.3M301.5 492.8h1.3M304.5 492.8h1.3M310.5 492.8h1.3M191.2 500.8h1.3M195.2 500.8h2.3M209.3 500.8h2.3M213.3 500.8h1.3M215.3 500.8h1.3M235.3 500.8h1.3M240.3 500.8h1.3M244.4 500.8h1.3M249.4 500.8h1.3M257.4 500.8h1.3M263.4 500.8h1.3M267.4 500.8h1.3M274.4 500.8h1.3M279.5 500.8h1.3M289.5 500.8h1.3M291.5 500.8h1.3M294.5 500.8h1.3M296.5 500.8h2.3M305.5 500.8h1.3M308.5 500.8h1.3M312.5 500.8h1.3M315.6 500.8h1.3M318.6 500.8h1.3M321.6 500.8h2.3M348.5 500.8h1.3M354.5 500.8h1.3M378.3 500.8h1.3M202.2 508.8h1.3M207.2 508.8h1.3M215.3 508.8h1.3M221.3 508.8h1.3M227.3 508.8h1.3M233.3 508.8h1.3M242.3 508.8h1.3M245.4 508.8h1.3M253.4 508.8h1.3M255.4 508.8h1.3M267.4 508.8h2.3M274.4 508.8h1.3M290.5 508.8h1.3M306.5 508.8h1.3M333.6 508.8h1.3M352.5 508.8h1.3M360.4 508.8h1.3M362.4 508.8h1.3M367.4 508.8h1.3M192.2 516.8h1.3M200.2 516.8h1.3M230.3 516.8h1.3M272.4 516.8h1.3M284.5 516.8h1.3M286.5 516.8h1.3M289.5 516.8h2.3M316.6 516.8h1.3M319.6 516.8h1.3M329.6 516.8h1.3M339.6 516.8h1.3M343.5 516.8h1.3M352.5 516.8h1.3M360.4 516.8h1.3M375.4 516.8h1.3M192.2 524.8h1.3M205.2 524.8h1.3M215.3 524.8h1.3M234.3 524.8h1.3M237.3 524.8h2.3M241.3 524.8h1.3M244.4 524.8h1.3M247.4 524.8h1.3M273.4 524.8h1.3M277.4 524.8h1.3M279.5 524.8h1.3M289.5 524.8h1.3M292.5 524.8h1.3M309.5 524.8h1.3M362.4 524.8h1.3"/>
<path stroke="#ffffff" stroke-width="8.30" d="M200.2 404.8h1.3M205.2 404.8h1.3M213.3 404.8h1.3M219.3 404.8h1.3M225.3 404.8h1.3M237.3 404.8h1.3M239.3 404.8h1.3M241.3 404.8h1.3M244.4 404.8h1.3M250.4 404.8h1.3M252.4 404.8h1.3M266.4 404.8h1.3M273.4 404.8h1.3M281.5 404.8h1.3M283.5 404.8h2.3M294.5 404.8h1.3M297.5 404.8h1.3M301.5 404.8h1.3M307.5 404.8h1.3M309.5 404.8h1.3M312.5 404.8h2.3M315.6 404.8h1.3M335.6 404.8h1.3M337.6 404.8h1.3M381.3 404.8h1.3M196.2 412.8h1.3M206.2 412.8h1.3M218.3 412.8h1.3M222.3 412.8h1.3M232.3 412.8h1.3M265.4 412.8h1.3M283.5 412.8h3.3M290.5 412.8h2.3M297.5 412.8h1.3M311.5 412.8h1.3M322.6 412.8h1.3M330.6 412.8h1.3M343.5 412.8h1.3M352.5 412.8h1.3M358.4 412.8h1.3M361.4 412.8h1.3M363.4 412.8h1.3M373.4 412.8h1.3M198.2 420.8h1.3M210.3 420.8h1.3M225.3 420.8h1.3M230.3 420.8h1.3M237.3 420.8h1.3M239.3 420.8h1.3M244.4 420.8h2.3M254.4 420.8h1.3M261.4 420.8h1.3M277.4 420.8h1.3M290.5 420.8h1.3M315.6 420.8h1.3M325.6 420.8h1.3M331.6 420.8h1.3M345.5 420.8h1.3M349.5 420.8h1.3M360.4 420.8h1.3M377.3 420.8h1.3M379.3 420.8h1.3M195.2 428.8h1.3M200.2 428.8h1.3M210.3 428.8h2.3M213.3 428.8h1.3M226.3 428.8h1.3M228.3 428.8h2.3M232.3 428.8h1.3M241.3 428.8h1.3M243.3 428.8h1.3M248.4 428.8h1.3M258.4 428.8h1.3M268.4 428.8h1.3M271.4 428.8h1.3M283.5 428.8h1.3M296.5 428.8h1.3M318.6 428.8h1.3M326.6 428.8h1.3M328.6 428.8h1.3M347.5 428.8h1.3M353.5 428.8h1.3M371.4 428.8h1.3M374.4 428.8h1.3M192.2 436.8h1.3M194.2 436.8h2.3M225.3 436.8h1.3M242.3 436.8h1.3M244.4 436.8h1.3M254.4 436.8h1.3M256.4 436.8h2.3M259.4 436.8h1.3M270.4 436.8h1.3M276.4 436.8h1.3M280.5 436.8h1.3M304.5 436.8h3.3M309.5 436.8h1.3M311.5 436.8h1.3M316.6 436.8h1.3M352.5 436.8h1.3M361.4 436.8h1.3M373.4 436.8h1.3M377.3 436.8h1.3M198.2 444.8h1.3M201.2 444.8h2.3M205.2 444.8h1.3M208.2 444.8h1.3M232.3 444.8h1.3M235.3 444.8h1.3M239.3 444.8h1.3M242.3 444.8h1.3M246.4 444.8h1.3M248.4 444.8h1.3M259.4 444.8h1.3M262.4 444.8h2.3M268.4 444.8h1.3M277.4 444.8h1.3M286.5 444.8h1.3M300.5 444.8h1.3M307.5 444.8h1.3M327.6 444.8h1.3M350.5 444.8h1.3M192.2 452.8h1.3M211.3 452.8h1.3M213.3 452.8h1.3M215.3 452.8h1.3M234.3 452.8h1.3M238.3 452.8h1.3M246.4 452.8h1.3M248.4 452.8h1.3M269.4 452.8h1.3M271.4 452.8h2.3M282.5 452.8h1.3M285.5 452.8h1.3M295.5 452.8h1.3M309.5 452.8h1.3M354.5 452.8h1.3M199.2 460.8h1.3M206.2 460.8h1.3M232.3 460.8h2.3M240.3 460.8h2.3M244.4 460.8h1.3M251.4 460.8h1.3M255.4 460.8h1.3M257.4 460.8h1.3M259.4 460.8h1.3M262.4 460.8h1.3M268.4 460.8h2.3M278.5 460.8h1.3M287.5 460.8h1.3M305.5 460.8h1.3M308.5 460.8h1.3M320.6 460.8h1.3M326.6 460.8h1.3M328.6 460.8h1.3M335.6 460.8h1.3M339.6 460.8h1.3M191.2 468.8h1.3M193.2 468.8h1.3M200.2 468.8h1.3M206.2 468.8h1.3M208.2 468.8h1.3M213.3 468.8h1.3M225.3 468.8h1.3M232.3 468.8h3.3M241.3 468.8h1.3M250.4 468.8h1.3M255.4 468.8h1.3M264.4 468.8h1.3M266.4 468.8h1.3M273.4 468.8h1.3M276.4 468.8h1.3M284.5 468.8h1.3M286.5 468.8h1.3M291.5 468.8h1.3M296.5 468.8h1.3M312.5 468.8h1.3M323.6 468.8h1.3M329.6 468.8h1.3M346.5 468.8h1.3M351.5 468.8h1.3M194.2 476.8h2.3M198.2 476.8h2.3M201.2 476.8h1.3M204.2 476.8h1.3M207.2 476.8h1.3M211.3 476.8h1.3M230.3 476.8h1.3M232.3 476.8h1.3M236.3 476.8h1.3M238.3 476.8h1.3M247.4 476.8h1.3M270.4 476.8h1.3M272.4 476.8h1.3M293.5 476.8h2.3M312.5 476.8h2.3M318.6 476.8h1.3M328.6 476.8h1.3M352.5 476.8h1.3M370.4 476.8h1.3M379.3 476.8h1.3M192.2 484.8h1.3M202.2 484.8h2.3M227.3 484.8h1.3M237.3 484.8h1.3M264.4 484.8h1.3M268.4 484.8h1.3M275.4 484.8h1.3M290.5 484.8h1.3M298.5 484.8h1.3M307.5 484.8h1.3M317.6 484.8h1.3M322.6 484.8h1.3M325.6 484.8h1.3M337.6 484.8h1.3M342.5 484.8h1.3M344.5 484.8h1.3M359.4 484.8h1.3M361.4 484.8h1.3M372.4 484.8h1.3M382.3 484.8h1.3M196.2 492.8h1.3M206.2 492.8h1.3M209.3 492.8h1.3M212.3 492.8h1.3M216.3 492.8h1.3M219.3 492.8h1.3M224.3 492.8h1.3M247.4 492.8h1.3M250.4 492.8h2.3M255.4 492.8h1.3M260.4 492.8h1.3M264.4 492.8h1.3M268.4 492.8h1.3M271.4 492.8h1.3M290.5 492.8h2.3M294.5 492.8h1.3M329.6 492.8h1.3M344.5 492.8h1.3M348.5 492.8h1.3M367.4 492.8h1.3M370.4 492.8h1.3M194.2 500.8h1.3M197.2 500.8h1.3M207.2 500.8h1.3M212.3 500.8h1.3M217.3 500.8h1.3M219.3 500.8h2.3M225.3 500.8h1.3M228.3 500.8h1.3M238.3 500.8h1.3M248.4 500.8h1.3M262.4 500.8h1.3M269.4 500.8h1.3M278.5 500.8h1.3M295.5 500.8h1.3M328.6 500.8h1.3M341.5 500.8h1.3M199.2 508.8h3.3M204.2 508.8h1.3M206.2 508.8h1.3M218.3 508.8h2.3M231.3 508.8h1.3M235.3 508.8h1.3M239.3 508.8h1.3M249.4 508.8h1.3M258.4 508.8h1.3M261.4 508.8h1.3M269.4 508.8h1.3M271.4 508.8h1.3M279.5 508.8h1.3M285.5 508.8h1.3M291.5 508.8h1.3M297.5 508.8h1.3M299.5 508.8h1.3M303.5 508.8h1.3M310.5 508.8h1.3M341.5 508.8h1.3M347.5 508.8h1.3M363.4 508.8h1.3M368.4 508.8h2.3M374.4 508.8h1.3M383.3 508.8h1.3M194.2 516.8h2.3M201.2 516.8h1.3M206.2 516.8h1.3M208.2 516.8h1.3M216.3 516.8h1.3M220.3 516.8h1.3M225.3 516.8h1.3M227.3 516.8h1.3M236.3 516.8h2.3M241.3 516.8h1.3M244.4 516.8h1.3M257.4 516.8h1.3M281.5 516.8h3.3M285.5 516.8h1.3M296.5 516.8h1.3M298.5 516.8h1.3M301.5 516.8h1.3M304.5 516.8h1.3M312.5 516.8h1.3M324.6 516.8h1.3M335.6 516.8h1.3M346.5 516.8h1.3M357.5 516.8h1.3M378.3 516.8h1.3M382.3 516.8h1.3M200.2 524.8h1.3M232.3 524.8h2.3M251.4 524.8h1.3M254.4 524.8h1.3M270.4 524.8h1.3M291.5 524.8h1.3M293.5 524.8h1.3M304.5 524.8h1.3M323.6 524.8h1.3M348.5 524.8h2.3M352.5 524.8h1.3M359.4 524.8h1.3M366.4 524.8h1.3"/>
<path stroke="#d6daec" stroke-width="8.30" d="M202.2 404.8h1.3M209.3 404.8h2.3M214.3 404.8h1.3M216.3 404.8h1.3M234.3 404.8h1.3M238.3 404.8h1.3M304.5 404.8h1.3M310.5 404.8h1.3M318.6 404.8h1.3M352.5 404.8h1.3M198.2 412.8h1.3M221.3 412.8h1.3M241.3 412.8h1.3M244.4 412.8h1.3M261.4 412.8h1.3M270.4 412.8h1.3M286.5 412.8h1.3M339.6 412.8h1.3M368.4 412.8h1.3M377.3 412.8h1.3M199.2 420.8h1.3M287.5 420.8h1.3M327.6 420.8h1.3M337.6 420.8h1.3M350.5 420.8h1.3M355.5 420.8h1.3M205.2 428.8h1.3M216.3 428.8h1.3M221.3 428.8h1.3M262.4 428.8h1.3M270.4 428.8h1.3M274.4 428.8h1.3M277.4 428.8h1.3M368.4 428.8h1.3M232.3 436.8h1.3M288.5 436.8h1.3M331.6 436.8h1.3M368.4 436.8h1.3M197.2 444.8h1.3M250.4 444.8h1.3M282.5 444.8h1.3M312.5 444.8h1.3M315.6 444.8h1.3M209.3 452.8h1.3M212.3 452.8h1.3M217.3 452.8h1.3M225.3 452.8h1.3M242.3 452.8h1.3M312.5 452.8h1.3M209.3 460.8h1.3M242.3 460.8h1.3M260.4 460.8h1.3M285.5 460.8h1.3M288.5 460.8h1.3M292.5 460.8h1.3M298.5 460.8h1.3M379.3 460.8h1.3M204.2 468.8h2.3M275.4 468.8h1.3M297.5 468.8h1.3M310.5 468.8h1.3M327.6 468.8h1.3M204.2 484.8h1.3M215.3 484.8h1.3M222.3 484.8h2.3M233.3 484.8h1.3M240.3 484.8h1.3M246.4 484.8h1.3M260.4 484.8h2.3M283.5 484.8h2.3M295.5 484.8h1.3M373.4 484.8h1.3M191.2 492.8h1.3M194.2 492.8h1.3M222.3 492.8h1.3M237.3 492.8h1.3M300.5 492.8h1.3M307.5 492.8h1.3M361.4 492.8h1.3M381.3 492.8h1.3M226.3 500.8h1.3M231.3 500.8h1.3M234.3 500.8h1.3M246.4 500.8h1.3M265.4 500.8h1.3M270.4 500.8h1.3M302.5 500.8h1.3M317.6 500.8h1.3M323.6 500.8h1.3M329.6 500.8h1.3M209.3 508.8h1.3M251.4 508.8h1.3M270.4 508.8h1.3M287.5 508.8h1.3M304.5 508.8h1.3M307.5 508.8h1.3M313.6 508.8h1.3M316.6 508.8h1.3M326.6 508.8h1.3M202.2 516.8h1.3M211.3 516.8h1.3M242.3 516.8h1.3M263.4 516.8h1.3M320.6 516.8h1.3M336.6 516.8h1.3M353.5 516.8h1.3M355.5 516.8h1.3M367.4 516.8h1.3M209.3 524.8h1.3M298.5 524.8h1.3M300.5 524.8h1.3M310.5 524.8h1.3M321.6 524.8h1.3M378.3 524.8h1.3"/>
<path stroke="#fad1d3" stroke-width="8.30" d="M206.2 404.8h1.3M263.4 404.8h1.3M291.5 404.8h1.3M336.6 404.8h1.3M350.5 404.8h1.3M211.3 412.8h1.3M230.3 412.8h1.3M275.4 412.8h1.3M281.5 412.8h2.3M303.5 412.8h1.3M313.6 412.8h1.3M329.6 412.8h1.3M359.4 412.8h1.3M364.4 412.8h1.3M223.3 420.8h1.3M289.5 420.8h1.3M321.6 420.8h1.3M333.6 428.8h1.3M215.3 436.8h1.3M265.4 436.8h1.3M334.6 436.8h1.3M344.5 436.8h1.3M355.5 436.8h1.3M364.4 436.8h1.3M366.4 436.8h1.3M233.3 444.8h1.3M303.5 444.8h1.3M347.5 444.8h1.3M369.4 444.8h1.3M371.4 444.8h1.3M206.2 452.8h1.3M260.4 452.8h1.3M296.5 452.8h1.3M344.5 452.8h1.3M350.5 452.8h1.3M356.5 452.8h1.3M371.4 452.8h1.3M373.4 452.8h2.3M376.3 452.8h1.3M207.2 460.8h1.3M231.3 460.8h1.3M333.6 460.8h1.3M343.5 460.8h1.3M347.5 460.8h1.3M354.5 460.8h1.3M360.4 460.8h1.3M362.4 460.8h1.3M369.4 460.8h1.3M377.3 460.8h1.3M380.3 460.8h2.3M325.6 468.8h1.3M334.6 468.8h1.3M357.5 468.8h1.3M372.4 468.8h1.3M376.3 468.8h1.3M379.3 468.8h1.3M343.5 476.8h1.3M355.5 476.8h1.3M363.4 476.8h1.3M369.4 476.8h1.3M371.4 476.8h1.3M374.4 476.8h1.3M334.6 484.8h1.3M341.5 484.8h1.3M357.5 484.8h1.3M365.4 484.8h1.3M379.3 484.8h2.3M341.5 492.8h1.3M358.4 492.8h1.3M206.2 500.8h1.3M208.2 500.8h1.3M330.6 500.8h2.3M333.6 500.8h1.3M345.5 500.8h1.3M359.4 500.8h2.3M365.4 500.8h1.3M374.4 500.8h2.3M238.3 508.8h1.3M248.4 508.8h1.3M272.4 508.8h1.3M346.5 508.8h1.3M355.5 508.8h1.3M358.4 508.8h1.3M364.4 508.8h1.3M380.3 508.8h1.3M231.3 516.8h1.3M246.4 516.8h1.3M265.4 516.8h1.3M313.6 516.8h1.3M225.3 524.8h1.3M311.5 524.8h1.3M371.4 524.8h1.3M374.4 524.8h1.3"/>
<path stroke="#bec4e1" stroke-width="8.30" d="M208.2 404.8h1.3M218.3 404.8h1.3M267.4 404.8h1.3M305.5 404.8h1.3M316.6 404.8h1.3M240.3 412.8h1.3M371.4 420.8h1.3M376.3 420.8h1.3M347.5 436.8h1.3M314.6 444.8h1.3M328.6 444.8h1.3M332.6 444.8h1.3M226.3 452.8h1.3M259.4 452.8h1.3M279.5 452.8h1.3M307.5 452.8h1.3M194.2 460.8h1.3M310.5 460.8h1.3M220.3 484.8h1.3M310.5 484.8h1.3M364.4 484.8h1.3M306.5 500.8h1.3M327.6 508.8h1.3M243.3 516.8h1.3M275.4 516.8h1.3M330.6 516.8h1.3M230.3 524.8h1.3M296.5 524.8h1.3M307.5 524.8h1.3"/>
<path stroke="#f7b6b8" stroke-width="8.30" d="M212.3 404.8h1.3M327.6 404.8h1.3M355.5 404.8h1.3M383.3 404.8h1.3M297.5 420.8h1.3M380.3 420.8h1.3M245.4 444.8h1.3M348.5 444.8h1.3M379.3 444.8h1.3M381.3 444.8h1.3M210.3 452.8h1.3M345.5 452.8h1.3M358.4 452.8h1.3M360.4 452.8h1.3M335.6 468.8h1.3M341.5 468.8h1.3M352.5 468.8h1.3M355.5 468.8h1.3M363.4 468.8h1.3M370.4 468.8h1.3M353.5 476.8h1.3M376.3 476.8h2.3M381.3 476.8h1.3M348.5 484.8h1.3M351.5 484.8h1.3M360.4 484.8h1.3M381.3 484.8h1.3M339.6 492.8h1.3M349.5 492.8h1.3M363.4 492.8h1.3M372.4 492.8h1.3M383.3 492.8h1.3M368.4 500.8h1.3M195.2 508.8h1.3M233.3 516.8h1.3M324.6 524.8h1.3M345.5 524.8h1.3M350.5 524.8h1.3M361.4 524.8h1.3M376.3 524.8h1.3"/>
<path stroke="#dee2f0" stroke-width="8.30" d="M217.3 404.8h1.3M279.5 404.8h1.3M292.5 404.8h1.3M308.5 404.8h1.3M314.6 404.8h1.3M328.6 404.8h1.3M333.6 404.8h1.3M343.5 404.8h1.3M371.4 404.8h1.3M375.4 404.8h1.3M200.2 412.8h1.3M238.3 412.8h1.3M242.3 412.8h1.3M255.4 412.8h1.3M263.4 412.8h1.3M304.5 412.8h1.3M347.5 412.8h1.3M356.5 412.8h1.3M369.4 412.8h1.3M378.3 412.8h1.3M192.2 420.8h2.3M197.2 420.8h1.3M205.2 420.8h1.3M209.3 420.8h1.3M211.3 420.8h1.3M219.3 420.8h1.3M270.4 420.8h1.3M274.4 420.8h1.3M296.5 420.8h1.3M305.5 420.8h1.3M326.6 420.8h1.3M374.4 420.8h1.3M191.2 428.8h1.3M194.2 428.8h1.3M197.2 428.8h1.3M207.2 428.8h1.3M215.3 428.8h1.3M260.4 428.8h1.3M273.4 428.8h1.3M282.5 428.8h1.3M312.5 428.8h2.3M321.6 428.8h1.3M344.5 428.8h1.3M359.4 428.8h1.3M382.3 428.8h1.3M208.2 436.8h1.3M220.3 436.8h2.3M226.3 436.8h1.3M262.4 436.8h1.3M273.4 436.8h1.3M289.5 436.8h1.3M295.5 436.8h1.3M326.6 436.8h1.3M354.5 436.8h1.3M194.2 444.8h1.3M212.3 444.8h1.3M220.3 444.8h1.3M226.3 444.8h1.3M243.3 444.8h1.3M253.4 444.8h1.3M284.5 444.8h1.3M297.5 444.8h1.3M304.5 444.8h2.3M311.5 444.8h1.3M319.6 444.8h1.3M339.6 444.8h1.3M203.2 452.8h1.3M216.3 452.8h1.3M221.3 452.8h1.3M236.3 452.8h1.3M247.4 452.8h1.3M249.4 452.8h1.3M251.4 452.8h1.3M278.5 452.8h1.3M315.6 452.8h1.3M319.6 452.8h1.3M324.6 452.8h1.3M204.2 460.8h1.3M211.3 460.8h1.3M219.3 460.8h1.3M238.3 460.8h2.3M245.4 460.8h1.3M252.4 460.8h1.3M283.5 460.8h1.3M303.5 460.8h1.3M311.5 460.8h1.3M314.6 460.8h1.3M323.6 460.8h1.3M327.6 460.8h1.3M329.6 460.8h1.3M243.3 468.8h1.3M245.4 468.8h1.3M294.5 468.8h1.3M305.5 468.8h1.3M308.5 468.8h1.3M318.6 468.8h1.3M206.2 476.8h1.3M220.3 476.8h1.3M223.3 476.8h1.3M235.3 476.8h1.3M246.4 476.8h1.3M257.4 476.8h1.3M194.2 484.8h1.3M211.3 484.8h1.3M241.3 484.8h1.3M258.4 484.8h1.3M274.4 484.8h1.3M276.4 484.8h1.3M282.5 484.8h1.3M192.2 492.8h1.3M231.3 492.8h1.3M240.3 492.8h1.3M263.4 492.8h1.3M265.4 492.8h2.3M277.4 492.8h1.3M284.5 492.8h1.3M296.5 492.8h1.3M305.5 492.8h1.3M311.5 492.8h1.3M237.3 500.8h1.3M245.4 500.8h1.3M256.4 500.8h1.3M275.4 500.8h1.3M293.5 500.8h1.3M319.6 500.8h1.3M324.6 500.8h1.3M369.4 500.8h1.3M205.2 508.8h1.3M213.3 508.8h1.3M232.3 508.8h1.3M260.4 508.8h1.3M308.5 508.8h1.3M324.6 508.8h1.3M217.3 516.8h1.3M222.3 516.8h2.3M226.3 516.8h1.3M248.4 516.8h1.3M251.4 516.8h1.3M253.4 516.8h1.3M255.4 516.8h1.3M269.4 516.8h1.3M274.4 516.8h1.3M295.5 516.8h1.3M307.5 516.8h1.3M325.6 516.8h1.3M349.5 516.8h1.3M373.4 516.8h1.3M227.3 524.8h1.3M249.4 524.8h1.3M255.4 524.8h1.3M262.4 524.8h1.3M269.4 524.8h1.3M297.5 524.8h1.3M305.5 524.8h1.3M381.3 524.8h1.3"/>
<path stroke="#ced3e8" stroke-width="8.30" d="M231.3 404.8h1.3M259.4 404.8h1.3M272.4 404.8h1.3M275.4 404.8h2.3M287.5 404.8h1.3M317.6 404.8h1.3M377.3 404.8h1.3M220.3 412.8h1.3M256.4 412.8h1.3M259.4 412.8h1.3M324.6 412.8h1.3M333.6 412.8h2.3M338.6 412.8h1.3M346.5 412.8h1.3M221.3 420.8h1.3M228.3 420.8h1.3M238.3 420.8h1.3M258.4 420.8h1.3M272.4 420.8h1.3M231.3 428.8h1.3M338.6 436.8h1.3M236.3 444.8h1.3M191.2 452.8h1.3M227.3 452.8h1.3M231.3 452.8h1.3M256.4 452.8h1.3M270.4 452.8h1.3M275.4 452.8h1.3M299.5 452.8h1.3M333.6 452.8h1.3M205.2 460.8h1.3M222.3 460.8h1.3M229.3 460.8h1.3M270.4 460.8h1.3M279.5 460.8h1.3M286.5 460.8h1.3M220.3 468.8h1.3M230.3 468.8h1.3M247.4 468.8h1.3M278.5 468.8h1.3M316.6 468.8h1.3M234.3 484.8h1.3M280.5 484.8h1.3M289.5 484.8h1.3M244.4 492.8h1.3M254.4 492.8h1.3M289.5 492.8h1.3M323.6 492.8h1.3M218.3 500.8h1.3M255.4 500.8h1.3M272.4 500.8h1.3M307.5 500.8h1.3M196.2 508.8h1.3M317.6 508.8h1.3M322.6 508.8h1.3M215.3 516.8h1.3M229.3 516.8h1.3M258.4 516.8h1.3M268.4 516.8h1.3M293.5 516.8h1.3M297.5 516.8h1.3M299.5 516.8h1.3M345.5 516.8h1.3M198.2 524.8h1.3M210.3 524.8h1.3M214.3 524.8h1.3M235.3 524.8h1.3M252.4 524.8h1.3M287.5 524.8h1.3M308.5 524.8h1.3M319.6 524.8h1.3"/>
<path stroke="#fbdadc" stroke-width="8.30" d="M257.4 404.8h1.3M320.6 404.8h1.3M329.6 404.8h1.3M342.5 404.8h1.3M345.5 404.8h1.3M356.5 404.8h1.3M358.4 404.8h1.3M382.3 404.8h1.3M202.2 412.8h1.3M207.2 412.8h1.3M288.5 412.8h2.3M327.6 412.8h2.3M357.5 412.8h1.3M374.4 412.8h1.3M381.3 412.8h1.3M253.4 420.8h1.3M259.4 420.8h1.3M265.4 420.8h1.3M271.4 420.8h1.3M273.4 420.8h1.3M278.5 420.8h1.3M294.5 420.8h1.3M313.6 420.8h1.3M317.6 420.8h1.3M338.6 420.8h3.3M342.5 420.8h1.3M372.4 420.8h1.3M340.5 428.8h2.3M351.5 428.8h1.3M360.4 428.8h2.3M204.2 436.8h1.3M223.3 436.8h1.3M247.4 436.8h1.3M275.4 436.8h1.3M332.6 436.8h1.3M349.5 436.8h1.3M362.4 436.8h1.3M216.3 444.8h1.3M224.3 444.8h1.3M231.3 444.8h1.3M316.6 444.8h1.3M336.6 444.8h2.3M340.5 444.8h1.3M356.5 444.8h3.3M366.4 444.8h1.3M373.4 444.8h1.3M383.3 444.8h1.3M196.2 452.8h1.3M230.3 452.8h1.3M264.4 452.8h2.3M268.4 452.8h1.3M277.4 452.8h1.3M280.5 452.8h1.3M286.5 452.8h1.3M290.5 452.8h1.3M304.5 452.8h1.3M336.6 452.8h1.3M338.6 452.8h3.3M351.5 452.8h1.3M363.4 452.8h2.3M210.3 460.8h1.3M265.4 460.8h1.3M349.5 460.8h1.3M353.5 460.8h1.3M357.5 460.8h1.3M359.4 460.8h1.3M361.4 460.8h1.3M363.4 460.8h1.3M373.4 460.8h1.3M375.4 460.8h2.3M320.6 468.8h1.3M338.6 468.8h1.3M356.5 468.8h1.3M366.4 468.8h1.3M375.4 468.8h1.3M330.6 476.8h1.3M335.6 476.8h1.3M345.5 476.8h1.3M349.5 476.8h1.3M351.5 476.8h1.3M360.4 476.8h1.3M383.3 476.8h1.3M197.2 484.8h1.3M214.3 484.8h1.3M263.4 484.8h1.3M309.5 484.8h1.3M315.6 484.8h1.3M335.6 484.8h2.3M349.5 484.8h1.3M376.3 484.8h1.3M202.2 492.8h1.3M220.3 492.8h1.3M246.4 492.8h1.3M324.6 492.8h1.3M331.6 492.8h2.3M342.5 492.8h1.3M362.4 492.8h1.3M364.4 492.8h1.3M369.4 492.8h1.3M376.3 492.8h1.3M382.3 492.8h1.3M261.4 500.8h1.3M284.5 500.8h1.3M377.3 500.8h1.3M381.3 500.8h1.3M383.3 500.8h1.3M226.3 508.8h1.3M293.5 508.8h1.3M344.5 508.8h1.3M349.5 508.8h1.3M361.4 508.8h1.3M372.4 508.8h1.3M377.3 508.8h1.3M191.2 516.8h1.3M205.2 516.8h1.3M305.5 516.8h1.3M308.5 516.8h1.3M317.6 516.8h1.3M322.6 516.8h1.3M327.6 516.8h1.3M363.4 516.8h1.3M379.3 516.8h1.3M383.3 516.8h1.3M191.2 524.8h1.3M195.2 524.8h1.3M263.4 524.8h1.3M265.4 524.8h1.3M301.5 524.8h1.3M306.5 524.8h1.3M312.5 524.8h2.3M325.6 524.8h1.3M330.6 524.8h3.3M334.6 524.8h1.3M342.5 524.8h1.3M351.5 524.8h1.3M360.4 524.8h1.3M370.4 524.8h1.3M375.4 524.8h1.3M377.3 524.8h1.3"/>
<path stroke="#b6bddd" stroke-width="8.30" d="M261.4 404.8h1.3M286.5 404.8h1.3M362.4 404.8h1.3M197.2 412.8h1.3M208.2 412.8h1.3M371.4 412.8h1.3M245.4 428.8h1.3M295.5 428.8h1.3M310.5 428.8h1.3M338.6 428.8h1.3M314.6 436.8h1.3M341.5 444.8h1.3M208.2 452.8h1.3M353.5 468.8h1.3M366.4 476.8h1.3M302.5 492.8h1.3M373.4 492.8h1.3M192.2 500.8h1.3M355.5 500.8h1.3M240.3 516.8h1.3"/>
<path stroke="#f49a9d" stroke-width="8.30" d="M270.4 404.8h1.3M323.6 412.8h1.3M337.6 460.8h1.3M371.4 468.8h1.3M378.3 492.8h1.3M336.6 500.8h1.3M352.5 500.8h1.3M371.4 500.8h1.3M358.4 516.8h1.3M338.6 524.8h1.3"/>
<path stroke="#c6cbe5" stroke-width="8.30" d="M288.5 404.8h1.3M344.5 404.8h1.3M213.3 412.8h1.3M309.5 412.8h1.3M312.5 412.8h1.3M353.5 420.8h1.3M237.3 428.8h1.3M280.5 428.8h1.3M364.4 428.8h1.3M227.3 436.8h1.3M301.5 436.8h1.3M196.2 444.8h1.3M211.3 444.8h1.3M241.3 444.8h1.3M306.5 452.8h1.3M314.6 452.8h1.3M293.5 460.8h1.3M304.5 460.8h1.3M248.4 468.8h1.3M235.3 492.8h1.3M256.4 492.8h1.3M317.6 492.8h2.3M193.2 500.8h1.3M283.5 500.8h1.3M288.5 500.8h1.3M264.4 508.8h1.3M329.6 508.8h1.3M310.5 516.8h1.3M348.5 516.8h1.3M369.4 516.8h1.3M196.2 524.8h1.3M228.3 524.8h1.3M275.4 524.8h1.3M364.4 524.8h1.3"/>
<path stroke="#a6aed6" stroke-width="8.30" d="M330.6 404.8h1.3M332.6 404.8h1.3M361.4 404.8h1.3M239.3 412.8h1.3M192.2 468.8h1.3M371.4 484.8h1.3"/>
<path stroke="#ea484e" stroke-width="8.30" d="M331.6 404.8h1.3M317.6 436.8h1.3M195.2 444.8h1.3M224.3 460.8h1.3M246.4 468.8h1.3M288.5 524.8h1.3"/>
<path stroke="#f5a3a6" stroke-width="8.30" d="M334.6 404.8h1.3M234.3 412.8h1.3M218.3 420.8h1.3M327.6 428.8h1.3M213.3 436.8h1.3M281.5 452.8h1.3M344.5 468.8h1.3M339.6 476.8h1.3M348.5 476.8h1.3M362.4 476.8h1.3M352.5 492.8h1.3M360.4 492.8h1.3M376.3 500.8h1.3M216.3 508.8h1.3M374.4 516.8h1.3M344.5 524.8h1.3"/>
<path stroke="#f29194" stroke-width="8.30" d="M340.5 404.8h1.3M367.4 404.8h1.3M340.5 412.8h1.3M359.4 420.8h1.3M349.5 428.8h1.3M382.3 436.8h1.3M361.4 444.8h1.3M287.5 468.8h1.3M336.6 468.8h1.3M340.5 476.8h1.3M330.6 492.8h1.3M357.5 500.8h1.3"/>
<path stroke="#f8bfc1" stroke-width="8.30" d="M353.5 404.8h1.3M215.3 412.8h1.3M208.2 420.8h1.3M343.5 420.8h1.3M346.5 420.8h1.3M373.4 420.8h1.3M356.5 428.8h1.3M375.4 428.8h1.3M296.5 444.8h1.3M338.6 444.8h1.3M355.5 444.8h1.3M367.4 444.8h1.3M198.2 452.8h1.3M335.6 452.8h1.3M342.5 452.8h1.3M359.4 452.8h1.3M366.4 452.8h1.3M370.4 452.8h1.3M381.3 452.8h1.3M383.3 452.8h1.3M342.5 460.8h1.3M344.5 460.8h1.3M368.4 460.8h1.3M378.3 460.8h1.3M339.6 468.8h1.3M345.5 468.8h1.3M347.5 468.8h1.3M350.5 468.8h1.3M358.4 468.8h2.3M365.4 468.8h1.3M373.4 468.8h1.3M377.3 468.8h2.3M346.5 476.8h2.3M350.5 476.8h1.3M359.4 476.8h1.3M361.4 476.8h1.3M330.6 484.8h1.3M338.6 484.8h2.3M353.5 484.8h1.3M383.3 484.8h1.3M337.6 492.8h1.3M356.5 492.8h1.3M379.3 492.8h1.3M339.6 500.8h1.3M349.5 500.8h1.3M358.4 500.8h1.3M367.4 500.8h1.3M370.4 500.8h1.3M380.3 500.8h1.3M280.5 508.8h1.3M339.6 508.8h1.3M350.5 508.8h1.3M354.5 508.8h1.3M356.5 508.8h1.3M254.4 516.8h1.3M341.5 524.8h1.3M367.4 524.8h1.3"/>
<path stroke="#f6acaf" stroke-width="8.30" d="M357.5 404.8h1.3M360.4 404.8h1.3M351.5 412.8h1.3M352.5 420.8h1.3M342.5 428.8h1.3M367.4 428.8h1.3M278.5 436.8h1.3M289.5 444.8h1.3M365.4 444.8h1.3M214.3 452.8h1.3M261.4 452.8h1.3M352.5 452.8h1.3M377.3 452.8h1.3M341.5 460.8h1.3M345.5 460.8h1.3M356.5 460.8h1.3M332.6 468.8h1.3M361.4 468.8h1.3M364.4 468.8h1.3M382.3 468.8h1.3M356.5 476.8h1.3M382.3 476.8h1.3M205.2 484.8h1.3M329.6 484.8h1.3M334.6 492.8h1.3M345.5 492.8h1.3M350.5 492.8h1.3M371.4 516.8h1.3M335.6 524.8h1.3M356.5 524.8h1.3M380.3 524.8h1.3"/>
<path stroke="#e93e45" stroke-width="8.30" d="M366.4 404.8h1.3M346.5 444.8h1.3M222.3 476.8h1.3M299.5 500.8h1.3M271.4 516.8h1.3M223.3 524.8h1.3"/>
<path stroke="#9ea6d2" stroke-width="8.30" d="M235.3 412.8h1.3M353.5 412.8h1.3M193.2 452.8h1.3M202.2 500.8h1.3M260.4 500.8h1.3"/>
<path stroke="#eb5156" stroke-width="8.30" d="M257.4 412.8h1.3M370.4 444.8h1.3M367.4 468.8h1.3"/>
<path stroke="#7582bf" stroke-width="8.30" d="M278.5 412.8h1.3M214.3 492.8h1.3M231.3 524.8h1.3"/>
<path stroke="#f1888c" stroke-width="8.30" d="M354.5 412.8h1.3M383.3 468.8h1.3M334.6 476.8h1.3M303.5 484.8h1.3M347.5 484.8h1.3M257.4 492.8h1.3M283.5 508.8h1.3M353.5 508.8h1.3"/>
<path stroke="#ed6368" stroke-width="8.30" d="M216.3 420.8h1.3M367.4 476.8h1.3"/>
<path stroke="#aeb5da" stroke-width="8.30" d="M283.5 420.8h1.3M365.4 420.8h1.3M230.3 428.8h1.3M222.3 436.8h1.3M287.5 452.8h1.3M367.4 460.8h1.3M357.5 492.8h1.3M241.3 508.8h1.3M261.4 516.8h1.3M328.6 516.8h1.3M253.4 524.8h1.3"/>
<path stroke="#ef767a" stroke-width="8.30" d="M308.5 420.8h1.3M374.4 444.8h1.3M197.2 476.8h1.3M296.5 484.8h1.3M241.3 500.8h1.3M250.4 508.8h1.3M260.4 516.8h1.3M338.6 516.8h1.3"/>
<path stroke="#6d7abc" stroke-width="8.30" d="M224.3 428.8h1.3"/>
<path stroke="#ec5a5f" stroke-width="8.30" d="M275.4 428.8h1.3M297.5 428.8h1.3M356.5 436.8h1.3M233.3 476.8h1.3M211.3 524.8h1.3"/>
<path stroke="#e6232a" stroke-width="8.30" d="M355.5 428.8h1.3M376.3 516.8h1.3"/>
<path stroke="#8590c7" stroke-width="8.30" d="M210.3 444.8h1.3M302.5 444.8h1.3M200.2 484.8h1.3M230.3 484.8h1.3M298.5 492.8h1.3M236.3 524.8h1.3"/>
<path stroke="#7d89c3" stroke-width="8.30" d="M297.5 452.8h1.3M278.5 508.8h1.3M337.6 508.8h1.3"/>
<path stroke="#8d98ca" stroke-width="8.30" d="M331.6 452.8h1.3M348.5 468.8h1.3M374.4 484.8h1.3M355.5 524.8h1.3"/>
<path stroke="#e72c33" stroke-width="8.30" d="M242.3 468.8h1.3M281.5 468.8h1.3M320.6 508.8h1.3"/>
<path stroke="#e8353c" stroke-width="8.30" d="M326.6 468.8h1.3"/>
<path stroke="#f07f83" stroke-width="8.30" d="M259.4 476.8h1.3M261.4 492.8h1.3M311.5 500.8h1.3M220.3 508.8h1.3"/>
<path stroke="#ee6c71" stroke-width="8.30" d="M304.5 500.8h1.3M364.4 500.8h1.3M376.3 508.8h1.3M288.5 516.8h1.3M333.6 516.8h1.3"/>
</g>
<rect x="191.20" y="385.40" width="139.40" height="15.20" fill="#3f7b80" />
<rect x="330.60" y="385.40" width="53.70" height="15.20" fill="#cde7e0" />
<text x="260.00" y="381.70" font-size="10.4" text-anchor="middle" fill="#111" font-family='"Liberation Sans", sans-serif' textLength="42.2" lengthAdjust="spacingAndGlyphs">MES low</text>
<text x="356.85" y="381.70" font-size="10.4" text-anchor="middle" fill="#111" font-family='"Liberation Sans", sans-serif' textLength="45.7" lengthAdjust="spacingAndGlyphs">MES high</text>
<text x="386.30" y="407.73" font-size="7.3" text-anchor="start" font-weight="normal" fill="#222" font-family='"Liberation Sans", sans-serif' >CDH2</text>
<text x="386.30" y="415.73" font-size="7.3" text-anchor="start" font-weight="normal" fill="#222" font-family='"Liberation Sans", sans-serif' >ZEB1</text>
<text x="386.30" y="423.73" font-size="7.3" text-anchor="start" font-weight="normal" fill="#222" font-family='"Liberation Sans", sans-serif' >ZEB2</text>
<text x="386.30" y="431.73" font-size="7.3" text-anchor="start" font-weight="normal" fill="#222" font-family='"Liberation Sans", sans-serif' >MMP3</text>
<text x="386.30" y="439.73" font-size="7.3" text-anchor="start" font-weight="normal" fill="#222" font-family='"Liberation Sans", sans-serif' >FOXC2</text>
<text x="386.30" y="447.73" font-size="7.3" text-anchor="start" font-weight="normal" fill="#222" font-family='"Liberation Sans", sans-serif' >TWIST2</text>
<text x="386.30" y="455.73" font-size="7.3" text-anchor="start" font-weight="normal" fill="#222" font-family='"Liberation Sans", sans-serif' >MMP2</text>
<text x="386.30" y="463.73" font-size="7.3" text-anchor="start" font-weight="normal" fill="#222" font-family='"Liberation Sans", sans-serif' >SNAI2</text>
<text x="386.30" y="471.73" font-size="7.3" text-anchor="start" font-weight="normal" fill="#222" font-family='"Liberation Sans", sans-serif' >FN1</text>
<text x="386.30" y="479.73" font-size="7.3" text-anchor="start" font-weight="normal" fill="#222" font-family='"Liberation Sans", sans-serif' >MMP9</text>
<text x="386.30" y="487.73" font-size="7.3" text-anchor="start" font-weight="normal" fill="#222" font-family='"Liberation Sans", sans-serif' >GSC</text>
<text x="386.30" y="495.73" font-size="7.3" text-anchor="start" font-weight="normal" fill="#222" font-family='"Liberation Sans", sans-serif' >VIM</text>
<text x="386.30" y="503.73" font-size="7.3" text-anchor="start" font-weight="normal" fill="#222" font-family='"Liberation Sans", sans-serif' >SNAI1</text>
<text x="386.30" y="511.73" font-size="7.3" text-anchor="start" font-weight="normal" fill="#222" font-family='"Liberation Sans", sans-serif' >TWIST1</text>
<text x="386.30" y="519.73" font-size="7.3" text-anchor="start" font-weight="normal" fill="#222" font-family='"Liberation Sans", sans-serif' >ITGB6</text>
<text x="386.30" y="527.73" font-size="7.3" text-anchor="start" font-weight="normal" fill="#222" font-family='"Liberation Sans", sans-serif' >SOX10</text>
<defs><linearGradient id="ck393" x1="0" y1="0" x2="0" y2="1"><stop offset="0" stop-color="#e8262c"/><stop offset="0.5" stop-color="#ffffff"/><stop offset="1" stop-color="#3c4ea5"/></linearGradient></defs>
<rect x="414.30" y="393.90" width="5.00" height="72.70" fill="url(#ck393)" />
<text x="422.30" y="400.40" font-size="7.2" text-anchor="start" font-weight="normal" fill="#222" font-family='"Liberation Sans", sans-serif' >6</text>
<text x="422.30" y="433.40" font-size="7.2" text-anchor="start" font-weight="normal" fill="#222" font-family='"Liberation Sans", sans-serif' >0</text>
<text x="420.40" y="465.30" font-size="7.2" text-anchor="start" font-weight="normal" fill="#222" font-family='"Liberation Sans", sans-serif' >−6</text>
<path d="M191.20,412.80H174.60V420.80H191.20M191.20,404.80H170.30V416.80H174.60M191.20,436.80H174.90V444.80H191.20M191.20,428.80H172.40V440.80H174.90M191.20,468.80H180.70V476.80H191.20M191.20,460.80H176.60V472.80H180.70M191.20,452.80H175.40V466.80H176.60M191.20,484.80H176.60V492.80H191.20M191.20,500.80H175.40V508.80H191.20M176.60,488.80H172.40V504.80H175.40M175.40,459.80H171.60V496.80H172.40M172.40,434.80H169.60V478.30H171.60M191.20,516.80H169.60V524.80H191.20M169.60,456.55H167.50V520.80H169.60M170.30,410.80H165.80V488.67H167.50" stroke="#6e6e6e" fill="none" stroke-width="0.8" fill="none"/>
<defs><pattern id="dotA" width="2" height="2" patternUnits="userSpaceOnUse"><rect width="2" height="2" fill="#fff"/><rect width="1.2" height="1.2" fill="#4456ad"/></pattern><pattern id="dotB" width="2" height="1.6" patternUnits="userSpaceOnUse"><rect width="2" height="1.6" fill="#fff"/><rect width="2" height="1.0" fill="#5767b6"/></pattern><pattern id="dotC" width="1.6" height="2" patternUnits="userSpaceOnUse"><rect width="1.6" height="2" fill="#fff"/><rect width="0.9" height="2" fill="#6a78be"/></pattern></defs>
<rect x="17.10" y="41.80" width="21.10" height="5.00" fill="#b2df8a" />
<rect x="38.20" y="41.80" width="32.90" height="5.00" fill="#3a83bd" />
<rect x="71.10" y="41.80" width="60.80" height="5.00" fill="#a6cee3" />
<rect x="71.40" y="49.10" width="60.50" height="59.70" fill="#4456ad" />
<rect x="38.40" y="108.80" width="33.00" height="32.70" fill="#4456ad" />
<rect x="17.10" y="141.50" width="21.20" height="21.50" fill="#4456ad" />
<rect x="17.10" y="49.10" width="1.90" height="59.50" fill="#7886c6" />
<rect x="38.40" y="105.00" width="33.00" height="3.80" fill="#6e7dc1" />
<rect x="38.40" y="49.10" width="1.50" height="56.00" fill="#c5cbe6" />
<rect x="48.50" y="49.10" width="1.00" height="56.00" fill="#e0e3f2" />
<rect x="38.40" y="49.10" width="33.00" height="1.00" fill="#b7bee0" />
<rect x="71.40" y="108.80" width="3.40" height="32.70" fill="#8e99ce" />
<rect x="71.40" y="140.00" width="9.00" height="1.50" fill="#a9b2da" />
<rect x="71.40" y="160.80" width="60.30" height="2.10" fill="#6877bf" />
<rect x="30.00" y="120.00" width="4.00" height="18.00" fill="#eceef8" />
<rect x="46.00" y="145.00" width="20.00" height="6.00" fill="#eef0f8" />
<path d="M22.3 24.3V7.2H81.7V25 M40.4 28.1V7.2 M18 40V24.3H27.5V40 M21.4 40V36H33.7V40 M38.5 40V28.1H42.3V36 M40 36H50V40 M71.7 40V25H91.6V32.3 M73.2 40V32.3H110.6V35 M89.7 33.8H131.5V40 M75 40V36H105V40" stroke="#6a6a6a" fill="none" stroke-width="0.9" />
<path d="M40.4 7.6H61.2" stroke="#6a6a6a" fill="none" stroke-width="1.0" />
<path d="M17.5 40.2H131.5" stroke="#888" fill="none" stroke-width="0.8" />
<path d="M44 38.5H67.9 M76 37.5H128 M22 38.6H36" stroke="#777" fill="none" stroke-width="0.8" />
<path d="M145.4 23.2V43.5H159.3V23.2" stroke="#a8a8a8" fill="none" stroke-width="0.8" />
<rect x="148.40" y="27.10" width="3.60" height="2.80" fill="#a6cee3" stroke="#333" stroke-width="0.35"/>
<text x="155.60" y="29.90" font-size="3.6" text-anchor="start" font-weight="normal" fill="#444" font-family='"Liberation Sans", sans-serif' >1</text>
<rect x="148.40" y="32.10" width="3.60" height="2.80" fill="#3a83bd" stroke="#333" stroke-width="0.35"/>
<text x="155.60" y="34.90" font-size="3.6" text-anchor="start" font-weight="normal" fill="#444" font-family='"Liberation Sans", sans-serif' >2</text>
<rect x="148.40" y="37.20" width="3.60" height="2.80" fill="#b2df8a" stroke="#333" stroke-width="0.35"/>
<text x="155.60" y="40.00" font-size="3.6" text-anchor="start" font-weight="normal" fill="#444" font-family='"Liberation Sans", sans-serif' >3</text>
<rect x="19.30" y="226.40" width="71.30" height="4.50" fill="#3a83bd" />
<rect x="90.60" y="226.40" width="40.80" height="4.50" fill="#a6cee3" />
<rect x="90.60" y="233.70" width="40.80" height="40.00" fill="#4456ad" />
<rect x="19.30" y="273.70" width="71.30" height="70.80" fill="#4456ad" />
<path d="M55.1 222V192.1H91.5V218.5 M20.5 225V222H89.4V225 M91.5 225H131" stroke="#6a6a6a" fill="none" stroke-width="0.9" />
<path d="M20.5 225.1H89.4" stroke="#888" fill="none" stroke-width="0.8" />
<path d="M89.5 221.5l1.5-3l1.5 3z" stroke="#6a6a6a" fill="none" stroke-width="0.7" />
<path d="M144.3 208.0V223.3H158.8V208.0" stroke="#a8a8a8" fill="none" stroke-width="0.8" />
<rect x="147.30" y="212.00" width="3.60" height="2.80" fill="#a6cee3" stroke="#333" stroke-width="0.35"/>
<text x="154.50" y="214.80" font-size="3.6" text-anchor="start" font-weight="normal" fill="#444" font-family='"Liberation Sans", sans-serif' >1</text>
<rect x="147.30" y="217.00" width="3.60" height="2.80" fill="#3a83bd" stroke="#333" stroke-width="0.35"/>
<text x="154.50" y="219.80" font-size="3.6" text-anchor="start" font-weight="normal" fill="#444" font-family='"Liberation Sans", sans-serif' >2</text>
<rect x="13.90" y="403.90" width="29.90" height="4.90" fill="#3a83bd" />
<rect x="43.80" y="403.90" width="80.40" height="4.90" fill="#a6cee3" />
<rect x="43.80" y="420.10" width="71.30" height="70.70" fill="#4456ad" />
<rect x="13.90" y="490.80" width="29.90" height="29.20" fill="#4456ad" />
<rect x="115.10" y="410.90" width="9.10" height="9.20" fill="#4456ad" />
<rect x="13.90" y="410.90" width="29.90" height="9.20" fill="#8f9ace" />
<rect x="43.80" y="410.90" width="71.30" height="9.20" fill="#7380c1" />
<rect x="13.90" y="413.40" width="101.20" height="0.70" fill="#ffffff" opacity="0.45"/>
<rect x="13.90" y="416.20" width="101.20" height="0.70" fill="#ffffff" opacity="0.45"/>
<rect x="13.90" y="418.60" width="101.20" height="0.70" fill="#ffffff" opacity="0.45"/>
<rect x="115.10" y="420.10" width="9.10" height="99.90" fill="#9aa3d3" />
<rect x="117.00" y="420.10" width="0.60" height="99.90" fill="#ffffff" opacity="0.4"/>
<rect x="119.60" y="420.10" width="0.60" height="99.90" fill="#ffffff" opacity="0.4"/>
<rect x="122.00" y="420.10" width="0.60" height="99.90" fill="#ffffff" opacity="0.4"/>
<path d="M19.2 402.3V370.1H98V389.1 M79.4 400V389.1H116.6V396.1 M44.4 402.3V400H114.7V402.3 M14.8 402.3H23.6" stroke="#4a4a4a" fill="none" stroke-width="0.9" />
<path d="M116.6 396.1l3 4l2 -1l1.5 3" stroke="#6a6a6a" fill="none" stroke-width="0.8" />
<path d="M44.4 402.3H114.7" stroke="#888" fill="none" stroke-width="0.8" />
<path d="M136.3 385.8V400.7H151.9V385.8" stroke="#a8a8a8" fill="none" stroke-width="0.8" />
<rect x="139.30" y="389.50" width="3.60" height="2.80" fill="#a6cee3" stroke="#333" stroke-width="0.35"/>
<text x="146.50" y="392.30" font-size="3.6" text-anchor="start" font-weight="normal" fill="#444" font-family='"Liberation Sans", sans-serif' >1</text>
<rect x="139.30" y="394.50" width="3.60" height="2.80" fill="#3a83bd" stroke="#333" stroke-width="0.35"/>
<text x="146.50" y="397.30" font-size="3.6" text-anchor="start" font-weight="normal" fill="#444" font-family='"Liberation Sans", sans-serif' >2</text>
</svg>
</body></html>
